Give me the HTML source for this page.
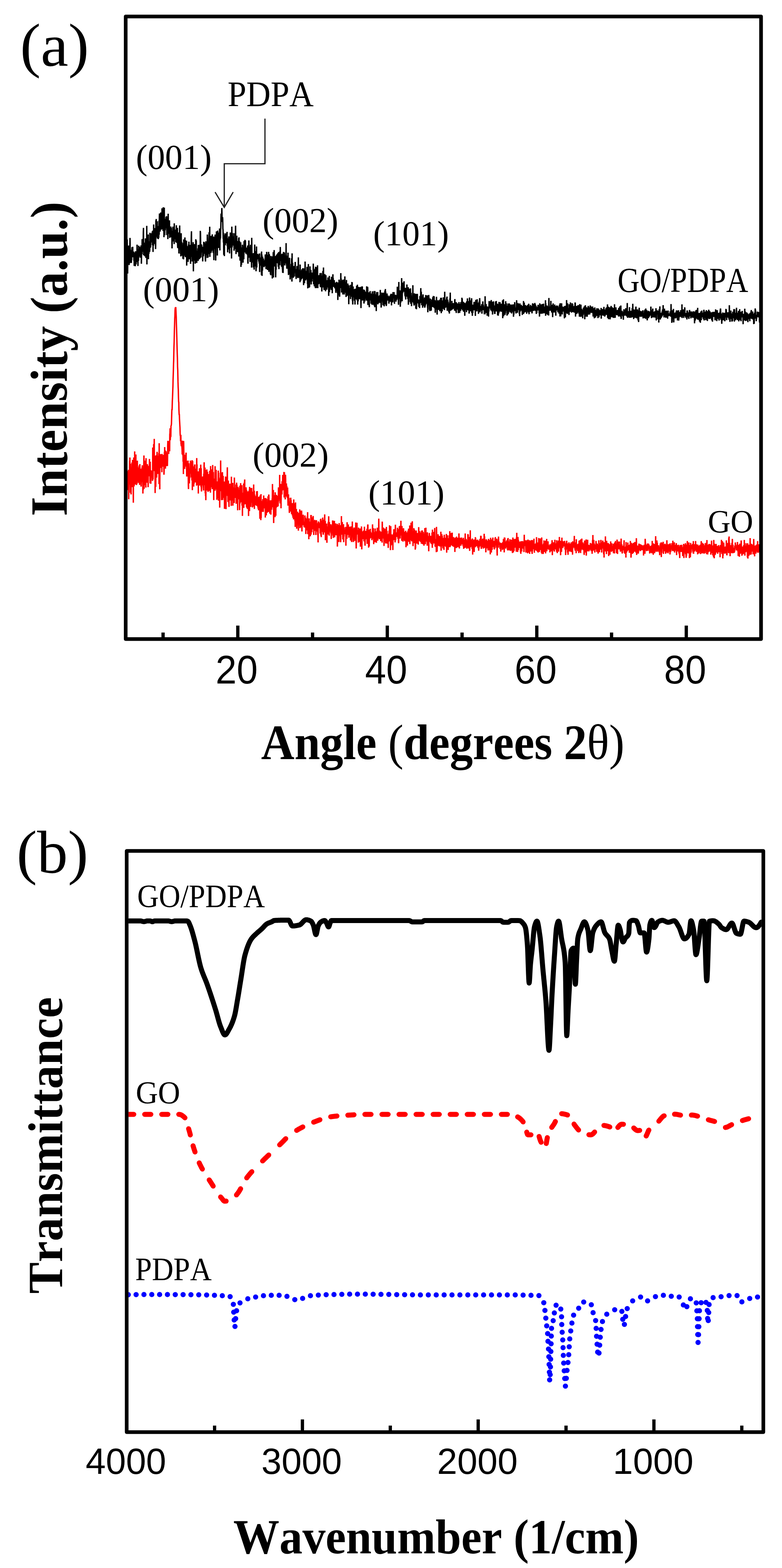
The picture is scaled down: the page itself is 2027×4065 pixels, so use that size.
<!DOCTYPE html>
<html><head><meta charset="utf-8"><title>XRD and FTIR</title>
<style>html,body{margin:0;padding:0;background:#fff;}svg{display:block;}text{font-kerning:none;}</style>
</head><body>
<svg width="2027" height="4065" viewBox="0 0 2027 4065"><defs><clipPath id="clipA"><rect x="325.8" y="42.7" width="1646.9" height="1614.1"/></clipPath><clipPath id="clipB"><rect x="333.15" y="2210.75" width="1640.7" height="1497.3"/></clipPath></defs><g clip-path="url(#clipA)">
<polyline points="325.8,1241.8 326.2,1255.5 326.6,1221.5 327.0,1225.2 327.4,1266.4 327.7,1255.8 328.1,1271.7 328.5,1246.0 328.9,1242.1 329.3,1255.7 329.7,1270.7 330.1,1262.7 330.5,1221.2 330.8,1257.9 331.2,1225.7 331.6,1258.5 332.0,1230.1 332.4,1226.5 332.8,1236.5 333.2,1218.0 333.6,1294.2 333.9,1243.5 334.3,1255.8 334.7,1252.4 335.1,1244.0 335.5,1233.2 335.9,1194.2 336.3,1252.8 336.7,1186.1 337.0,1223.3 337.4,1237.2 337.8,1277.6 338.2,1202.2 338.6,1226.4 339.0,1213.9 339.4,1277.0 339.8,1281.7 340.1,1250.0 340.5,1228.7 340.9,1222.3 341.3,1212.4 341.7,1260.6 342.1,1198.9 342.5,1223.0 342.9,1263.1 343.2,1241.1 343.6,1192.2 344.0,1249.2 344.4,1230.5 344.8,1233.0 345.2,1238.7 345.6,1303.2 346.0,1224.8 346.3,1236.9 346.7,1186.1 347.1,1216.2 347.5,1261.0 347.9,1251.6 348.3,1234.2 348.7,1241.0 349.1,1170.3 349.4,1219.2 349.8,1237.8 350.2,1254.9 350.6,1255.9 351.0,1210.3 351.4,1243.8 351.8,1245.3 352.2,1178.2 352.5,1228.0 352.9,1220.6 353.3,1232.4 353.7,1235.9 354.1,1257.4 354.5,1218.9 354.9,1214.3 355.3,1253.6 355.6,1236.9 356.0,1194.3 356.4,1227.8 356.8,1233.0 357.2,1248.6 357.6,1247.1 358.0,1221.6 358.4,1211.5 358.7,1229.0 359.1,1212.7 359.5,1252.2 359.9,1242.5 360.3,1225.2 360.7,1206.8 361.1,1243.6 361.5,1211.2 361.8,1257.1 362.2,1207.5 362.6,1203.2 363.0,1239.5 363.4,1224.3 363.8,1215.1 364.2,1247.1 364.6,1240.8 364.9,1235.1 365.3,1232.3 365.7,1261.5 366.1,1251.7 366.5,1247.4 366.9,1216.2 367.3,1245.0 367.7,1234.9 368.0,1211.9 368.4,1229.0 368.8,1206.3 369.2,1227.6 369.6,1232.2 370.0,1246.1 370.4,1279.5 370.8,1238.0 371.1,1270.3 371.5,1211.1 371.9,1216.3 372.3,1218.5 372.7,1203.1 373.1,1180.8 373.5,1267.4 373.9,1231.1 374.2,1209.6 374.6,1233.0 375.0,1230.2 375.4,1232.1 375.8,1215.6 376.2,1258.1 376.6,1194.2 377.0,1227.9 377.3,1221.5 377.7,1213.6 378.1,1263.9 378.5,1187.8 378.9,1210.8 379.3,1217.0 379.7,1207.8 380.1,1230.4 380.4,1209.3 380.8,1210.4 381.2,1206.3 381.6,1251.4 382.0,1203.3 382.4,1247.5 382.8,1211.8 383.2,1212.4 383.5,1207.4 383.9,1263.1 384.3,1220.5 384.7,1222.8 385.1,1227.0 385.5,1217.4 385.9,1220.8 386.3,1214.0 386.6,1211.4 387.0,1234.5 387.4,1189.8 387.8,1221.2 388.2,1234.9 388.6,1206.3 389.0,1253.3 389.4,1197.1 389.7,1228.5 390.1,1219.3 390.5,1219.8 390.9,1254.2 391.3,1234.6 391.7,1230.7 392.1,1219.8 392.5,1233.9 392.8,1221.3 393.2,1231.7 393.6,1228.1 394.0,1235.5 394.4,1238.3 394.8,1229.2 395.2,1246.5 395.6,1244.6 395.9,1160.2 396.3,1218.4 396.7,1242.8 397.1,1212.2 397.5,1202.3 397.9,1215.1 398.3,1151.3 398.7,1212.9 399.0,1210.9 399.4,1174.6 399.8,1137.7 400.2,1220.8 400.6,1216.7 401.0,1207.0 401.4,1221.9 401.8,1215.8 402.1,1278.2 402.5,1181.3 402.9,1258.0 403.3,1218.1 403.7,1262.2 404.1,1217.8 404.5,1186.5 404.9,1180.4 405.2,1216.1 405.6,1204.4 406.0,1238.3 406.4,1205.2 406.8,1182.7 407.2,1171.4 407.6,1178.7 408.0,1205.2 408.3,1182.9 408.7,1222.8 409.1,1228.5 409.5,1181.5 409.9,1189.8 410.3,1195.9 410.7,1224.5 411.1,1204.5 411.4,1218.4 411.8,1174.5 412.2,1255.1 412.6,1149.1 413.0,1223.3 413.4,1236.0 413.8,1217.6 414.2,1268.4 414.5,1195.7 414.9,1181.7 415.3,1213.8 415.7,1177.3 416.1,1191.6 416.5,1204.6 416.9,1189.0 417.3,1212.4 417.6,1196.7 418.0,1184.5 418.4,1197.7 418.8,1196.4 419.2,1177.6 419.6,1224.2 420.0,1176.7 420.4,1201.6 420.7,1186.6 421.1,1203.1 421.5,1184.6 421.9,1209.9 422.3,1190.5 422.7,1187.3 423.1,1195.4 423.5,1193.7 423.8,1179.4 424.2,1180.5 424.6,1195.4 425.0,1230.8 425.4,1219.4 425.8,1201.5 426.2,1171.7 426.6,1183.7 426.9,1159.0 427.3,1183.5 427.7,1183.7 428.1,1197.2 428.5,1167.8 428.9,1214.9 429.3,1182.9 429.7,1191.1 430.0,1197.2 430.4,1169.8 430.8,1197.7 431.2,1177.9 431.6,1189.6 432.0,1208.2 432.4,1205.1 432.8,1181.9 433.1,1202.5 433.5,1173.4 433.9,1208.3 434.3,1194.0 434.7,1154.5 435.1,1142.8 435.5,1153.9 435.9,1143.2 436.2,1168.1 436.6,1173.1 437.0,1170.1 437.4,1176.8 437.8,1152.7 438.2,1154.2 438.6,1143.5 439.0,1162.9 439.3,1146.6 439.7,1169.9 440.1,1125.7 440.5,1123.4 440.9,1110.3 441.3,1141.1 441.7,1133.4 442.1,1133.0 442.4,1131.4 442.8,1132.5 443.2,1103.4 443.6,1104.9 444.0,1101.6 444.4,1099.9 444.8,1084.1 445.2,1070.7 445.5,1061.0 445.9,1063.9 446.3,1056.4 446.7,1039.5 447.1,1033.2 447.5,1022.1 447.9,1010.0 448.3,1000.2 448.6,985.1 449.0,974.0 449.4,961.4 449.8,943.2 450.2,934.9 450.6,913.3 451.0,897.4 451.4,886.3 451.7,871.8 452.1,854.5 452.5,842.8 452.9,826.5 453.3,819.4 453.7,805.0 454.1,800.7 454.5,797.0 454.8,803.2 455.2,798.2 455.6,796.2 456.0,804.2 456.4,813.2 456.8,821.2 457.2,837.6 457.6,850.3 457.9,860.5 458.3,874.2 458.7,890.2 459.1,905.2 459.5,919.0 459.9,929.9 460.3,951.7 460.7,959.0 461.0,973.0 461.4,989.9 461.8,1002.8 462.2,1010.9 462.6,1030.5 463.0,1041.5 463.4,1042.4 463.8,1062.0 464.1,1069.3 464.5,1076.4 464.9,1073.6 465.3,1086.5 465.7,1094.1 466.1,1101.9 466.5,1108.1 466.9,1122.9 467.2,1130.0 467.6,1129.3 468.0,1143.6 468.4,1135.6 468.8,1127.3 469.2,1150.7 469.6,1152.7 470.0,1156.8 470.3,1142.3 470.7,1154.3 471.1,1151.5 471.5,1158.8 471.9,1164.2 472.3,1178.1 472.7,1171.4 473.1,1142.5 473.4,1169.0 473.8,1180.2 474.2,1163.7 474.6,1197.1 475.0,1162.5 475.4,1229.0 475.8,1143.2 476.2,1149.0 476.5,1176.4 476.9,1180.3 477.3,1195.4 477.7,1180.4 478.1,1179.1 478.5,1215.6 478.9,1209.9 479.3,1185.6 479.6,1205.8 480.0,1194.3 480.4,1196.1 480.8,1196.3 481.2,1204.4 481.6,1190.0 482.0,1176.1 482.4,1173.5 482.7,1210.1 483.1,1202.3 483.5,1203.7 483.9,1233.4 484.3,1235.3 484.7,1209.8 485.1,1199.8 485.5,1194.7 485.8,1216.7 486.2,1198.4 486.6,1213.5 487.0,1220.2 487.4,1194.1 487.8,1221.0 488.2,1257.6 488.6,1267.9 488.9,1216.1 489.3,1201.0 489.7,1218.6 490.1,1230.5 490.5,1240.0 490.9,1253.2 491.3,1215.5 491.7,1240.0 492.0,1222.7 492.4,1215.7 492.8,1223.0 493.2,1220.6 493.6,1194.1 494.0,1217.9 494.4,1219.3 494.8,1227.8 495.1,1197.1 495.5,1200.6 495.9,1237.5 496.3,1219.0 496.7,1229.8 497.1,1236.1 497.5,1245.6 497.9,1193.1 498.2,1218.0 498.6,1270.7 499.0,1208.7 499.4,1195.1 499.8,1227.8 500.2,1231.6 500.6,1227.7 501.0,1212.7 501.3,1242.2 501.7,1223.6 502.1,1261.6 502.5,1209.0 502.9,1254.7 503.3,1240.1 503.7,1224.9 504.1,1213.2 504.4,1204.5 504.8,1247.2 505.2,1204.1 505.6,1234.9 506.0,1250.6 506.4,1244.7 506.8,1221.3 507.2,1221.1 507.5,1215.1 507.9,1226.9 508.3,1243.7 508.7,1226.7 509.1,1220.8 509.5,1258.9 509.9,1187.5 510.3,1236.8 510.6,1204.0 511.0,1242.8 511.4,1252.7 511.8,1236.0 512.2,1229.6 512.6,1224.3 513.0,1257.5 513.4,1244.8 513.7,1222.0 514.1,1279.4 514.5,1231.7 514.9,1229.6 515.3,1223.9 515.7,1258.9 516.1,1231.6 516.5,1224.9 516.8,1224.6 517.2,1213.7 517.6,1258.5 518.0,1249.2 518.4,1244.4 518.8,1240.0 519.2,1218.8 519.6,1222.7 519.9,1237.2 520.3,1204.6 520.7,1227.4 521.1,1262.6 521.5,1213.9 521.9,1265.7 522.3,1274.1 522.7,1248.4 523.0,1249.7 523.4,1242.6 523.8,1240.5 524.2,1256.5 524.6,1255.6 525.0,1248.2 525.4,1235.3 525.8,1245.8 526.1,1257.6 526.5,1257.1 526.9,1261.3 527.3,1267.6 527.7,1271.5 528.1,1228.2 528.5,1248.7 528.9,1210.3 529.2,1198.4 529.6,1229.2 530.0,1232.4 530.4,1257.9 530.8,1239.6 531.2,1212.0 531.6,1224.1 532.0,1279.1 532.3,1230.6 532.7,1286.0 533.1,1242.6 533.5,1296.7 533.9,1264.0 534.3,1218.1 534.7,1249.9 535.1,1231.1 535.4,1237.0 535.8,1227.1 536.2,1217.0 536.6,1271.8 537.0,1244.2 537.4,1239.3 537.8,1222.8 538.2,1232.5 538.5,1248.8 538.9,1270.4 539.3,1275.2 539.7,1261.7 540.1,1240.3 540.5,1240.8 540.9,1235.7 541.3,1272.9 541.6,1228.9 542.0,1271.6 542.4,1239.6 542.8,1258.4 543.2,1256.4 543.6,1220.4 544.0,1245.2 544.4,1246.6 544.7,1245.1 545.1,1271.7 545.5,1277.2 545.9,1208.3 546.3,1244.5 546.7,1245.9 547.1,1246.1 547.5,1254.9 547.8,1261.6 548.2,1263.1 548.6,1239.8 549.0,1249.6 549.4,1226.5 549.8,1216.5 550.2,1267.9 550.6,1233.9 550.9,1255.4 551.3,1205.4 551.7,1243.7 552.1,1228.9 552.5,1257.6 552.9,1223.8 553.3,1262.8 553.7,1273.0 554.0,1296.5 554.4,1250.3 554.8,1246.7 555.2,1246.4 555.6,1240.9 556.0,1251.0 556.4,1251.4 556.8,1272.1 557.1,1270.4 557.5,1208.4 557.9,1246.1 558.3,1241.1 558.7,1239.1 559.1,1238.1 559.5,1267.7 559.9,1246.9 560.2,1218.0 560.6,1256.2 561.0,1258.0 561.4,1271.0 561.8,1261.7 562.2,1295.7 562.6,1254.8 563.0,1290.8 563.3,1248.1 563.7,1271.9 564.1,1253.7 564.5,1253.8 564.9,1275.5 565.3,1291.7 565.7,1220.0 566.1,1246.1 566.4,1298.1 566.8,1225.3 567.2,1264.5 567.6,1238.1 568.0,1259.1 568.4,1260.2 568.8,1241.2 569.2,1264.2 569.5,1315.9 569.9,1247.2 570.3,1259.8 570.7,1259.6 571.1,1264.6 571.5,1250.5 571.9,1193.7 572.3,1239.6 572.6,1253.1 573.0,1260.9 573.4,1273.4 573.8,1225.3 574.2,1296.6 574.6,1278.7 575.0,1262.9 575.4,1257.3 575.7,1254.8 576.1,1291.0 576.5,1224.0 576.9,1245.8 577.3,1296.2 577.7,1278.7 578.1,1286.7 578.5,1233.7 578.8,1269.2 579.2,1290.6 579.6,1266.6 580.0,1286.0 580.4,1260.4 580.8,1248.2 581.2,1283.2 581.6,1257.1 581.9,1319.2 582.3,1275.3 582.7,1252.5 583.1,1274.3 583.5,1249.5 583.9,1264.6 584.3,1270.6 584.7,1235.4 585.0,1243.6 585.4,1268.2 585.8,1320.0 586.2,1257.7 586.6,1272.4 587.0,1255.5 587.4,1263.2 587.8,1268.1 588.1,1270.3 588.5,1237.3 588.9,1235.7 589.3,1211.6 589.7,1285.8 590.1,1271.6 590.5,1261.6 590.9,1301.6 591.2,1245.4 591.6,1280.3 592.0,1247.2 592.4,1294.9 592.8,1258.7 593.2,1299.2 593.6,1314.3 594.0,1281.5 594.3,1293.5 594.7,1292.8 595.1,1277.3 595.5,1263.3 595.9,1253.7 596.3,1286.8 596.7,1297.5 597.1,1261.8 597.4,1290.8 597.8,1293.8 598.2,1261.7 598.6,1274.3 599.0,1266.7 599.4,1311.4 599.8,1235.8 600.2,1297.8 600.5,1270.2 600.9,1288.4 601.3,1255.5 601.7,1266.1 602.1,1251.7 602.5,1270.0 602.9,1277.3 603.3,1252.1 603.6,1310.9 604.0,1266.9 604.4,1302.8 604.8,1279.3 605.2,1285.5 605.6,1292.5 606.0,1263.5 606.4,1267.4 606.7,1286.4 607.1,1304.1 607.5,1238.1 607.9,1272.0 608.3,1289.1 608.7,1275.6 609.1,1272.3 609.5,1290.9 609.8,1265.2 610.2,1270.6 610.6,1288.4 611.0,1287.6 611.4,1287.9 611.8,1256.0 612.2,1306.0 612.6,1285.1 612.9,1258.9 613.3,1251.4 613.7,1270.9 614.1,1256.5 614.5,1291.4 614.9,1292.9 615.3,1267.9 615.7,1264.0 616.0,1323.0 616.4,1273.2 616.8,1262.0 617.2,1293.2 617.6,1264.8 618.0,1289.4 618.4,1279.3 618.8,1289.6 619.1,1270.4 619.5,1291.0 619.9,1294.6 620.3,1284.1 620.7,1270.1 621.1,1322.5 621.5,1265.3 621.9,1259.6 622.2,1305.1 622.6,1287.5 623.0,1258.4 623.4,1284.7 623.8,1252.5 624.2,1284.5 624.6,1297.5 625.0,1294.8 625.3,1281.5 625.7,1301.6 626.1,1299.1 626.5,1297.9 626.9,1257.7 627.3,1310.8 627.7,1310.1 628.1,1279.8 628.4,1337.6 628.8,1278.6 629.2,1278.1 629.6,1283.0 630.0,1279.6 630.4,1285.7 630.8,1301.9 631.2,1288.9 631.5,1253.4 631.9,1316.7 632.3,1289.0 632.7,1308.2 633.1,1286.4 633.5,1249.5 633.9,1251.9 634.3,1243.1 634.6,1298.0 635.0,1298.7 635.4,1286.6 635.8,1307.3 636.2,1279.7 636.6,1301.5 637.0,1285.6 637.4,1298.7 637.7,1263.3 638.1,1271.0 638.5,1297.2 638.9,1314.4 639.3,1270.3 639.7,1299.6 640.1,1316.6 640.5,1286.9 640.8,1273.7 641.2,1319.5 641.6,1278.8 642.0,1297.0 642.4,1296.6 642.8,1284.2 643.2,1299.3 643.6,1305.4 643.9,1274.0 644.3,1337.8 644.7,1275.8 645.1,1316.8 645.5,1272.2 645.9,1315.2 646.3,1269.6 646.7,1325.0 647.0,1262.3 647.4,1291.6 647.8,1298.1 648.2,1311.3 648.6,1276.3 649.0,1297.7 649.4,1283.7 649.8,1292.0 650.1,1314.3 650.5,1264.9 650.9,1297.9 651.3,1298.4 651.7,1290.5 652.1,1294.8 652.5,1265.1 652.9,1302.7 653.2,1300.3 653.6,1294.2 654.0,1301.3 654.4,1315.6 654.8,1276.2 655.2,1313.2 655.6,1274.5 656.0,1294.5 656.3,1281.7 656.7,1296.7 657.1,1313.0 657.5,1255.9 657.9,1303.2 658.3,1313.1 658.7,1289.2 659.1,1272.3 659.4,1319.4 659.8,1294.6 660.2,1282.1 660.6,1299.2 661.0,1287.3 661.4,1304.7 661.8,1293.6 662.2,1309.6 662.5,1289.6 662.9,1297.6 663.3,1292.9 663.7,1301.6 664.1,1285.7 664.5,1297.2 664.9,1311.2 665.3,1273.7 665.6,1294.4 666.0,1303.4 666.4,1301.6 666.8,1273.0 667.2,1297.5 667.6,1294.0 668.0,1313.4 668.4,1301.3 668.7,1309.8 669.1,1318.7 669.5,1318.4 669.9,1312.4 670.3,1322.9 670.7,1290.1 671.1,1287.9 671.5,1316.7 671.8,1294.6 672.2,1314.1 672.6,1296.8 673.0,1295.0 673.4,1331.4 673.8,1345.0 674.2,1284.3 674.6,1295.3 674.9,1304.2 675.3,1313.4 675.7,1316.4 676.1,1348.4 676.5,1281.0 676.9,1343.3 677.3,1301.5 677.7,1309.3 678.0,1300.6 678.4,1327.0 678.8,1320.5 679.2,1298.9 679.6,1325.6 680.0,1305.4 680.4,1314.6 680.8,1324.0 681.1,1294.0 681.5,1307.0 681.9,1298.5 682.3,1327.3 682.7,1316.9 683.1,1314.0 683.5,1284.4 683.9,1318.0 684.2,1308.4 684.6,1314.2 685.0,1305.7 685.4,1308.9 685.8,1291.8 686.2,1292.9 686.6,1315.4 687.0,1301.1 687.3,1298.2 687.7,1341.7 688.1,1291.1 688.5,1317.1 688.9,1291.0 689.3,1314.8 689.7,1306.8 690.1,1336.2 690.4,1329.7 690.8,1293.2 691.2,1324.4 691.6,1317.9 692.0,1311.8 692.4,1329.5 692.8,1314.5 693.2,1313.4 693.5,1300.9 693.9,1317.6 694.3,1321.0 694.7,1287.8 695.1,1287.1 695.5,1309.5 695.9,1327.3 696.3,1303.9 696.6,1281.9 697.0,1287.3 697.4,1311.1 697.8,1321.2 698.2,1300.4 698.6,1297.3 699.0,1311.7 699.4,1331.7 699.7,1307.2 700.1,1297.1 700.5,1302.8 700.9,1302.4 701.3,1304.4 701.7,1317.4 702.1,1334.3 702.5,1312.4 702.8,1296.8 703.2,1307.4 703.6,1313.0 704.0,1321.5 704.4,1311.8 704.8,1303.4 705.2,1308.2 705.6,1291.9 705.9,1297.6 706.3,1254.8 706.7,1315.1 707.1,1303.1 707.5,1309.6 707.9,1303.6 708.3,1305.0 708.7,1270.2 709.0,1323.7 709.4,1355.9 709.8,1320.0 710.2,1302.2 710.6,1304.3 711.0,1283.6 711.4,1310.2 711.8,1318.5 712.1,1302.1 712.5,1302.5 712.9,1340.7 713.3,1276.2 713.7,1297.6 714.1,1292.4 714.5,1285.4 714.9,1337.2 715.2,1300.8 715.6,1316.6 716.0,1315.1 716.4,1282.8 716.8,1309.5 717.2,1295.2 717.6,1306.8 718.0,1309.6 718.3,1284.9 718.7,1314.2 719.1,1285.3 719.5,1302.9 719.9,1295.4 720.3,1298.8 720.7,1312.8 721.1,1302.5 721.4,1300.5 721.8,1263.6 722.2,1281.6 722.6,1294.7 723.0,1289.7 723.4,1292.3 723.8,1264.6 724.2,1292.7 724.5,1295.0 724.9,1231.0 725.3,1299.2 725.7,1294.8 726.1,1305.3 726.5,1276.7 726.9,1285.5 727.3,1292.7 727.6,1263.4 728.0,1254.6 728.4,1317.7 728.8,1290.3 729.2,1264.0 729.6,1279.7 730.0,1263.2 730.4,1261.1 730.7,1281.9 731.1,1247.5 731.5,1259.0 731.9,1257.6 732.3,1271.4 732.7,1237.9 733.1,1231.0 733.5,1247.3 733.8,1263.1 734.2,1265.3 734.6,1264.4 735.0,1270.0 735.4,1250.4 735.8,1223.6 736.2,1228.0 736.6,1289.8 736.9,1259.1 737.3,1224.3 737.7,1237.8 738.1,1238.9 738.5,1259.8 738.9,1262.4 739.3,1294.8 739.7,1270.7 740.0,1230.8 740.4,1240.9 740.8,1272.1 741.2,1266.6 741.6,1263.0 742.0,1283.1 742.4,1253.3 742.8,1287.2 743.1,1259.9 743.5,1261.5 743.9,1279.7 744.3,1284.9 744.7,1290.5 745.1,1268.7 745.5,1264.0 745.9,1286.9 746.2,1295.5 746.6,1310.9 747.0,1285.4 747.4,1299.1 747.8,1281.6 748.2,1309.5 748.6,1300.2 749.0,1303.8 749.3,1290.7 749.7,1318.3 750.1,1329.6 750.5,1302.1 750.9,1311.6 751.3,1311.8 751.7,1307.9 752.1,1299.8 752.4,1306.8 752.8,1326.3 753.2,1310.3 753.6,1290.4 754.0,1316.9 754.4,1296.3 754.8,1309.9 755.2,1325.9 755.5,1324.6 755.9,1332.7 756.3,1318.4 756.7,1311.2 757.1,1320.3 757.5,1317.9 757.9,1336.4 758.3,1304.3 758.6,1315.0 759.0,1322.9 759.4,1342.3 759.8,1313.2 760.2,1337.8 760.6,1303.8 761.0,1346.6 761.4,1294.8 761.7,1335.3 762.1,1338.2 762.5,1341.0 762.9,1305.0 763.3,1333.9 763.7,1340.5 764.1,1333.3 764.5,1350.6 764.8,1327.8 765.2,1366.1 765.6,1330.8 766.0,1302.6 766.4,1333.5 766.8,1332.2 767.2,1321.8 767.6,1333.6 767.9,1341.3 768.3,1319.6 768.7,1349.3 769.1,1370.7 769.5,1360.0 769.9,1346.8 770.3,1332.9 770.7,1326.6 771.0,1356.6 771.4,1326.6 771.8,1337.1 772.2,1333.8 772.6,1358.4 773.0,1347.5 773.4,1375.7 773.8,1343.5 774.1,1350.8 774.5,1335.5 774.9,1329.7 775.3,1359.6 775.7,1333.5 776.1,1331.4 776.5,1351.4 776.9,1320.5 777.2,1359.4 777.6,1369.1 778.0,1326.8 778.4,1323.9 778.8,1341.5 779.2,1367.0 779.6,1348.5 780.0,1332.3 780.3,1360.9 780.7,1352.9 781.1,1350.6 781.5,1323.8 781.9,1326.7 782.3,1370.2 782.7,1377.8 783.1,1343.9 783.4,1361.0 783.8,1352.2 784.2,1350.8 784.6,1356.9 785.0,1339.5 785.4,1340.4 785.8,1334.4 786.2,1340.4 786.5,1361.4 786.9,1359.7 787.3,1357.6 787.7,1352.3 788.1,1363.9 788.5,1366.2 788.9,1366.1 789.3,1361.1 789.6,1356.7 790.0,1366.8 790.4,1336.2 790.8,1362.5 791.2,1354.1 791.6,1341.6 792.0,1368.2 792.4,1348.3 792.7,1384.5 793.1,1353.9 793.5,1361.6 793.9,1375.3 794.3,1351.0 794.7,1344.3 795.1,1354.7 795.5,1352.4 795.8,1371.4 796.2,1352.6 796.6,1337.9 797.0,1375.1 797.4,1327.8 797.8,1384.7 798.2,1346.8 798.6,1368.2 798.9,1356.7 799.3,1360.2 799.7,1359.9 800.1,1345.9 800.5,1397.9 800.9,1357.5 801.3,1343.8 801.7,1378.7 802.0,1391.0 802.4,1368.5 802.8,1369.0 803.2,1373.6 803.6,1352.2 804.0,1359.9 804.4,1390.1 804.8,1369.5 805.1,1381.9 805.5,1369.3 805.9,1335.1 806.3,1386.0 806.7,1335.2 807.1,1362.8 807.5,1365.2 807.9,1370.3 808.2,1380.0 808.6,1353.8 809.0,1367.3 809.4,1372.2 809.8,1363.9 810.2,1341.4 810.6,1369.8 811.0,1365.6 811.3,1344.5 811.7,1337.7 812.1,1351.6 812.5,1352.3 812.9,1363.9 813.3,1387.0 813.7,1350.5 814.1,1362.5 814.4,1359.3 814.8,1356.8 815.2,1360.1 815.6,1376.4 816.0,1347.7 816.4,1357.8 816.8,1357.9 817.2,1359.5 817.5,1357.8 817.9,1361.2 818.3,1365.2 818.7,1387.0 819.1,1372.2 819.5,1360.3 819.9,1349.0 820.3,1349.5 820.6,1377.9 821.0,1371.4 821.4,1373.0 821.8,1360.2 822.2,1360.7 822.6,1356.3 823.0,1373.8 823.4,1369.4 823.7,1387.2 824.1,1380.4 824.5,1406.3 824.9,1354.0 825.3,1351.7 825.7,1363.0 826.1,1364.6 826.5,1354.1 826.8,1366.9 827.2,1365.5 827.6,1368.6 828.0,1359.4 828.4,1366.3 828.8,1369.3 829.2,1357.0 829.6,1362.6 829.9,1383.1 830.3,1366.2 830.7,1346.6 831.1,1360.0 831.5,1344.8 831.9,1388.7 832.3,1360.7 832.7,1392.5 833.0,1357.8 833.4,1375.1 833.8,1368.6 834.2,1349.2 834.6,1378.0 835.0,1376.2 835.4,1372.1 835.8,1356.9 836.1,1348.7 836.5,1341.8 836.9,1379.8 837.3,1366.7 837.7,1383.8 838.1,1386.2 838.5,1360.9 838.9,1374.9 839.2,1347.1 839.6,1380.5 840.0,1348.1 840.4,1351.8 840.8,1372.5 841.2,1365.5 841.6,1333.6 842.0,1365.0 842.3,1367.7 842.7,1379.5 843.1,1350.5 843.5,1400.6 843.9,1359.5 844.3,1368.2 844.7,1366.4 845.1,1389.2 845.4,1371.7 845.8,1376.3 846.2,1367.3 846.6,1357.3 847.0,1381.0 847.4,1407.3 847.8,1365.2 848.2,1366.7 848.5,1369.5 848.9,1378.4 849.3,1382.1 849.7,1368.3 850.1,1385.6 850.5,1375.8 850.9,1352.7 851.3,1372.9 851.6,1358.5 852.0,1338.4 852.4,1369.8 852.8,1356.7 853.2,1388.8 853.6,1353.8 854.0,1354.8 854.4,1369.0 854.7,1359.7 855.1,1363.0 855.5,1363.4 855.9,1359.1 856.3,1368.5 856.7,1378.4 857.1,1363.3 857.5,1382.5 857.8,1359.3 858.2,1377.6 858.6,1397.4 859.0,1374.6 859.4,1380.2 859.8,1381.9 860.2,1362.8 860.6,1383.5 860.9,1368.9 861.3,1380.6 861.7,1367.2 862.1,1349.2 862.5,1370.7 862.9,1388.6 863.3,1369.1 863.7,1349.8 864.0,1394.4 864.4,1358.9 864.8,1383.3 865.2,1371.1 865.6,1374.9 866.0,1384.2 866.4,1384.3 866.8,1350.2 867.1,1379.7 867.5,1393.0 867.9,1372.5 868.3,1364.6 868.7,1379.6 869.1,1362.9 869.5,1378.1 869.9,1356.8 870.2,1364.5 870.6,1387.6 871.0,1381.0 871.4,1385.3 871.8,1379.6 872.2,1373.2 872.6,1382.0 873.0,1378.5 873.3,1366.8 873.7,1365.6 874.1,1358.0 874.5,1417.0 874.9,1396.7 875.3,1385.9 875.7,1376.8 876.1,1388.5 876.4,1389.0 876.8,1367.9 877.2,1360.8 877.6,1391.2 878.0,1367.9 878.4,1405.3 878.8,1370.6 879.2,1356.1 879.5,1365.6 879.9,1388.2 880.3,1388.8 880.7,1381.8 881.1,1361.6 881.5,1373.4 881.9,1375.4 882.3,1371.6 882.6,1391.9 883.0,1405.8 883.4,1385.9 883.8,1384.8 884.2,1374.9 884.6,1378.0 885.0,1337.9 885.4,1384.3 885.7,1385.9 886.1,1360.9 886.5,1378.2 886.9,1354.0 887.3,1354.5 887.7,1368.0 888.1,1369.0 888.5,1398.4 888.8,1377.9 889.2,1376.1 889.6,1370.6 890.0,1366.2 890.4,1358.9 890.8,1405.6 891.2,1385.2 891.6,1391.3 891.9,1366.9 892.3,1379.2 892.7,1378.0 893.1,1384.9 893.5,1380.6 893.9,1384.7 894.3,1377.7 894.7,1375.7 895.0,1375.8 895.4,1382.5 895.8,1373.8 896.2,1365.8 896.6,1414.8 897.0,1377.5 897.4,1368.8 897.8,1386.3 898.1,1380.1 898.5,1374.3 898.9,1397.2 899.3,1387.9 899.7,1353.7 900.1,1376.7 900.5,1386.7 900.9,1372.3 901.2,1381.7 901.6,1384.9 902.0,1383.4 902.4,1366.7 902.8,1359.5 903.2,1386.6 903.6,1381.2 904.0,1374.2 904.3,1393.9 904.7,1378.9 905.1,1366.7 905.5,1365.8 905.9,1388.1 906.3,1383.8 906.7,1379.6 907.1,1368.8 907.4,1375.8 907.8,1365.6 908.2,1379.5 908.6,1401.1 909.0,1390.0 909.4,1400.8 909.8,1378.2 910.2,1364.5 910.5,1373.3 910.9,1386.3 911.3,1405.2 911.7,1380.8 912.1,1389.1 912.5,1388.9 912.9,1380.9 913.3,1352.0 913.6,1386.5 914.0,1382.9 914.4,1379.7 914.8,1370.2 915.2,1393.5 915.6,1405.2 916.0,1388.2 916.4,1378.7 916.7,1397.8 917.1,1383.4 917.5,1403.2 917.9,1367.6 918.3,1397.6 918.7,1383.8 919.1,1395.0 919.5,1390.1 919.8,1379.5 920.2,1390.7 920.6,1384.8 921.0,1368.9 921.4,1402.0 921.8,1373.3 922.2,1354.5 922.6,1387.9 922.9,1399.2 923.3,1422.0 923.7,1397.6 924.1,1378.9 924.5,1385.6 924.9,1384.7 925.3,1355.2 925.7,1384.6 926.0,1374.3 926.4,1378.9 926.8,1384.2 927.2,1378.7 927.6,1379.9 928.0,1383.7 928.4,1376.7 928.8,1406.7 929.1,1387.8 929.5,1367.9 929.9,1375.1 930.3,1389.9 930.7,1405.0 931.1,1381.7 931.5,1393.4 931.9,1371.3 932.2,1380.8 932.6,1403.7 933.0,1391.4 933.4,1381.1 933.8,1370.0 934.2,1417.2 934.6,1387.3 935.0,1402.1 935.3,1389.1 935.7,1397.1 936.1,1374.9 936.5,1382.3 936.9,1364.8 937.3,1370.7 937.7,1424.2 938.1,1413.7 938.4,1389.6 938.8,1393.5 939.2,1385.4 939.6,1395.7 940.0,1394.7 940.4,1377.6 940.8,1383.9 941.2,1395.3 941.5,1381.9 941.9,1397.8 942.3,1386.7 942.7,1375.3 943.1,1393.0 943.5,1403.5 943.9,1385.2 944.3,1391.8 944.6,1365.4 945.0,1388.6 945.4,1395.0 945.8,1401.8 946.2,1414.8 946.6,1397.6 947.0,1381.2 947.4,1398.7 947.7,1381.2 948.1,1376.4 948.5,1388.1 948.9,1395.4 949.3,1397.0 949.7,1377.1 950.1,1395.3 950.5,1380.1 950.8,1394.1 951.2,1370.9 951.6,1410.1 952.0,1373.6 952.4,1409.5 952.8,1367.9 953.2,1361.3 953.6,1359.8 953.9,1377.8 954.3,1397.7 954.7,1404.4 955.1,1386.6 955.5,1419.7 955.9,1383.3 956.3,1374.8 956.7,1373.2 957.0,1416.8 957.4,1392.1 957.8,1387.2 958.2,1379.9 958.6,1396.8 959.0,1372.9 959.4,1386.2 959.8,1370.9 960.1,1394.7 960.5,1388.5 960.9,1378.8 961.3,1389.0 961.7,1390.7 962.1,1393.6 962.5,1383.1 962.9,1381.6 963.2,1387.0 963.6,1386.8 964.0,1400.4 964.4,1387.9 964.8,1389.7 965.2,1395.7 965.6,1359.4 966.0,1380.2 966.3,1396.8 966.7,1392.5 967.1,1387.9 967.5,1386.0 967.9,1369.2 968.3,1389.6 968.7,1410.7 969.1,1383.0 969.4,1379.6 969.8,1381.4 970.2,1399.0 970.6,1390.5 971.0,1384.9 971.4,1385.3 971.8,1405.9 972.2,1384.2 972.5,1370.1 972.9,1380.0 973.3,1389.2 973.7,1399.9 974.1,1399.3 974.5,1387.9 974.9,1396.5 975.3,1396.5 975.6,1407.1 976.0,1382.3 976.4,1377.5 976.8,1388.5 977.2,1380.4 977.6,1386.2 978.0,1368.1 978.4,1388.8 978.7,1387.9 979.1,1401.9 979.5,1388.3 979.9,1392.4 980.3,1394.9 980.7,1369.9 981.1,1378.6 981.5,1375.6 981.8,1344.5 982.2,1390.8 982.6,1387.3 983.0,1375.6 983.4,1397.9 983.8,1389.9 984.2,1388.1 984.6,1375.7 984.9,1387.5 985.3,1379.2 985.7,1380.3 986.1,1391.1 986.5,1385.5 986.9,1402.9 987.3,1393.8 987.7,1381.5 988.0,1383.2 988.4,1383.7 988.8,1387.5 989.2,1378.1 989.6,1380.5 990.0,1387.1 990.4,1406.8 990.8,1352.3 991.1,1361.1 991.5,1387.4 991.9,1370.1 992.3,1390.9 992.7,1396.0 993.1,1385.0 993.5,1388.4 993.9,1367.7 994.2,1379.6 994.6,1377.7 995.0,1387.0 995.4,1415.4 995.8,1387.7 996.2,1401.3 996.6,1370.4 997.0,1394.8 997.3,1395.5 997.7,1370.5 998.1,1404.8 998.5,1383.9 998.9,1404.1 999.3,1384.7 999.7,1408.9 1000.1,1375.9 1000.4,1394.0 1000.8,1381.4 1001.2,1392.7 1001.6,1366.1 1002.0,1392.7 1002.4,1382.6 1002.8,1391.7 1003.2,1376.2 1003.5,1407.7 1003.9,1409.3 1004.3,1384.8 1004.7,1399.7 1005.1,1402.8 1005.5,1393.4 1005.9,1391.5 1006.3,1420.6 1006.6,1398.5 1007.0,1398.1 1007.4,1404.2 1007.8,1383.0 1008.2,1385.1 1008.6,1375.6 1009.0,1398.1 1009.4,1403.0 1009.7,1361.7 1010.1,1381.9 1010.5,1383.7 1010.9,1402.5 1011.3,1397.4 1011.7,1382.9 1012.1,1426.3 1012.5,1407.6 1012.8,1363.9 1013.2,1414.8 1013.6,1384.2 1014.0,1395.2 1014.4,1412.8 1014.8,1392.9 1015.2,1392.5 1015.6,1393.9 1015.9,1385.9 1016.3,1411.4 1016.7,1399.2 1017.1,1387.0 1017.5,1389.8 1017.9,1390.2 1018.3,1425.9 1018.7,1397.7 1019.0,1399.7 1019.4,1385.2 1019.8,1395.1 1020.2,1381.7 1020.6,1394.7 1021.0,1371.8 1021.4,1400.1 1021.8,1395.2 1022.1,1381.7 1022.5,1391.2 1022.9,1381.1 1023.3,1382.7 1023.7,1381.3 1024.1,1406.1 1024.5,1380.8 1024.9,1360.2 1025.2,1393.9 1025.6,1400.7 1026.0,1381.0 1026.4,1380.7 1026.8,1385.8 1027.2,1384.0 1027.6,1387.8 1028.0,1391.9 1028.3,1383.7 1028.7,1391.3 1029.1,1390.6 1029.5,1383.5 1029.9,1377.3 1030.3,1368.2 1030.7,1386.3 1031.1,1386.8 1031.4,1396.7 1031.8,1383.3 1032.2,1384.9 1032.6,1398.0 1033.0,1408.1 1033.4,1406.0 1033.8,1371.8 1034.2,1396.9 1034.5,1376.5 1034.9,1378.7 1035.3,1364.3 1035.7,1364.7 1036.1,1390.5 1036.5,1375.5 1036.9,1396.3 1037.3,1378.6 1037.6,1378.1 1038.0,1378.9 1038.4,1388.1 1038.8,1378.7 1039.2,1350.1 1039.6,1382.3 1040.0,1387.0 1040.4,1379.2 1040.7,1367.6 1041.1,1382.4 1041.5,1402.1 1041.9,1363.6 1042.3,1378.5 1042.7,1378.2 1043.1,1383.7 1043.5,1376.8 1043.8,1380.4 1044.2,1371.2 1044.6,1404.2 1045.0,1374.5 1045.4,1387.1 1045.8,1369.5 1046.2,1372.8 1046.6,1388.4 1046.9,1387.1 1047.3,1398.8 1047.7,1398.9 1048.1,1389.9 1048.5,1378.8 1048.9,1390.7 1049.3,1403.3 1049.7,1388.7 1050.0,1400.8 1050.4,1386.3 1050.8,1381.2 1051.2,1378.3 1051.6,1376.1 1052.0,1398.6 1052.4,1418.6 1052.8,1399.1 1053.1,1392.2 1053.5,1381.2 1053.9,1407.9 1054.3,1393.0 1054.7,1389.1 1055.1,1380.1 1055.5,1397.6 1055.9,1414.6 1056.2,1386.2 1056.6,1393.0 1057.0,1396.1 1057.4,1375.7 1057.8,1391.7 1058.2,1398.6 1058.6,1387.7 1059.0,1370.5 1059.3,1402.7 1059.7,1390.7 1060.1,1404.9 1060.5,1382.5 1060.9,1395.9 1061.3,1395.3 1061.7,1382.7 1062.1,1362.2 1062.4,1410.6 1062.8,1393.3 1063.2,1399.9 1063.6,1377.5 1064.0,1390.0 1064.4,1400.8 1064.8,1381.2 1065.2,1383.5 1065.5,1354.9 1065.9,1391.5 1066.3,1387.2 1066.7,1380.4 1067.1,1403.5 1067.5,1384.0 1067.9,1380.7 1068.3,1401.1 1068.6,1351.4 1069.0,1374.0 1069.4,1396.1 1069.8,1397.6 1070.2,1394.1 1070.6,1415.7 1071.0,1386.3 1071.4,1393.5 1071.7,1404.3 1072.1,1377.0 1072.5,1406.8 1072.9,1369.3 1073.3,1393.5 1073.7,1408.2 1074.1,1402.0 1074.5,1373.2 1074.8,1398.3 1075.2,1403.8 1075.6,1378.0 1076.0,1378.7 1076.4,1424.9 1076.8,1381.9 1077.2,1421.7 1077.6,1390.7 1077.9,1387.0 1078.3,1391.9 1078.7,1375.4 1079.1,1381.5 1079.5,1409.2 1079.9,1399.4 1080.3,1390.2 1080.7,1395.8 1081.0,1391.7 1081.4,1398.0 1081.8,1393.1 1082.2,1381.9 1082.6,1388.5 1083.0,1409.4 1083.4,1398.6 1083.8,1390.7 1084.1,1411.9 1084.5,1382.8 1084.9,1394.1 1085.3,1366.6 1085.7,1386.4 1086.1,1378.0 1086.5,1399.7 1086.9,1402.2 1087.2,1385.5 1087.6,1399.8 1088.0,1376.8 1088.4,1383.3 1088.8,1383.4 1089.2,1392.2 1089.6,1404.6 1090.0,1380.9 1090.3,1400.8 1090.7,1394.5 1091.1,1385.7 1091.5,1398.5 1091.9,1399.5 1092.3,1409.6 1092.7,1382.7 1093.1,1375.6 1093.4,1404.3 1093.8,1381.9 1094.2,1388.9 1094.6,1375.0 1095.0,1383.1 1095.4,1386.9 1095.8,1410.8 1096.2,1402.4 1096.5,1389.1 1096.9,1379.1 1097.3,1393.8 1097.7,1396.0 1098.1,1389.8 1098.5,1399.4 1098.9,1414.7 1099.3,1402.1 1099.6,1383.0 1100.0,1386.1 1100.4,1393.6 1100.8,1407.1 1101.2,1369.1 1101.6,1389.8 1102.0,1398.3 1102.4,1410.7 1102.7,1402.2 1103.1,1390.8 1103.5,1401.1 1103.9,1368.0 1104.3,1400.9 1104.7,1391.3 1105.1,1400.2 1105.5,1385.5 1105.8,1404.0 1106.2,1396.8 1106.6,1386.1 1107.0,1393.5 1107.4,1414.8 1107.8,1380.0 1108.2,1388.6 1108.6,1406.5 1108.9,1401.7 1109.3,1389.8 1109.7,1405.7 1110.1,1390.1 1110.5,1411.2 1110.9,1396.1 1111.3,1429.2 1111.7,1402.2 1112.0,1396.1 1112.4,1393.4 1112.8,1381.7 1113.2,1384.4 1113.6,1395.3 1114.0,1394.8 1114.4,1402.0 1114.8,1389.7 1115.1,1403.2 1115.5,1404.5 1115.9,1389.0 1116.3,1401.4 1116.7,1408.1 1117.1,1407.9 1117.5,1400.1 1117.9,1394.0 1118.2,1405.4 1118.6,1410.3 1119.0,1405.4 1119.4,1401.7 1119.8,1380.8 1120.2,1404.2 1120.6,1420.2 1121.0,1373.0 1121.3,1411.0 1121.7,1412.8 1122.1,1397.0 1122.5,1403.5 1122.9,1378.8 1123.3,1385.8 1123.7,1398.6 1124.1,1397.5 1124.4,1385.7 1124.8,1379.5 1125.2,1381.5 1125.6,1409.0 1126.0,1395.0 1126.4,1407.7 1126.8,1368.7 1127.2,1396.9 1127.5,1398.6 1127.9,1417.0 1128.3,1416.6 1128.7,1406.6 1129.1,1400.7 1129.5,1399.3 1129.9,1405.5 1130.3,1397.9 1130.6,1406.9 1131.0,1431.4 1131.4,1365.9 1131.8,1383.5 1132.2,1407.9 1132.6,1395.4 1133.0,1430.1 1133.4,1402.2 1133.7,1390.2 1134.1,1404.9 1134.5,1406.1 1134.9,1413.8 1135.3,1385.1 1135.7,1386.9 1136.1,1401.0 1136.5,1397.0 1136.8,1400.8 1137.2,1415.8 1137.6,1397.2 1138.0,1406.7 1138.4,1409.4 1138.8,1389.2 1139.2,1400.6 1139.6,1412.0 1139.9,1395.1 1140.3,1401.4 1140.7,1416.9 1141.1,1402.3 1141.5,1397.7 1141.9,1398.0 1142.3,1411.9 1142.7,1378.4 1143.0,1398.4 1143.4,1427.7 1143.8,1390.5 1144.2,1417.0 1144.6,1403.3 1145.0,1384.6 1145.4,1404.4 1145.8,1402.5 1146.1,1388.8 1146.5,1394.7 1146.9,1395.6 1147.3,1403.2 1147.7,1400.9 1148.1,1421.7 1148.5,1406.0 1148.9,1410.7 1149.2,1394.9 1149.6,1396.4 1150.0,1415.6 1150.4,1410.0 1150.8,1425.6 1151.2,1403.7 1151.6,1386.2 1152.0,1400.4 1152.4,1410.5 1152.7,1401.1 1153.1,1404.4 1153.5,1415.7 1153.9,1412.3 1154.3,1404.9 1154.7,1394.2 1155.1,1409.2 1155.5,1410.2 1155.8,1417.8 1156.2,1395.3 1156.6,1414.7 1157.0,1384.2 1157.4,1402.4 1157.8,1432.7 1158.2,1388.7 1158.6,1400.5 1158.9,1404.2 1159.3,1401.8 1159.7,1387.6 1160.1,1413.4 1160.5,1411.7 1160.9,1405.6 1161.3,1399.8 1161.7,1425.8 1162.0,1399.9 1162.4,1395.2 1162.8,1418.8 1163.2,1412.1 1163.6,1417.2 1164.0,1413.0 1164.4,1387.7 1164.8,1394.5 1165.1,1397.9 1165.5,1412.6 1165.9,1376.9 1166.3,1418.1 1166.7,1416.9 1167.1,1409.2 1167.5,1415.8 1167.9,1398.8 1168.2,1394.3 1168.6,1393.8 1169.0,1382.0 1169.4,1413.7 1169.8,1402.2 1170.2,1394.6 1170.6,1411.6 1171.0,1400.3 1171.3,1381.1 1171.7,1413.4 1172.1,1380.9 1172.5,1400.5 1172.9,1408.7 1173.3,1416.1 1173.7,1394.9 1174.1,1402.3 1174.4,1405.5 1174.8,1410.3 1175.2,1392.2 1175.6,1407.9 1176.0,1402.6 1176.4,1417.8 1176.8,1401.6 1177.2,1400.1 1177.5,1395.8 1177.9,1418.3 1178.3,1403.2 1178.7,1401.3 1179.1,1431.0 1179.5,1395.2 1179.9,1393.7 1180.3,1405.9 1180.6,1397.3 1181.0,1405.7 1181.4,1407.6 1181.8,1412.4 1182.2,1401.2 1182.6,1406.8 1183.0,1420.9 1183.4,1391.0 1183.7,1408.8 1184.1,1400.8 1184.5,1401.3 1184.9,1406.9 1185.3,1402.8 1185.7,1395.5 1186.1,1413.1 1186.5,1418.8 1186.8,1394.4 1187.2,1399.7 1187.6,1401.8 1188.0,1394.2 1188.4,1417.5 1188.8,1404.0 1189.2,1401.6 1189.6,1382.8 1189.9,1400.4 1190.3,1410.2 1190.7,1421.9 1191.1,1411.3 1191.5,1399.3 1191.9,1404.8 1192.3,1405.7 1192.7,1408.6 1193.0,1394.1 1193.4,1410.7 1193.8,1402.6 1194.2,1402.5 1194.6,1415.0 1195.0,1397.3 1195.4,1400.9 1195.8,1399.5 1196.1,1408.3 1196.5,1393.6 1196.9,1409.7 1197.3,1406.1 1197.7,1401.7 1198.1,1396.8 1198.5,1411.5 1198.9,1402.7 1199.2,1405.8 1199.6,1406.4 1200.0,1406.4 1200.4,1416.0 1200.8,1406.8 1201.2,1394.2 1201.6,1416.5 1202.0,1422.8 1202.3,1398.9 1202.7,1420.4 1203.1,1410.0 1203.5,1413.0 1203.9,1404.5 1204.3,1410.6 1204.7,1420.6 1205.1,1405.5 1205.4,1418.2 1205.8,1382.9 1206.2,1405.9 1206.6,1405.0 1207.0,1419.7 1207.4,1414.3 1207.8,1412.0 1208.2,1397.2 1208.5,1415.4 1208.9,1402.2 1209.3,1410.3 1209.7,1402.8 1210.1,1422.7 1210.5,1404.1 1210.9,1417.5 1211.3,1400.5 1211.6,1420.1 1212.0,1417.8 1212.4,1408.1 1212.8,1384.6 1213.2,1402.0 1213.6,1385.8 1214.0,1401.3 1214.4,1411.2 1214.7,1400.0 1215.1,1422.1 1215.5,1419.6 1215.9,1408.5 1216.3,1392.1 1216.7,1398.2 1217.1,1421.2 1217.5,1428.2 1217.8,1404.7 1218.2,1418.6 1218.6,1419.1 1219.0,1374.8 1219.4,1417.9 1219.8,1416.6 1220.2,1410.4 1220.6,1398.5 1220.9,1414.7 1221.3,1407.8 1221.7,1403.8 1222.1,1403.3 1222.5,1409.3 1222.9,1415.9 1223.3,1409.2 1223.7,1423.2 1224.0,1409.3 1224.4,1396.0 1224.8,1402.7 1225.2,1437.7 1225.6,1403.1 1226.0,1403.0 1226.4,1412.1 1226.8,1401.8 1227.1,1402.1 1227.5,1426.4 1227.9,1411.3 1228.3,1420.5 1228.7,1398.6 1229.1,1431.1 1229.5,1405.3 1229.9,1412.7 1230.2,1408.4 1230.6,1413.2 1231.0,1409.7 1231.4,1417.9 1231.8,1418.4 1232.2,1392.6 1232.6,1397.4 1233.0,1395.7 1233.3,1416.2 1233.7,1409.9 1234.1,1406.2 1234.5,1409.7 1234.9,1399.8 1235.3,1412.5 1235.7,1416.3 1236.1,1402.7 1236.4,1409.5 1236.8,1404.2 1237.2,1415.7 1237.6,1410.0 1238.0,1400.1 1238.4,1400.2 1238.8,1420.4 1239.2,1410.8 1239.5,1420.3 1239.9,1402.0 1240.3,1419.1 1240.7,1427.6 1241.1,1421.3 1241.5,1421.7 1241.9,1407.8 1242.3,1415.9 1242.6,1402.7 1243.0,1417.4 1243.4,1406.3 1243.8,1398.0 1244.2,1401.1 1244.6,1397.0 1245.0,1400.9 1245.4,1412.4 1245.7,1405.4 1246.1,1388.9 1246.5,1415.2 1246.9,1389.4 1247.3,1419.9 1247.7,1422.9 1248.1,1415.6 1248.5,1399.6 1248.8,1414.3 1249.2,1402.9 1249.6,1417.5 1250.0,1398.6 1250.4,1407.3 1250.8,1409.7 1251.2,1396.6 1251.6,1418.7 1251.9,1396.2 1252.3,1402.2 1252.7,1422.3 1253.1,1412.2 1253.5,1396.3 1253.9,1421.0 1254.3,1418.9 1254.7,1396.8 1255.0,1383.8 1255.4,1394.8 1255.8,1404.8 1256.2,1390.6 1256.6,1420.3 1257.0,1403.1 1257.4,1415.7 1257.8,1410.2 1258.1,1409.4 1258.5,1402.4 1258.9,1405.3 1259.3,1432.0 1259.7,1418.6 1260.1,1401.3 1260.5,1398.2 1260.9,1403.2 1261.2,1401.0 1261.6,1421.5 1262.0,1417.6 1262.4,1409.9 1262.8,1401.8 1263.2,1409.8 1263.6,1416.0 1264.0,1401.6 1264.3,1410.4 1264.7,1405.0 1265.1,1427.0 1265.5,1409.9 1265.9,1405.7 1266.3,1397.0 1266.7,1410.2 1267.1,1426.6 1267.4,1420.7 1267.8,1400.4 1268.2,1401.4 1268.6,1413.3 1269.0,1419.6 1269.4,1400.9 1269.8,1416.5 1270.2,1412.0 1270.5,1425.9 1270.9,1437.1 1271.3,1409.6 1271.7,1394.0 1272.1,1414.7 1272.5,1423.9 1272.9,1398.9 1273.3,1421.5 1273.6,1432.5 1274.0,1417.0 1274.4,1409.1 1274.8,1420.2 1275.2,1412.2 1275.6,1425.5 1276.0,1411.7 1276.4,1397.6 1276.7,1410.5 1277.1,1406.8 1277.5,1393.5 1277.9,1415.5 1278.3,1403.7 1278.7,1418.0 1279.1,1411.8 1279.5,1413.1 1279.8,1402.7 1280.2,1403.7 1280.6,1419.2 1281.0,1422.0 1281.4,1423.4 1281.8,1423.2 1282.2,1418.9 1282.6,1413.1 1282.9,1420.8 1283.3,1394.9 1283.7,1400.6 1284.1,1392.4 1284.5,1413.3 1284.9,1405.8 1285.3,1414.5 1285.7,1401.0 1286.0,1407.0 1286.4,1413.3 1286.8,1408.6 1287.2,1419.6 1287.6,1396.6 1288.0,1409.3 1288.4,1431.2 1288.8,1440.3 1289.1,1413.1 1289.5,1413.2 1289.9,1413.1 1290.3,1408.9 1290.7,1407.5 1291.1,1420.3 1291.5,1401.7 1291.9,1397.2 1292.2,1391.0 1292.6,1410.8 1293.0,1410.9 1293.4,1404.0 1293.8,1408.7 1294.2,1411.6 1294.6,1412.3 1295.0,1407.1 1295.3,1419.0 1295.7,1407.0 1296.1,1423.3 1296.5,1406.8 1296.9,1409.1 1297.3,1413.1 1297.7,1408.7 1298.1,1430.1 1298.4,1419.9 1298.8,1416.5 1299.2,1411.4 1299.6,1412.7 1300.0,1419.2 1300.4,1408.9 1300.8,1408.9 1301.2,1420.8 1301.5,1410.7 1301.9,1409.1 1302.3,1425.6 1302.7,1415.4 1303.1,1416.6 1303.5,1405.0 1303.9,1419.0 1304.3,1417.2 1304.6,1412.7 1305.0,1397.2 1305.4,1423.6 1305.8,1416.1 1306.2,1409.7 1306.6,1406.8 1307.0,1432.1 1307.4,1393.3 1307.7,1418.4 1308.1,1405.5 1308.5,1393.9 1308.9,1401.3 1309.3,1420.4 1309.7,1418.0 1310.1,1411.5 1310.5,1404.3 1310.8,1422.1 1311.2,1404.3 1311.6,1418.5 1312.0,1406.4 1312.4,1405.5 1312.8,1408.0 1313.2,1402.7 1313.6,1412.6 1313.9,1410.6 1314.3,1400.1 1314.7,1418.0 1315.1,1418.5 1315.5,1426.0 1315.9,1396.4 1316.3,1420.0 1316.7,1427.1 1317.0,1394.7 1317.4,1408.5 1317.8,1416.6 1318.2,1414.2 1318.6,1403.6 1319.0,1412.0 1319.4,1422.7 1319.8,1414.7 1320.1,1426.4 1320.5,1408.4 1320.9,1405.1 1321.3,1411.4 1321.7,1399.1 1322.1,1398.8 1322.5,1415.3 1322.9,1428.2 1323.2,1416.2 1323.6,1412.2 1324.0,1416.0 1324.4,1413.0 1324.8,1425.3 1325.2,1415.0 1325.6,1425.9 1326.0,1399.1 1326.3,1418.7 1326.7,1414.5 1327.1,1428.6 1327.5,1420.6 1327.9,1408.9 1328.3,1433.6 1328.7,1410.8 1329.1,1418.4 1329.4,1393.6 1329.8,1407.3 1330.2,1405.1 1330.6,1432.2 1331.0,1403.7 1331.4,1424.5 1331.8,1397.4 1332.2,1406.0 1332.5,1428.5 1332.9,1409.8 1333.3,1413.0 1333.7,1399.1 1334.1,1420.0 1334.5,1412.7 1334.9,1409.0 1335.3,1414.9 1335.6,1397.0 1336.0,1408.7 1336.4,1419.3 1336.8,1399.3 1337.2,1415.2 1337.6,1397.3 1338.0,1423.5 1338.4,1430.4 1338.7,1393.0 1339.1,1421.4 1339.5,1381.2 1339.9,1412.8 1340.3,1417.5 1340.7,1407.8 1341.1,1412.1 1341.5,1418.9 1341.8,1431.0 1342.2,1410.0 1342.6,1392.1 1343.0,1401.9 1343.4,1426.1 1343.8,1399.7 1344.2,1414.4 1344.6,1417.7 1344.9,1412.2 1345.3,1412.4 1345.7,1420.7 1346.1,1415.9 1346.5,1411.8 1346.9,1411.8 1347.3,1406.3 1347.7,1404.1 1348.0,1411.6 1348.4,1419.6 1348.8,1405.8 1349.2,1431.8 1349.6,1420.4 1350.0,1435.7 1350.4,1411.4 1350.8,1406.8 1351.1,1403.1 1351.5,1422.4 1351.9,1413.9 1352.3,1429.8 1352.7,1411.7 1353.1,1411.0 1353.5,1416.2 1353.9,1408.6 1354.2,1404.0 1354.6,1403.6 1355.0,1422.0 1355.4,1407.8 1355.8,1403.5 1356.2,1415.0 1356.6,1422.5 1357.0,1415.8 1357.3,1404.9 1357.7,1415.5 1358.1,1431.1 1358.5,1414.2 1358.9,1386.4 1359.3,1408.9 1359.7,1400.2 1360.1,1410.1 1360.4,1415.3 1360.8,1400.4 1361.2,1408.4 1361.6,1404.6 1362.0,1404.6 1362.4,1411.7 1362.8,1417.9 1363.2,1432.5 1363.5,1410.1 1363.9,1407.5 1364.3,1410.3 1364.7,1400.6 1365.1,1414.2 1365.5,1407.2 1365.9,1432.0 1366.3,1406.3 1366.6,1406.6 1367.0,1422.0 1367.4,1434.5 1367.8,1423.2 1368.2,1414.5 1368.6,1398.9 1369.0,1425.4 1369.4,1432.2 1369.7,1404.8 1370.1,1409.2 1370.5,1420.8 1370.9,1408.3 1371.3,1427.5 1371.7,1432.9 1372.1,1415.5 1372.5,1400.5 1372.8,1436.1 1373.2,1402.3 1373.6,1407.4 1374.0,1409.1 1374.4,1411.6 1374.8,1421.4 1375.2,1429.8 1375.6,1415.0 1375.9,1417.4 1376.3,1415.2 1376.7,1401.0 1377.1,1419.7 1377.5,1416.6 1377.9,1428.9 1378.3,1400.1 1378.7,1403.2 1379.0,1432.0 1379.4,1435.9 1379.8,1400.3 1380.2,1428.9 1380.6,1408.0 1381.0,1401.2 1381.4,1420.8 1381.8,1414.0 1382.1,1406.7 1382.5,1416.4 1382.9,1423.9 1383.3,1416.3 1383.7,1423.1 1384.1,1396.6 1384.5,1418.4 1384.9,1421.5 1385.2,1433.0 1385.6,1410.0 1386.0,1416.6 1386.4,1409.5 1386.8,1416.0 1387.2,1412.3 1387.6,1414.7 1388.0,1420.8 1388.3,1410.5 1388.7,1422.8 1389.1,1426.7 1389.5,1411.5 1389.9,1407.4 1390.3,1423.7 1390.7,1392.6 1391.1,1413.2 1391.4,1426.4 1391.8,1428.3 1392.2,1419.4 1392.6,1423.8 1393.0,1409.4 1393.4,1430.5 1393.8,1416.2 1394.2,1411.6 1394.5,1406.4 1394.9,1432.5 1395.3,1421.8 1395.7,1423.5 1396.1,1417.1 1396.5,1394.9 1396.9,1415.1 1397.3,1424.8 1397.6,1412.1 1398.0,1430.9 1398.4,1416.7 1398.8,1395.9 1399.2,1426.1 1399.6,1399.2 1400.0,1403.6 1400.4,1420.9 1400.7,1410.0 1401.1,1410.6 1401.5,1425.7 1401.9,1419.4 1402.3,1419.0 1402.7,1395.4 1403.1,1411.1 1403.5,1432.9 1403.8,1396.5 1404.2,1393.5 1404.6,1425.0 1405.0,1436.1 1405.4,1413.4 1405.8,1421.6 1406.2,1417.6 1406.6,1431.9 1406.9,1430.7 1407.3,1411.6 1407.7,1429.5 1408.1,1436.1 1408.5,1411.9 1408.9,1411.1 1409.3,1408.7 1409.7,1427.0 1410.0,1401.1 1410.4,1420.3 1410.8,1410.4 1411.2,1429.8 1411.6,1430.2 1412.0,1414.8 1412.4,1402.1 1412.8,1420.6 1413.1,1422.5 1413.5,1420.7 1413.9,1408.9 1414.3,1434.6 1414.7,1413.0 1415.1,1408.1 1415.5,1409.9 1415.9,1400.9 1416.2,1429.4 1416.6,1414.0 1417.0,1397.1 1417.4,1428.6 1417.8,1415.5 1418.2,1412.2 1418.6,1420.4 1419.0,1423.2 1419.3,1404.7 1419.7,1414.2 1420.1,1417.5 1420.5,1403.4 1420.9,1421.5 1421.3,1414.5 1421.7,1412.0 1422.1,1424.9 1422.4,1417.6 1422.8,1417.4 1423.2,1415.2 1423.6,1420.6 1424.0,1416.9 1424.4,1421.3 1424.8,1425.3 1425.2,1421.9 1425.5,1432.2 1425.9,1411.1 1426.3,1413.5 1426.7,1425.4 1427.1,1426.0 1427.5,1425.4 1427.9,1428.5 1428.3,1427.9 1428.6,1412.1 1429.0,1420.0 1429.4,1408.5 1429.8,1412.3 1430.2,1413.1 1430.6,1429.6 1431.0,1400.2 1431.4,1417.9 1431.7,1439.1 1432.1,1419.5 1432.5,1420.6 1432.9,1411.7 1433.3,1427.0 1433.7,1415.8 1434.1,1420.7 1434.5,1405.7 1434.8,1420.1 1435.2,1412.5 1435.6,1418.8 1436.0,1425.0 1436.4,1414.3 1436.8,1429.9 1437.2,1418.7 1437.6,1411.4 1437.9,1424.1 1438.3,1399.4 1438.7,1422.3 1439.1,1417.5 1439.5,1416.0 1439.9,1408.7 1440.3,1423.5 1440.7,1419.3 1441.0,1420.7 1441.4,1415.2 1441.8,1424.9 1442.2,1408.6 1442.6,1430.5 1443.0,1400.6 1443.4,1426.5 1443.8,1405.2 1444.1,1424.0 1444.5,1434.0 1444.9,1418.8 1445.3,1416.2 1445.7,1412.3 1446.1,1422.3 1446.5,1422.4 1446.9,1429.3 1447.2,1401.3 1447.6,1430.3 1448.0,1419.4 1448.4,1420.0 1448.8,1418.6 1449.2,1418.8 1449.6,1413.8 1450.0,1392.0 1450.3,1406.5 1450.7,1414.2 1451.1,1403.1 1451.5,1402.7 1451.9,1402.1 1452.3,1422.6 1452.7,1411.8 1453.1,1439.4 1453.4,1420.1 1453.8,1414.0 1454.2,1402.7 1454.6,1410.8 1455.0,1410.9 1455.4,1430.7 1455.8,1418.2 1456.2,1402.6 1456.5,1393.9 1456.9,1416.1 1457.3,1402.3 1457.7,1417.8 1458.1,1417.6 1458.5,1412.4 1458.9,1420.6 1459.3,1414.7 1459.6,1405.4 1460.0,1408.2 1460.4,1403.3 1460.8,1408.5 1461.2,1415.2 1461.6,1414.1 1462.0,1416.4 1462.4,1413.9 1462.7,1404.7 1463.1,1405.5 1463.5,1402.2 1463.9,1406.3 1464.3,1406.5 1464.7,1423.0 1465.1,1424.9 1465.5,1419.6 1465.8,1422.4 1466.2,1438.9 1466.6,1408.9 1467.0,1425.9 1467.4,1420.5 1467.8,1422.9 1468.2,1419.5 1468.6,1411.9 1468.9,1401.8 1469.3,1416.3 1469.7,1408.5 1470.1,1408.4 1470.5,1417.5 1470.9,1414.7 1471.3,1432.4 1471.7,1412.7 1472.0,1419.0 1472.4,1438.4 1472.8,1414.2 1473.2,1414.9 1473.6,1423.0 1474.0,1409.3 1474.4,1412.1 1474.8,1405.9 1475.1,1422.2 1475.5,1410.9 1475.9,1413.8 1476.3,1429.6 1476.7,1417.0 1477.1,1418.2 1477.5,1416.0 1477.9,1416.7 1478.2,1409.3 1478.6,1417.6 1479.0,1423.9 1479.4,1411.9 1479.8,1418.0 1480.2,1430.7 1480.6,1405.9 1481.0,1431.1 1481.3,1414.8 1481.7,1427.5 1482.1,1411.2 1482.5,1414.2 1482.9,1407.8 1483.3,1412.3 1483.7,1411.2 1484.1,1437.9 1484.4,1403.2 1484.8,1421.6 1485.2,1409.7 1485.6,1419.1 1486.0,1406.8 1486.4,1413.4 1486.8,1415.3 1487.2,1411.6 1487.5,1417.6 1487.9,1417.2 1488.3,1404.0 1488.7,1389.3 1489.1,1418.2 1489.5,1420.8 1489.9,1406.0 1490.3,1424.6 1490.6,1417.8 1491.0,1428.0 1491.4,1422.9 1491.8,1416.1 1492.2,1414.0 1492.6,1417.8 1493.0,1408.5 1493.4,1434.2 1493.7,1397.9 1494.1,1411.9 1494.5,1412.6 1494.9,1424.9 1495.3,1422.5 1495.7,1424.1 1496.1,1417.6 1496.5,1415.2 1496.8,1412.0 1497.2,1412.3 1497.6,1425.0 1498.0,1428.7 1498.4,1412.9 1498.8,1409.7 1499.2,1411.5 1499.6,1412.7 1499.9,1412.0 1500.3,1433.9 1500.7,1416.4 1501.1,1402.0 1501.5,1424.5 1501.9,1409.7 1502.3,1400.9 1502.7,1420.3 1503.0,1423.4 1503.4,1417.4 1503.8,1406.9 1504.2,1430.9 1504.6,1408.0 1505.0,1433.8 1505.4,1398.2 1505.8,1417.8 1506.1,1426.9 1506.5,1420.5 1506.9,1407.5 1507.3,1422.8 1507.7,1403.6 1508.1,1396.4 1508.5,1415.9 1508.9,1423.8 1509.2,1408.9 1509.6,1422.7 1510.0,1419.1 1510.4,1414.2 1510.8,1406.4 1511.2,1426.1 1511.6,1420.3 1512.0,1418.0 1512.3,1417.1 1512.7,1409.9 1513.1,1415.3 1513.5,1419.5 1513.9,1434.2 1514.3,1438.5 1514.7,1415.8 1515.1,1410.1 1515.4,1401.3 1515.8,1407.1 1516.2,1402.2 1516.6,1408.8 1517.0,1432.4 1517.4,1410.6 1517.8,1419.2 1518.2,1412.0 1518.5,1416.0 1518.9,1425.5 1519.3,1398.4 1519.7,1440.4 1520.1,1426.8 1520.5,1406.9 1520.9,1418.6 1521.3,1415.0 1521.6,1414.1 1522.0,1417.2 1522.4,1425.0 1522.8,1429.2 1523.2,1399.3 1523.6,1421.7 1524.0,1419.3 1524.4,1412.2 1524.7,1415.2 1525.1,1420.4 1525.5,1429.5 1525.9,1416.1 1526.3,1413.0 1526.7,1429.1 1527.1,1424.2 1527.5,1426.7 1527.8,1415.1 1528.2,1416.0 1528.6,1413.4 1529.0,1419.5 1529.4,1416.6 1529.8,1417.2 1530.2,1407.8 1530.6,1411.3 1530.9,1410.1 1531.3,1425.6 1531.7,1414.3 1532.1,1418.9 1532.5,1428.6 1532.9,1418.2 1533.3,1411.6 1533.7,1428.9 1534.0,1409.1 1534.4,1412.7 1534.8,1435.6 1535.2,1415.3 1535.6,1417.7 1536.0,1399.9 1536.4,1429.1 1536.8,1387.1 1537.1,1412.2 1537.5,1402.4 1537.9,1411.0 1538.3,1426.6 1538.7,1412.4 1539.1,1399.8 1539.5,1420.4 1539.9,1426.2 1540.2,1408.9 1540.6,1424.1 1541.0,1418.2 1541.4,1415.6 1541.8,1432.5 1542.2,1418.7 1542.6,1412.8 1543.0,1412.0 1543.3,1415.7 1543.7,1411.6 1544.1,1415.6 1544.5,1424.4 1544.9,1402.4 1545.3,1415.4 1545.7,1413.8 1546.1,1408.9 1546.4,1419.5 1546.8,1430.7 1547.2,1424.8 1547.6,1422.1 1548.0,1409.2 1548.4,1415.1 1548.8,1413.3 1549.2,1422.9 1549.5,1412.7 1549.9,1421.1 1550.3,1435.3 1550.7,1426.8 1551.1,1414.5 1551.5,1425.1 1551.9,1432.2 1552.3,1400.6 1552.6,1411.5 1553.0,1418.4 1553.4,1418.9 1553.8,1431.5 1554.2,1422.4 1554.6,1415.2 1555.0,1410.3 1555.4,1415.8 1555.7,1408.3 1556.1,1413.4 1556.5,1423.7 1556.9,1424.7 1557.3,1402.3 1557.7,1399.7 1558.1,1420.4 1558.5,1416.4 1558.8,1414.8 1559.2,1411.7 1559.6,1432.4 1560.0,1411.3 1560.4,1420.8 1560.8,1416.2 1561.2,1421.3 1561.6,1405.2 1561.9,1420.8 1562.3,1401.5 1562.7,1403.5 1563.1,1422.1 1563.5,1408.8 1563.9,1408.4 1564.3,1419.9 1564.7,1436.8 1565.0,1419.8 1565.4,1414.1 1565.8,1445.4 1566.2,1405.4 1566.6,1408.3 1567.0,1414.4 1567.4,1419.6 1567.8,1424.5 1568.1,1424.3 1568.5,1428.7 1568.9,1427.3 1569.3,1390.6 1569.7,1423.2 1570.1,1429.6 1570.5,1414.6 1570.9,1416.9 1571.2,1407.1 1571.6,1418.8 1572.0,1436.5 1572.4,1402.1 1572.8,1409.9 1573.2,1424.5 1573.6,1421.3 1574.0,1422.4 1574.3,1423.8 1574.7,1411.3 1575.1,1428.1 1575.5,1421.2 1575.9,1428.8 1576.3,1407.8 1576.7,1416.8 1577.1,1408.7 1577.4,1425.6 1577.8,1441.5 1578.2,1413.1 1578.6,1415.2 1579.0,1415.0 1579.4,1418.8 1579.8,1412.5 1580.2,1410.8 1580.5,1423.4 1580.9,1438.1 1581.3,1412.9 1581.7,1417.2 1582.1,1422.7 1582.5,1429.9 1582.9,1403.5 1583.3,1417.4 1583.6,1417.7 1584.0,1427.0 1584.4,1425.6 1584.8,1417.0 1585.2,1430.5 1585.6,1408.2 1586.0,1423.0 1586.4,1421.2 1586.7,1417.7 1587.1,1423.2 1587.5,1419.9 1587.9,1419.5 1588.3,1423.6 1588.7,1428.3 1589.1,1415.5 1589.5,1418.8 1589.8,1409.5 1590.2,1434.3 1590.6,1411.0 1591.0,1423.8 1591.4,1414.8 1591.8,1422.1 1592.2,1414.1 1592.6,1434.9 1592.9,1421.2 1593.3,1406.4 1593.7,1417.3 1594.1,1422.5 1594.5,1420.2 1594.9,1419.3 1595.3,1402.6 1595.7,1417.8 1596.0,1415.3 1596.4,1423.6 1596.8,1414.3 1597.2,1415.2 1597.6,1425.6 1598.0,1434.1 1598.4,1421.4 1598.8,1409.0 1599.1,1424.6 1599.5,1398.9 1599.9,1409.1 1600.3,1420.5 1600.7,1436.3 1601.1,1404.9 1601.5,1418.7 1601.9,1424.1 1602.2,1421.7 1602.6,1414.9 1603.0,1424.0 1603.4,1403.7 1603.8,1415.5 1604.2,1413.9 1604.6,1416.8 1605.0,1420.4 1605.3,1417.7 1605.7,1403.8 1606.1,1423.6 1606.5,1420.6 1606.9,1416.2 1607.3,1426.1 1607.7,1411.7 1608.1,1430.2 1608.4,1415.9 1608.8,1428.6 1609.2,1422.2 1609.6,1422.2 1610.0,1396.2 1610.4,1424.5 1610.8,1410.5 1611.2,1415.8 1611.5,1425.9 1611.9,1411.5 1612.3,1429.6 1612.7,1433.6 1613.1,1434.8 1613.5,1418.2 1613.9,1418.0 1614.3,1424.4 1614.6,1419.0 1615.0,1422.4 1615.4,1415.4 1615.8,1426.9 1616.2,1419.1 1616.6,1420.9 1617.0,1414.8 1617.4,1410.6 1617.7,1400.6 1618.1,1433.0 1618.5,1417.6 1618.9,1427.9 1619.3,1430.0 1619.7,1435.6 1620.1,1425.2 1620.5,1420.0 1620.8,1422.7 1621.2,1418.6 1621.6,1426.2 1622.0,1416.6 1622.4,1445.6 1622.8,1405.2 1623.2,1419.2 1623.6,1424.9 1623.9,1432.7 1624.3,1428.1 1624.7,1417.3 1625.1,1429.8 1625.5,1414.9 1625.9,1425.5 1626.3,1428.2 1626.7,1423.6 1627.0,1420.2 1627.4,1406.5 1627.8,1425.2 1628.2,1426.0 1628.6,1418.3 1629.0,1412.9 1629.4,1422.4 1629.8,1426.0 1630.1,1416.8 1630.5,1416.7 1630.9,1417.3 1631.3,1432.9 1631.7,1415.5 1632.1,1420.3 1632.5,1411.7 1632.9,1423.0 1633.2,1417.2 1633.6,1423.0 1634.0,1402.4 1634.4,1433.7 1634.8,1421.2 1635.2,1427.9 1635.6,1445.7 1636.0,1437.3 1636.3,1407.0 1636.7,1416.5 1637.1,1411.8 1637.5,1422.1 1637.9,1426.5 1638.3,1422.4 1638.7,1432.2 1639.1,1435.9 1639.4,1411.4 1639.8,1421.1 1640.2,1409.0 1640.6,1432.9 1641.0,1420.1 1641.4,1433.9 1641.8,1407.4 1642.2,1418.8 1642.5,1429.8 1642.9,1429.5 1643.3,1409.9 1643.7,1430.2 1644.1,1422.9 1644.5,1420.9 1644.9,1429.7 1645.3,1407.9 1645.6,1405.1 1646.0,1425.6 1646.4,1419.2 1646.8,1414.6 1647.2,1415.4 1647.6,1414.5 1648.0,1430.6 1648.4,1420.4 1648.7,1432.9 1649.1,1421.7 1649.5,1395.4 1649.9,1413.4 1650.3,1438.8 1650.7,1418.5 1651.1,1432.8 1651.5,1416.4 1651.8,1417.1 1652.2,1418.9 1652.6,1414.4 1653.0,1418.2 1653.4,1427.2 1653.8,1423.4 1654.2,1434.3 1654.6,1434.7 1654.9,1422.6 1655.3,1417.3 1655.7,1429.6 1656.1,1409.5 1656.5,1411.0 1656.9,1415.9 1657.3,1421.3 1657.7,1423.4 1658.0,1415.4 1658.4,1416.5 1658.8,1412.2 1659.2,1426.5 1659.6,1415.2 1660.0,1410.9 1660.4,1428.7 1660.8,1419.4 1661.1,1420.2 1661.5,1422.2 1661.9,1412.3 1662.3,1422.0 1662.7,1414.4 1663.1,1417.0 1663.5,1414.1 1663.9,1422.7 1664.2,1426.2 1664.6,1415.1 1665.0,1420.2 1665.4,1413.6 1665.8,1424.8 1666.2,1418.4 1666.6,1426.6 1667.0,1419.4 1667.3,1421.7 1667.7,1414.9 1668.1,1440.3 1668.5,1419.0 1668.9,1416.1 1669.3,1429.8 1669.7,1412.3 1670.1,1420.5 1670.4,1422.8 1670.8,1421.0 1671.2,1425.8 1671.6,1435.8 1672.0,1420.0 1672.4,1396.7 1672.8,1406.7 1673.2,1407.9 1673.5,1424.5 1673.9,1417.5 1674.3,1411.1 1674.7,1417.1 1675.1,1421.5 1675.5,1423.0 1675.9,1428.7 1676.3,1413.0 1676.6,1415.1 1677.0,1418.8 1677.4,1420.2 1677.8,1425.5 1678.2,1416.4 1678.6,1408.9 1679.0,1421.9 1679.4,1427.4 1679.7,1427.0 1680.1,1414.1 1680.5,1423.1 1680.9,1409.2 1681.3,1419.2 1681.7,1411.9 1682.1,1422.9 1682.5,1412.6 1682.8,1422.6 1683.2,1420.6 1683.6,1420.3 1684.0,1434.9 1684.4,1429.6 1684.8,1417.7 1685.2,1417.7 1685.6,1433.4 1685.9,1429.8 1686.3,1431.6 1686.7,1415.4 1687.1,1427.4 1687.5,1428.6 1687.9,1416.3 1688.3,1425.1 1688.7,1415.9 1689.0,1413.9 1689.4,1431.0 1689.8,1434.3 1690.2,1422.5 1690.6,1402.2 1691.0,1429.2 1691.4,1409.1 1691.8,1425.6 1692.1,1428.3 1692.5,1408.1 1692.9,1423.8 1693.3,1438.1 1693.7,1419.8 1694.1,1427.4 1694.5,1425.1 1694.9,1409.9 1695.2,1412.5 1695.6,1420.4 1696.0,1416.7 1696.4,1424.3 1696.8,1434.2 1697.2,1420.2 1697.6,1422.2 1698.0,1412.7 1698.3,1417.7 1698.7,1410.8 1699.1,1423.7 1699.5,1390.0 1699.9,1424.1 1700.3,1430.2 1700.7,1414.2 1701.1,1419.0 1701.4,1430.3 1701.8,1425.5 1702.2,1404.6 1702.6,1401.0 1703.0,1408.7 1703.4,1419.3 1703.8,1407.1 1704.2,1420.8 1704.5,1430.1 1704.9,1420.5 1705.3,1421.7 1705.7,1422.2 1706.1,1414.0 1706.5,1416.0 1706.9,1418.6 1707.3,1413.6 1707.6,1424.1 1708.0,1418.2 1708.4,1428.6 1708.8,1431.8 1709.2,1424.5 1709.6,1430.5 1710.0,1439.3 1710.4,1424.9 1710.7,1429.4 1711.1,1428.3 1711.5,1408.6 1711.9,1415.4 1712.3,1412.5 1712.7,1422.4 1713.1,1429.4 1713.5,1428.3 1713.8,1405.8 1714.2,1444.2 1714.6,1425.0 1715.0,1419.0 1715.4,1433.3 1715.8,1412.0 1716.2,1421.7 1716.6,1420.8 1716.9,1407.6 1717.3,1413.4 1717.7,1422.5 1718.1,1421.6 1718.5,1408.3 1718.9,1404.6 1719.3,1416.2 1719.7,1436.0 1720.0,1424.4 1720.4,1411.6 1720.8,1426.6 1721.2,1422.9 1721.6,1416.0 1722.0,1423.9 1722.4,1412.1 1722.8,1414.5 1723.1,1429.3 1723.5,1409.6 1723.9,1415.9 1724.3,1427.5 1724.7,1412.7 1725.1,1431.1 1725.5,1435.7 1725.9,1411.6 1726.2,1414.5 1726.6,1418.2 1727.0,1426.6 1727.4,1416.8 1727.8,1432.6 1728.2,1413.5 1728.6,1400.6 1729.0,1421.7 1729.3,1411.3 1729.7,1427.3 1730.1,1426.9 1730.5,1421.7 1730.9,1416.3 1731.3,1422.6 1731.7,1434.5 1732.1,1411.2 1732.4,1429.9 1732.8,1410.8 1733.2,1430.4 1733.6,1413.5 1734.0,1419.2 1734.4,1424.6 1734.8,1412.0 1735.2,1418.1 1735.5,1410.8 1735.9,1414.6 1736.3,1409.9 1736.7,1437.5 1737.1,1408.6 1737.5,1421.4 1737.9,1419.4 1738.3,1431.3 1738.6,1426.5 1739.0,1422.8 1739.4,1419.7 1739.8,1419.8 1740.2,1423.6 1740.6,1419.1 1741.0,1413.1 1741.4,1424.6 1741.7,1408.0 1742.1,1417.5 1742.5,1416.8 1742.9,1428.5 1743.3,1414.7 1743.7,1416.8 1744.1,1401.9 1744.5,1412.9 1744.8,1419.5 1745.2,1421.1 1745.6,1428.4 1746.0,1421.2 1746.4,1422.6 1746.8,1422.9 1747.2,1410.8 1747.6,1429.2 1747.9,1405.9 1748.3,1428.9 1748.7,1432.4 1749.1,1412.5 1749.5,1422.5 1749.9,1426.5 1750.3,1417.0 1750.7,1424.7 1751.0,1414.5 1751.4,1423.7 1751.8,1419.3 1752.2,1427.6 1752.6,1414.8 1753.0,1408.1 1753.4,1419.9 1753.8,1439.2 1754.1,1416.8 1754.5,1425.8 1754.9,1422.8 1755.3,1424.0 1755.7,1426.0 1756.1,1429.6 1756.5,1413.4 1756.9,1425.3 1757.2,1423.1 1757.6,1424.2 1758.0,1427.6 1758.4,1412.2 1758.8,1427.3 1759.2,1418.6 1759.6,1428.4 1760.0,1434.0 1760.3,1434.2 1760.7,1429.9 1761.1,1438.4 1761.5,1436.3 1761.9,1446.7 1762.3,1417.1 1762.7,1415.3 1763.1,1413.0 1763.4,1423.5 1763.8,1424.0 1764.2,1414.0 1764.6,1414.7 1765.0,1425.7 1765.4,1426.7 1765.8,1430.9 1766.2,1412.2 1766.5,1424.4 1766.9,1423.4 1767.3,1413.0 1767.7,1427.9 1768.1,1418.4 1768.5,1425.0 1768.9,1423.2 1769.3,1429.7 1769.6,1441.8 1770.0,1423.5 1770.4,1432.4 1770.8,1419.9 1771.2,1426.7 1771.6,1425.7 1772.0,1410.0 1772.4,1416.3 1772.7,1446.8 1773.1,1414.9 1773.5,1425.2 1773.9,1433.0 1774.3,1421.8 1774.7,1422.0 1775.1,1413.9 1775.5,1413.5 1775.8,1412.8 1776.2,1427.8 1776.6,1408.2 1777.0,1436.9 1777.4,1419.4 1777.8,1412.0 1778.2,1440.1 1778.6,1446.2 1778.9,1418.3 1779.3,1435.4 1779.7,1440.8 1780.1,1425.1 1780.5,1420.3 1780.9,1423.1 1781.3,1410.3 1781.7,1402.6 1782.0,1433.0 1782.4,1424.0 1782.8,1426.0 1783.2,1427.3 1783.6,1421.9 1784.0,1434.7 1784.4,1414.6 1784.8,1413.4 1785.1,1418.4 1785.5,1406.2 1785.9,1426.8 1786.3,1431.5 1786.7,1431.0 1787.1,1446.9 1787.5,1422.3 1787.9,1413.0 1788.2,1426.7 1788.6,1419.9 1789.0,1423.6 1789.4,1444.7 1789.8,1430.8 1790.2,1407.5 1790.6,1434.2 1791.0,1412.2 1791.3,1432.3 1791.7,1425.6 1792.1,1422.8 1792.5,1414.0 1792.9,1422.0 1793.3,1421.4 1793.7,1414.0 1794.1,1413.4 1794.4,1422.9 1794.8,1417.5 1795.2,1409.8 1795.6,1417.3 1796.0,1430.1 1796.4,1421.0 1796.8,1434.6 1797.2,1402.8 1797.5,1419.1 1797.9,1435.7 1798.3,1422.8 1798.7,1418.0 1799.1,1415.5 1799.5,1422.9 1799.9,1428.0 1800.3,1429.8 1800.6,1414.0 1801.0,1410.9 1801.4,1418.8 1801.8,1420.0 1802.2,1420.4 1802.6,1426.4 1803.0,1402.5 1803.4,1416.9 1803.7,1419.5 1804.1,1418.0 1804.5,1428.1 1804.9,1415.1 1805.3,1430.6 1805.7,1411.1 1806.1,1423.3 1806.5,1419.2 1806.8,1427.8 1807.2,1422.6 1807.6,1428.3 1808.0,1420.5 1808.4,1437.3 1808.8,1412.0 1809.2,1420.2 1809.6,1415.8 1809.9,1422.9 1810.3,1417.5 1810.7,1427.9 1811.1,1429.5 1811.5,1425.5 1811.9,1434.6 1812.3,1415.1 1812.7,1424.9 1813.0,1419.3 1813.4,1429.2 1813.8,1417.3 1814.2,1412.8 1814.6,1424.7 1815.0,1412.5 1815.4,1430.8 1815.8,1420.0 1816.1,1436.4 1816.5,1429.6 1816.9,1411.6 1817.3,1412.7 1817.7,1402.8 1818.1,1427.0 1818.5,1414.8 1818.9,1434.5 1819.2,1428.9 1819.6,1430.9 1820.0,1407.1 1820.4,1418.8 1820.8,1420.0 1821.2,1419.7 1821.6,1432.0 1822.0,1409.7 1822.3,1418.1 1822.7,1434.6 1823.1,1409.3 1823.5,1420.8 1823.9,1414.5 1824.3,1420.0 1824.7,1425.6 1825.1,1417.6 1825.4,1435.1 1825.8,1420.7 1826.2,1413.5 1826.6,1417.3 1827.0,1421.8 1827.4,1424.8 1827.8,1434.1 1828.2,1408.3 1828.5,1418.7 1828.9,1419.6 1829.3,1429.2 1829.7,1417.7 1830.1,1414.6 1830.5,1429.4 1830.9,1406.7 1831.3,1414.1 1831.6,1422.9 1832.0,1437.0 1832.4,1400.0 1832.8,1415.2 1833.2,1425.6 1833.6,1433.9 1834.0,1412.2 1834.4,1437.4 1834.7,1421.5 1835.1,1424.1 1835.5,1432.1 1835.9,1427.9 1836.3,1427.7 1836.7,1430.0 1837.1,1417.9 1837.5,1411.4 1837.8,1430.3 1838.2,1410.1 1838.6,1418.4 1839.0,1410.5 1839.4,1424.1 1839.8,1417.2 1840.2,1429.8 1840.6,1411.4 1840.9,1420.6 1841.3,1426.9 1841.7,1422.8 1842.1,1421.1 1842.5,1438.0 1842.9,1421.1 1843.3,1431.5 1843.7,1423.1 1844.0,1420.6 1844.4,1401.5 1844.8,1418.5 1845.2,1433.9 1845.6,1417.2 1846.0,1432.3 1846.4,1431.2 1846.8,1428.8 1847.1,1414.0 1847.5,1439.8 1847.9,1416.1 1848.3,1433.7 1848.7,1420.8 1849.1,1415.0 1849.5,1444.5 1849.9,1414.9 1850.2,1399.8 1850.6,1434.5 1851.0,1431.2 1851.4,1447.4 1851.8,1409.7 1852.2,1413.6 1852.6,1415.2 1853.0,1411.4 1853.3,1427.6 1853.7,1438.6 1854.1,1418.7 1854.5,1436.3 1854.9,1416.1 1855.3,1417.0 1855.7,1420.1 1856.1,1410.0 1856.4,1415.6 1856.8,1432.3 1857.2,1428.4 1857.6,1415.4 1858.0,1427.1 1858.4,1415.8 1858.8,1418.9 1859.2,1418.9 1859.5,1426.1 1859.9,1422.7 1860.3,1435.6 1860.7,1427.5 1861.1,1416.5 1861.5,1427.1 1861.9,1429.8 1862.3,1413.6 1862.6,1414.5 1863.0,1431.6 1863.4,1419.3 1863.8,1417.0 1864.2,1429.2 1864.6,1428.1 1865.0,1422.9 1865.4,1427.8 1865.7,1421.7 1866.1,1417.3 1866.5,1444.8 1866.9,1418.3 1867.3,1413.0 1867.7,1431.3 1868.1,1414.7 1868.5,1418.3 1868.8,1420.2 1869.2,1426.8 1869.6,1421.2 1870.0,1399.5 1870.4,1405.3 1870.8,1429.6 1871.2,1436.1 1871.6,1418.1 1871.9,1417.5 1872.3,1420.4 1872.7,1403.1 1873.1,1418.6 1873.5,1447.6 1873.9,1430.2 1874.3,1440.9 1874.7,1417.3 1875.0,1417.3 1875.4,1428.3 1875.8,1406.7 1876.2,1413.1 1876.6,1424.2 1877.0,1417.7 1877.4,1434.5 1877.8,1427.0 1878.1,1433.2 1878.5,1422.2 1878.9,1435.5 1879.3,1422.8 1879.7,1428.5 1880.1,1423.1 1880.5,1416.8 1880.9,1432.7 1881.2,1422.2 1881.6,1417.0 1882.0,1434.4 1882.4,1417.6 1882.8,1400.9 1883.2,1424.7 1883.6,1430.2 1884.0,1439.7 1884.3,1437.9 1884.7,1428.4 1885.1,1410.0 1885.5,1418.6 1885.9,1407.6 1886.3,1415.8 1886.7,1421.0 1887.1,1410.0 1887.4,1417.8 1887.8,1420.8 1888.2,1421.1 1888.6,1434.0 1889.0,1394.4 1889.4,1415.8 1889.8,1390.7 1890.2,1412.9 1890.5,1413.1 1890.9,1407.8 1891.3,1409.1 1891.7,1425.3 1892.1,1419.7 1892.5,1441.9 1892.9,1418.9 1893.3,1420.5 1893.6,1421.0 1894.0,1413.2 1894.4,1433.5 1894.8,1420.6 1895.2,1429.5 1895.6,1428.8 1896.0,1433.1 1896.4,1427.1 1896.7,1418.2 1897.1,1407.3 1897.5,1422.3 1897.9,1434.5 1898.3,1397.1 1898.7,1419.2 1899.1,1417.3 1899.5,1433.0 1899.8,1412.1 1900.2,1429.9 1900.6,1430.4 1901.0,1421.0 1901.4,1432.8 1901.8,1432.8 1902.2,1424.2 1902.6,1419.9 1902.9,1425.6 1903.3,1433.0 1903.7,1419.8 1904.1,1430.7 1904.5,1414.6 1904.9,1419.4 1905.3,1418.1 1905.7,1420.5 1906.0,1406.3 1906.4,1419.1 1906.8,1417.1 1907.2,1421.4 1907.6,1419.6 1908.0,1419.4 1908.4,1424.5 1908.8,1427.0 1909.1,1421.3 1909.5,1421.0 1909.9,1416.9 1910.3,1411.8 1910.7,1425.0 1911.1,1426.2 1911.5,1405.1 1911.9,1422.7 1912.2,1422.5 1912.6,1429.4 1913.0,1413.2 1913.4,1441.4 1913.8,1428.8 1914.2,1424.4 1914.6,1428.5 1915.0,1420.4 1915.3,1412.5 1915.7,1419.3 1916.1,1425.7 1916.5,1443.4 1916.9,1429.5 1917.3,1411.9 1917.7,1409.5 1918.1,1417.6 1918.4,1415.3 1918.8,1415.8 1919.2,1435.5 1919.6,1426.4 1920.0,1427.5 1920.4,1420.5 1920.8,1413.4 1921.2,1401.0 1921.5,1406.6 1921.9,1424.2 1922.3,1427.6 1922.7,1426.4 1923.1,1440.8 1923.5,1416.9 1923.9,1427.7 1924.3,1417.4 1924.6,1419.3 1925.0,1418.4 1925.4,1437.4 1925.8,1426.4 1926.2,1425.5 1926.6,1420.4 1927.0,1432.0 1927.4,1432.3 1927.7,1413.2 1928.1,1435.6 1928.5,1421.3 1928.9,1432.9 1929.3,1399.7 1929.7,1427.5 1930.1,1426.6 1930.5,1431.4 1930.8,1440.5 1931.2,1408.0 1931.6,1423.9 1932.0,1420.7 1932.4,1417.5 1932.8,1431.7 1933.2,1421.5 1933.6,1418.3 1933.9,1422.5 1934.3,1429.1 1934.7,1419.8 1935.1,1415.7 1935.5,1412.6 1935.9,1408.4 1936.3,1422.2 1936.7,1430.5 1937.0,1425.9 1937.4,1445.2 1937.8,1411.1 1938.2,1408.6 1938.6,1448.1 1939.0,1421.7 1939.4,1427.7 1939.8,1425.2 1940.1,1438.6 1940.5,1424.4 1940.9,1441.5 1941.3,1417.9 1941.7,1415.1 1942.1,1412.5 1942.5,1438.1 1942.9,1433.9 1943.2,1429.0 1943.6,1411.5 1944.0,1425.5 1944.4,1395.1 1944.8,1412.1 1945.2,1417.8 1945.6,1428.5 1946.0,1438.3 1946.3,1416.5 1946.7,1434.3 1947.1,1436.8 1947.5,1418.8 1947.9,1409.7 1948.3,1430.2 1948.7,1424.5 1949.1,1411.7 1949.4,1422.8 1949.8,1416.7 1950.2,1417.0 1950.6,1412.7 1951.0,1413.1 1951.4,1420.6 1951.8,1413.2 1952.2,1437.0 1952.5,1432.7 1952.9,1421.7 1953.3,1418.8 1953.7,1397.2 1954.1,1416.3 1954.5,1418.6 1954.9,1425.7 1955.3,1423.9 1955.6,1436.1 1956.0,1442.3 1956.4,1424.0 1956.8,1421.2 1957.2,1415.1 1957.6,1425.1 1958.0,1425.1 1958.4,1413.8 1958.7,1428.4 1959.1,1435.4 1959.5,1428.9 1959.9,1424.6 1960.3,1428.6 1960.7,1417.4 1961.1,1418.9 1961.5,1413.6 1961.8,1412.5 1962.2,1419.6 1962.6,1422.3 1963.0,1410.0 1963.4,1432.1 1963.8,1402.8 1964.2,1423.0 1964.6,1428.7 1964.9,1432.9 1965.3,1425.0 1965.7,1432.0 1966.1,1418.4 1966.5,1412.1 1966.9,1428.4 1967.3,1411.1 1967.7,1415.2 1968.0,1419.4 1968.4,1419.9 1968.8,1424.9 1969.2,1414.2 1969.6,1437.4 1970.0,1415.8 1970.4,1423.0 1970.8,1442.9 1971.1,1423.8 1971.5,1421.2 1971.9,1417.0 1972.3,1421.7 1972.7,1427.6" fill="none" stroke="#ff0000" stroke-width="3.6" stroke-linejoin="bevel"/>
<polyline points="325.8,683.8 326.2,638.9 326.6,674.6 327.0,664.3 327.4,661.3 327.7,672.4 328.1,682.9 328.5,649.2 328.9,654.0 329.3,692.6 329.7,620.8 330.1,643.8 330.5,672.7 330.8,709.3 331.2,667.8 331.6,661.0 332.0,646.8 332.4,681.0 332.8,650.4 333.2,636.7 333.6,637.9 333.9,665.0 334.3,645.0 334.7,687.1 335.1,662.8 335.5,652.7 335.9,682.7 336.3,661.7 336.7,631.6 337.0,616.8 337.4,647.6 337.8,646.8 338.2,676.7 338.6,681.0 339.0,665.8 339.4,652.0 339.8,648.6 340.1,672.2 340.5,681.8 340.9,657.2 341.3,674.5 341.7,663.9 342.1,640.7 342.5,663.5 342.9,663.1 343.2,665.1 343.6,666.8 344.0,639.9 344.4,661.4 344.8,661.3 345.2,655.4 345.6,658.0 346.0,653.9 346.3,653.9 346.7,652.6 347.1,676.1 347.5,657.9 347.9,689.6 348.3,658.5 348.7,684.0 349.1,662.8 349.4,655.1 349.8,669.9 350.2,661.3 350.6,690.1 351.0,677.0 351.4,651.3 351.8,681.8 352.2,651.7 352.5,685.4 352.9,677.3 353.3,680.3 353.7,661.8 354.1,652.9 354.5,679.3 354.9,664.4 355.3,634.3 355.6,666.3 356.0,674.3 356.4,665.2 356.8,664.0 357.2,671.7 357.6,689.6 358.0,646.0 358.4,668.8 358.7,659.0 359.1,676.4 359.5,636.9 359.9,645.8 360.3,641.7 360.7,659.5 361.1,664.6 361.5,642.3 361.8,639.8 362.2,651.3 362.6,657.2 363.0,650.7 363.4,667.9 363.8,666.3 364.2,649.0 364.6,658.7 364.9,659.2 365.3,656.6 365.7,636.1 366.1,658.0 366.5,683.8 366.9,654.9 367.3,639.6 367.7,649.3 368.0,659.0 368.4,621.2 368.8,620.0 369.2,652.7 369.6,637.4 370.0,644.0 370.4,637.3 370.8,625.9 371.1,636.1 371.5,602.6 371.9,590.8 372.3,662.0 372.7,650.3 373.1,628.9 373.5,642.7 373.9,646.4 374.2,643.1 374.6,646.0 375.0,637.2 375.4,664.4 375.8,640.5 376.2,652.2 376.6,663.8 377.0,617.9 377.3,646.7 377.7,647.9 378.1,668.7 378.5,638.3 378.9,652.8 379.3,623.7 379.7,627.9 380.1,654.1 380.4,585.4 380.8,685.4 381.2,651.2 381.6,619.2 382.0,626.3 382.4,636.0 382.8,639.0 383.2,661.4 383.5,660.0 383.9,633.5 384.3,607.8 384.7,672.0 385.1,648.8 385.5,625.6 385.9,657.9 386.3,648.8 386.6,642.8 387.0,632.9 387.4,650.0 387.8,652.8 388.2,646.7 388.6,603.6 389.0,625.0 389.4,631.1 389.7,628.9 390.1,640.8 390.5,640.9 390.9,610.1 391.3,628.9 391.7,617.8 392.1,611.5 392.5,606.0 392.8,604.8 393.2,618.4 393.6,625.3 394.0,619.2 394.4,620.4 394.8,599.8 395.2,635.7 395.6,622.9 395.9,621.3 396.3,597.8 396.7,653.2 397.1,612.8 397.5,606.0 397.9,636.7 398.3,581.9 398.7,618.9 399.0,618.4 399.4,632.8 399.8,600.1 400.2,618.2 400.6,612.7 401.0,625.3 401.4,600.6 401.8,591.3 402.1,606.9 402.5,625.4 402.9,618.0 403.3,645.7 403.7,619.3 404.1,571.6 404.5,598.0 404.9,567.7 405.2,614.2 405.6,577.2 406.0,597.7 406.4,586.6 406.8,594.1 407.2,610.7 407.6,573.5 408.0,618.2 408.3,616.7 408.7,603.4 409.1,607.5 409.5,603.8 409.9,603.7 410.3,620.0 410.7,591.5 411.1,585.9 411.4,616.9 411.8,604.1 412.2,571.9 412.6,608.6 413.0,569.1 413.4,553.6 413.8,582.3 414.2,600.5 414.5,583.0 414.9,600.4 415.3,589.5 415.7,557.6 416.1,590.5 416.5,550.7 416.9,581.2 417.3,582.6 417.6,581.3 418.0,595.4 418.4,553.0 418.8,567.2 419.2,561.6 419.6,570.2 420.0,539.9 420.4,566.8 420.7,570.8 421.1,592.6 421.5,593.6 421.9,575.6 422.3,556.5 422.7,598.7 423.1,537.2 423.5,569.4 423.8,574.9 424.2,596.2 424.6,569.7 425.0,615.0 425.4,574.0 425.8,538.3 426.2,595.2 426.6,578.5 426.9,609.9 427.3,591.6 427.7,567.4 428.1,596.9 428.5,580.9 428.9,586.5 429.3,587.2 429.7,578.3 430.0,574.0 430.4,562.2 430.8,569.1 431.2,592.1 431.6,560.4 432.0,563.5 432.4,609.4 432.8,573.7 433.1,601.2 433.5,569.4 433.9,576.6 434.3,606.7 434.7,590.4 435.1,619.9 435.5,589.2 435.9,554.1 436.2,576.3 436.6,574.1 437.0,596.2 437.4,604.7 437.8,605.9 438.2,586.9 438.6,602.2 439.0,599.8 439.3,571.3 439.7,616.7 440.1,611.8 440.5,590.0 440.9,592.8 441.3,593.6 441.7,614.5 442.1,589.1 442.4,605.1 442.8,587.3 443.2,610.9 443.6,615.2 444.0,590.6 444.4,605.2 444.8,598.5 445.2,604.4 445.5,613.5 445.9,643.9 446.3,620.1 446.7,604.8 447.1,603.7 447.5,609.0 447.9,605.2 448.3,587.5 448.6,626.0 449.0,613.9 449.4,604.4 449.8,620.8 450.2,596.1 450.6,597.4 451.0,614.9 451.4,632.7 451.7,579.1 452.1,598.0 452.5,595.8 452.9,605.9 453.3,605.1 453.7,595.2 454.1,609.6 454.5,620.3 454.8,599.5 455.2,610.8 455.6,625.0 456.0,627.9 456.4,595.4 456.8,604.8 457.2,584.0 457.6,625.0 457.9,629.3 458.3,611.6 458.7,596.7 459.1,610.1 459.5,613.5 459.9,590.8 460.3,633.9 460.7,642.7 461.0,635.3 461.4,629.1 461.8,628.2 462.2,643.7 462.6,627.7 463.0,602.5 463.4,641.0 463.8,657.2 464.1,642.3 464.5,611.3 464.9,645.9 465.3,625.2 465.7,584.4 466.1,625.0 466.5,622.0 466.9,638.3 467.2,636.7 467.6,632.6 468.0,658.2 468.4,649.7 468.8,664.8 469.2,639.4 469.6,604.6 470.0,629.1 470.3,648.9 470.7,653.6 471.1,627.3 471.5,651.2 471.9,652.2 472.3,661.1 472.7,662.1 473.1,662.1 473.4,635.4 473.8,645.5 474.2,670.9 474.6,656.0 475.0,630.0 475.4,667.3 475.8,672.3 476.2,620.5 476.5,653.6 476.9,639.7 477.3,635.3 477.7,655.5 478.1,641.0 478.5,662.6 478.9,646.4 479.3,615.5 479.6,645.8 480.0,654.2 480.4,666.1 480.8,622.5 481.2,635.2 481.6,658.9 482.0,665.1 482.4,666.4 482.7,662.3 483.1,645.7 483.5,624.3 483.9,688.4 484.3,652.6 484.7,670.1 485.1,641.7 485.5,638.1 485.8,665.3 486.2,660.1 486.6,668.3 487.0,647.0 487.4,679.0 487.8,671.4 488.2,664.5 488.6,634.1 488.9,640.7 489.3,653.5 489.7,626.5 490.1,652.9 490.5,668.0 490.9,661.3 491.3,672.1 491.7,660.3 492.0,654.8 492.4,646.4 492.8,656.0 493.2,634.7 493.6,652.9 494.0,683.9 494.4,640.4 494.8,659.8 495.1,665.9 495.5,631.4 495.9,611.8 496.3,599.5 496.7,651.3 497.1,634.2 497.5,661.6 497.9,652.1 498.2,678.1 498.6,633.2 499.0,634.4 499.4,659.5 499.8,638.6 500.2,672.9 500.6,627.7 501.0,675.1 501.3,703.5 501.7,654.5 502.1,650.1 502.5,639.4 502.9,655.2 503.3,670.0 503.7,662.3 504.1,632.7 504.4,675.9 504.8,656.0 505.2,672.9 505.6,639.8 506.0,683.6 506.4,662.9 506.8,659.5 507.2,671.7 507.5,620.2 507.9,633.1 508.3,674.1 508.7,623.6 509.1,676.7 509.5,658.0 509.9,681.6 510.3,657.1 510.6,649.5 511.0,673.9 511.4,651.1 511.8,657.2 512.2,665.2 512.6,664.1 513.0,643.8 513.4,649.0 513.7,676.4 514.1,634.9 514.5,654.3 514.9,646.0 515.3,637.4 515.7,672.5 516.1,658.2 516.5,646.9 516.8,671.2 517.2,651.8 517.6,650.3 518.0,634.3 518.4,669.7 518.8,655.0 519.2,598.6 519.6,603.3 519.9,619.6 520.3,654.8 520.7,667.4 521.1,659.0 521.5,647.4 521.9,633.6 522.3,635.8 522.7,636.4 523.0,637.1 523.4,647.2 523.8,654.4 524.2,648.0 524.6,650.4 525.0,640.1 525.4,677.7 525.8,653.2 526.1,652.0 526.5,665.0 526.9,649.6 527.3,663.3 527.7,656.9 528.1,626.8 528.5,649.9 528.9,654.8 529.2,628.1 529.6,642.1 530.0,640.0 530.4,641.2 530.8,655.1 531.2,657.8 531.6,631.0 532.0,649.5 532.3,671.6 532.7,678.1 533.1,639.9 533.5,625.5 533.9,644.0 534.3,651.3 534.7,648.9 535.1,645.1 535.4,661.7 535.8,642.2 536.2,626.3 536.6,630.6 537.0,668.7 537.4,608.1 537.8,621.2 538.2,644.7 538.5,627.2 538.9,635.2 539.3,667.7 539.7,639.2 540.1,653.3 540.5,646.7 540.9,627.8 541.3,649.5 541.6,620.7 542.0,602.0 542.4,658.7 542.8,641.5 543.2,629.2 543.6,587.7 544.0,665.9 544.4,628.8 544.7,633.0 545.1,643.8 545.5,650.1 545.9,645.0 546.3,645.2 546.7,656.2 547.1,611.5 547.5,653.3 547.8,642.4 548.2,645.9 548.6,650.1 549.0,627.8 549.4,646.8 549.8,638.4 550.2,607.6 550.6,617.8 550.9,638.6 551.3,619.7 551.7,634.6 552.1,630.0 552.5,655.6 552.9,651.0 553.3,646.4 553.7,613.3 554.0,628.9 554.4,674.4 554.8,629.7 555.2,626.1 555.6,625.0 556.0,616.3 556.4,628.6 556.8,645.2 557.1,643.0 557.5,611.4 557.9,608.1 558.3,621.1 558.7,655.2 559.1,675.4 559.5,624.0 559.9,629.9 560.2,628.1 560.6,633.8 561.0,600.2 561.4,600.9 561.8,643.3 562.2,629.2 562.6,621.0 563.0,621.5 563.3,662.5 563.7,609.7 564.1,597.7 564.5,639.2 564.9,623.5 565.3,602.9 565.7,616.2 566.1,642.4 566.4,639.5 566.8,637.1 567.2,642.8 567.6,620.6 568.0,628.5 568.4,619.6 568.8,609.2 569.2,592.4 569.5,616.9 569.9,649.3 570.3,598.6 570.7,621.5 571.1,599.6 571.5,617.8 571.9,597.6 572.3,589.8 572.6,575.8 573.0,554.5 573.4,563.9 573.8,554.5 574.2,552.9 574.6,557.1 575.0,539.4 575.4,552.5 575.7,575.4 576.1,567.6 576.5,563.6 576.9,562.9 577.3,568.3 577.7,593.2 578.1,595.3 578.5,619.3 578.8,603.0 579.2,628.6 579.6,608.3 580.0,660.8 580.4,641.1 580.8,627.6 581.2,646.2 581.6,664.0 581.9,614.4 582.3,611.8 582.7,615.0 583.1,624.0 583.5,604.9 583.9,636.0 584.3,613.5 584.7,631.0 585.0,628.0 585.4,630.2 585.8,628.2 586.2,610.7 586.6,605.7 587.0,605.9 587.4,614.0 587.8,617.8 588.1,608.5 588.5,601.0 588.9,635.1 589.3,638.2 589.7,627.7 590.1,654.3 590.5,632.2 590.9,629.5 591.2,644.5 591.6,637.5 592.0,617.9 592.4,632.3 592.8,627.6 593.2,612.8 593.6,638.3 594.0,646.6 594.3,629.6 594.7,621.1 595.1,657.0 595.5,619.0 595.9,634.0 596.3,629.1 596.7,642.5 597.1,602.8 597.4,614.5 597.8,621.3 598.2,617.0 598.6,635.2 599.0,605.0 599.4,610.0 599.8,630.0 600.2,670.3 600.5,629.0 600.9,587.6 601.3,630.9 601.7,641.4 602.1,604.1 602.5,630.3 602.9,623.0 603.3,619.0 603.6,626.6 604.0,629.2 604.4,613.1 604.8,636.7 605.2,621.9 605.6,632.5 606.0,616.7 606.4,604.4 606.7,650.0 607.1,637.8 607.5,627.7 607.9,643.8 608.3,637.3 608.7,640.1 609.1,639.3 609.5,645.6 609.8,630.9 610.2,623.4 610.6,585.0 611.0,626.7 611.4,619.2 611.8,658.7 612.2,640.0 612.6,635.7 612.9,631.0 613.3,639.0 613.7,611.1 614.1,653.8 614.5,636.5 614.9,629.7 615.3,624.7 615.7,652.1 616.0,650.3 616.4,636.3 616.8,633.7 617.2,629.1 617.6,644.2 618.0,654.2 618.4,647.1 618.8,617.6 619.1,665.3 619.5,615.3 619.9,662.3 620.3,645.4 620.7,630.9 621.1,625.1 621.5,646.6 621.9,639.9 622.2,675.8 622.6,645.7 623.0,660.3 623.4,649.0 623.8,628.1 624.2,641.8 624.6,692.1 625.0,650.5 625.3,641.5 625.7,654.0 626.1,686.4 626.5,658.9 626.9,652.2 627.3,646.0 627.7,648.5 628.1,655.9 628.4,634.5 628.8,639.5 629.2,655.1 629.6,680.8 630.0,679.4 630.4,653.8 630.8,651.9 631.2,655.4 631.5,658.0 631.9,672.3 632.3,647.8 632.7,624.9 633.1,653.7 633.5,652.1 633.9,653.9 634.3,650.1 634.6,631.5 635.0,621.7 635.4,644.3 635.8,653.1 636.2,623.8 636.6,650.3 637.0,651.0 637.4,657.5 637.7,657.0 638.1,648.8 638.5,656.9 638.9,646.5 639.3,652.0 639.7,644.8 640.1,642.1 640.5,656.4 640.8,650.0 641.2,661.0 641.6,652.5 642.0,636.7 642.4,678.3 642.8,683.7 643.2,640.8 643.6,658.7 643.9,635.1 644.3,656.8 644.7,657.5 645.1,623.3 645.5,650.3 645.9,663.3 646.3,668.1 646.7,648.8 647.0,667.5 647.4,640.5 647.8,640.7 648.2,679.1 648.6,664.0 649.0,651.9 649.4,634.6 649.8,645.8 650.1,666.8 650.5,677.1 650.9,666.0 651.3,663.4 651.7,655.7 652.1,693.7 652.5,616.4 652.9,653.1 653.2,659.5 653.6,671.6 654.0,680.7 654.4,658.3 654.8,664.2 655.2,670.4 655.6,667.8 656.0,656.9 656.3,667.2 656.7,693.4 657.1,656.4 657.5,663.0 657.9,656.1 658.3,661.8 658.7,699.0 659.1,686.4 659.4,663.8 659.8,662.5 660.2,634.1 660.6,664.7 661.0,691.0 661.4,674.7 661.8,663.4 662.2,663.8 662.5,657.2 662.9,651.1 663.3,684.3 663.7,703.3 664.1,684.5 664.5,688.9 664.9,639.1 665.3,675.0 665.6,693.5 666.0,663.5 666.4,658.0 666.8,672.2 667.2,670.3 667.6,658.2 668.0,665.9 668.4,671.5 668.7,665.1 669.1,660.3 669.5,669.1 669.9,661.4 670.3,665.8 670.7,677.9 671.1,676.8 671.5,665.8 671.8,683.1 672.2,658.2 672.6,657.4 673.0,705.2 673.4,676.5 673.8,689.0 674.2,677.3 674.6,673.8 674.9,669.2 675.3,667.9 675.7,671.6 676.1,671.0 676.5,688.0 676.9,681.7 677.3,655.5 677.7,713.1 678.0,651.9 678.4,685.3 678.8,660.0 679.2,715.2 679.6,683.6 680.0,665.2 680.4,701.6 680.8,665.4 681.1,690.6 681.5,686.1 681.9,687.6 682.3,670.8 682.7,671.5 683.1,680.2 683.5,682.3 683.9,682.8 684.2,677.4 684.6,692.5 685.0,679.7 685.4,681.0 685.8,686.9 686.2,687.4 686.6,674.2 687.0,688.2 687.3,673.4 687.7,659.6 688.1,679.1 688.5,689.9 688.9,679.1 689.3,689.2 689.7,697.7 690.1,685.7 690.4,683.3 690.8,681.5 691.2,653.1 691.6,655.9 692.0,680.9 692.4,676.8 692.8,693.7 693.2,676.0 693.5,700.1 693.9,660.6 694.3,682.6 694.7,672.9 695.1,699.8 695.5,661.0 695.9,672.3 696.3,652.9 696.6,680.3 697.0,704.6 697.4,692.7 697.8,699.5 698.2,658.8 698.6,690.5 699.0,692.4 699.4,673.1 699.7,672.1 700.1,674.7 700.5,689.0 700.9,710.6 701.3,687.1 701.7,713.5 702.1,663.6 702.5,667.3 702.8,687.5 703.2,673.2 703.6,672.5 704.0,673.1 704.4,674.6 704.8,669.6 705.2,681.1 705.6,714.1 705.9,722.0 706.3,664.3 706.7,673.8 707.1,718.4 707.5,679.9 707.9,695.0 708.3,653.6 708.7,719.6 709.0,671.3 709.4,683.5 709.8,670.6 710.2,666.7 710.6,648.2 711.0,658.5 711.4,677.8 711.8,678.8 712.1,690.9 712.5,674.1 712.9,684.9 713.3,689.0 713.7,664.1 714.1,670.8 714.5,719.1 714.9,695.6 715.2,683.5 715.6,699.3 716.0,662.4 716.4,677.0 716.8,671.2 717.2,665.7 717.6,659.6 718.0,682.3 718.3,673.1 718.7,674.1 719.1,666.0 719.5,669.2 719.9,656.5 720.3,668.8 720.7,682.9 721.1,674.1 721.4,691.6 721.8,670.6 722.2,653.4 722.6,683.2 723.0,697.8 723.4,668.3 723.8,681.0 724.2,673.7 724.5,681.9 724.9,672.2 725.3,687.6 725.7,651.0 726.1,676.2 726.5,640.2 726.9,662.2 727.3,675.2 727.6,666.6 728.0,676.6 728.4,659.5 728.8,676.5 729.2,666.6 729.6,691.5 730.0,686.5 730.4,685.2 730.7,682.0 731.1,657.7 731.5,674.6 731.9,695.2 732.3,696.2 732.7,706.9 733.1,685.3 733.5,660.4 733.8,707.8 734.2,687.6 734.6,654.5 735.0,653.5 735.4,672.8 735.8,681.6 736.2,664.1 736.6,681.6 736.9,654.3 737.3,659.5 737.7,665.5 738.1,688.3 738.5,663.0 738.9,680.3 739.3,680.2 739.7,683.0 740.0,678.9 740.4,670.4 740.8,665.7 741.2,665.9 741.6,630.3 742.0,682.9 742.4,662.1 742.8,688.1 743.1,686.9 743.5,696.7 743.9,664.6 744.3,679.1 744.7,682.2 745.1,686.9 745.5,673.7 745.9,694.8 746.2,683.4 746.6,655.0 747.0,693.2 747.4,700.9 747.8,712.9 748.2,682.5 748.6,693.6 749.0,705.7 749.3,707.4 749.7,696.0 750.1,710.9 750.5,668.2 750.9,700.6 751.3,700.8 751.7,700.1 752.1,724.4 752.4,719.8 752.8,705.1 753.2,702.1 753.6,718.1 754.0,718.0 754.4,695.3 754.8,684.1 755.2,686.2 755.5,705.9 755.9,669.4 756.3,701.8 756.7,730.0 757.1,656.7 757.5,703.7 757.9,699.6 758.3,704.0 758.6,681.2 759.0,709.6 759.4,697.8 759.8,695.6 760.2,720.1 760.6,701.8 761.0,701.1 761.4,691.2 761.7,689.7 762.1,693.0 762.5,717.2 762.9,692.2 763.3,692.2 763.7,706.5 764.1,696.8 764.5,696.7 764.8,691.1 765.2,679.0 765.6,701.0 766.0,704.9 766.4,706.8 766.8,716.3 767.2,713.3 767.6,723.4 767.9,710.8 768.3,718.4 768.7,699.8 769.1,698.1 769.5,710.0 769.9,689.5 770.3,714.8 770.7,698.2 771.0,703.4 771.4,719.0 771.8,718.5 772.2,720.7 772.6,708.5 773.0,705.3 773.4,667.2 773.8,701.4 774.1,707.6 774.5,699.2 774.9,717.5 775.3,711.7 775.7,705.3 776.1,720.6 776.5,710.0 776.9,712.1 777.2,708.2 777.6,731.7 778.0,685.8 778.4,711.1 778.8,715.8 779.2,724.0 779.6,727.8 780.0,709.8 780.3,714.6 780.7,701.5 781.1,722.9 781.5,723.8 781.9,706.1 782.3,701.2 782.7,698.3 783.1,711.3 783.4,707.4 783.8,721.8 784.2,708.2 784.6,695.9 785.0,696.4 785.4,705.3 785.8,698.4 786.2,721.6 786.5,705.2 786.9,739.2 787.3,695.7 787.7,714.8 788.1,717.0 788.5,726.1 788.9,728.6 789.3,734.1 789.6,725.1 790.0,704.0 790.4,718.3 790.8,678.1 791.2,700.6 791.6,702.1 792.0,727.0 792.4,716.2 792.7,714.1 793.1,705.3 793.5,724.2 793.9,720.0 794.3,716.1 794.7,705.5 795.1,702.9 795.5,722.3 795.8,691.7 796.2,709.7 796.6,726.1 797.0,736.3 797.4,722.4 797.8,747.6 798.2,705.1 798.6,708.8 798.9,739.5 799.3,684.6 799.7,739.4 800.1,720.6 800.5,707.7 800.9,746.0 801.3,728.2 801.7,709.1 802.0,716.8 802.4,744.4 802.8,724.6 803.2,717.7 803.6,690.5 804.0,724.1 804.4,730.5 804.8,715.3 805.1,714.3 805.5,711.3 805.9,699.9 806.3,720.0 806.7,737.5 807.1,718.9 807.5,721.9 807.9,706.9 808.2,708.7 808.6,729.7 809.0,710.0 809.4,707.1 809.8,722.9 810.2,708.1 810.6,718.6 811.0,718.6 811.3,723.0 811.7,710.6 812.1,683.4 812.5,718.5 812.9,737.0 813.3,731.4 813.7,729.7 814.1,717.9 814.4,724.2 814.8,742.2 815.2,712.9 815.6,698.4 816.0,732.3 816.4,726.0 816.8,696.3 817.2,745.6 817.5,745.7 817.9,691.5 818.3,703.8 818.7,742.8 819.1,728.4 819.5,726.9 819.9,746.9 820.3,692.5 820.6,727.3 821.0,703.6 821.4,734.5 821.8,744.8 822.2,722.9 822.6,723.4 823.0,687.8 823.4,740.1 823.7,746.9 824.1,727.6 824.5,722.8 824.9,719.6 825.3,736.9 825.7,731.8 826.1,720.3 826.5,713.4 826.8,735.6 827.2,726.3 827.6,713.9 828.0,727.4 828.4,712.7 828.8,728.8 829.2,731.2 829.6,707.9 829.9,732.8 830.3,743.5 830.7,726.6 831.1,729.4 831.5,744.6 831.9,716.8 832.3,707.8 832.7,710.0 833.0,741.6 833.4,731.5 833.8,714.4 834.2,755.8 834.6,740.3 835.0,738.7 835.4,728.0 835.8,714.3 836.1,733.7 836.5,745.1 836.9,702.5 837.3,739.4 837.7,718.5 838.1,728.7 838.5,693.4 838.9,743.9 839.2,737.1 839.6,731.4 840.0,751.4 840.4,735.8 840.8,724.0 841.2,752.0 841.6,731.8 842.0,710.5 842.3,741.5 842.7,745.5 843.1,714.0 843.5,735.6 843.9,755.3 844.3,727.3 844.7,713.4 845.1,727.5 845.4,745.1 845.8,726.6 846.2,741.2 846.6,749.8 847.0,750.8 847.4,732.5 847.8,737.5 848.2,729.0 848.5,739.1 848.9,728.1 849.3,726.4 849.7,744.8 850.1,719.3 850.5,741.0 850.9,723.7 851.3,746.7 851.6,733.9 852.0,767.1 852.4,745.2 852.8,748.2 853.2,750.2 853.6,715.2 854.0,757.2 854.4,744.4 854.7,739.6 855.1,736.8 855.5,725.0 855.9,729.0 856.3,745.0 856.7,747.2 857.1,729.4 857.5,726.4 857.8,743.7 858.2,745.5 858.6,751.6 859.0,734.1 859.4,717.6 859.8,734.1 860.2,747.9 860.6,749.7 860.9,731.5 861.3,760.2 861.7,717.2 862.1,738.4 862.5,743.7 862.9,711.1 863.3,736.8 863.7,720.8 864.0,736.3 864.4,725.8 864.8,735.3 865.2,743.6 865.6,734.8 866.0,731.0 866.4,726.3 866.8,737.7 867.1,743.4 867.5,745.1 867.9,736.5 868.3,747.7 868.7,744.7 869.1,733.8 869.5,733.3 869.9,734.4 870.2,751.9 870.6,759.1 871.0,737.5 871.4,739.6 871.8,745.9 872.2,738.6 872.6,730.6 873.0,743.9 873.3,736.4 873.7,753.9 874.1,744.4 874.5,752.2 874.9,760.0 875.3,736.4 875.7,777.7 876.1,742.9 876.4,732.4 876.8,737.3 877.2,761.9 877.6,739.5 878.0,765.6 878.4,753.8 878.8,724.9 879.2,741.0 879.5,728.3 879.9,756.9 880.3,769.4 880.7,752.8 881.1,727.5 881.5,732.1 881.9,730.4 882.3,745.7 882.6,745.1 883.0,746.7 883.4,708.0 883.8,743.3 884.2,722.4 884.6,746.8 885.0,727.5 885.4,758.4 885.7,751.3 886.1,740.7 886.5,752.4 886.9,750.5 887.3,747.5 887.7,752.4 888.1,726.4 888.5,731.8 888.8,763.4 889.2,724.8 889.6,746.8 890.0,746.8 890.4,748.6 890.8,735.9 891.2,738.0 891.6,749.0 891.9,746.5 892.3,763.5 892.7,724.4 893.1,758.1 893.5,758.7 893.9,716.5 894.3,746.3 894.7,738.8 895.0,752.7 895.4,758.3 895.8,752.8 896.2,732.8 896.6,746.0 897.0,770.0 897.4,730.9 897.8,745.2 898.1,725.7 898.5,757.2 898.9,755.9 899.3,752.1 899.7,767.4 900.1,754.8 900.5,764.5 900.9,741.9 901.2,741.0 901.6,735.0 902.0,746.6 902.4,741.1 902.8,750.9 903.2,749.2 903.6,751.1 904.0,788.7 904.3,764.9 904.7,739.5 905.1,749.9 905.5,748.0 905.9,748.7 906.3,756.9 906.7,754.1 907.1,765.9 907.4,750.5 907.8,761.0 908.2,757.1 908.6,775.4 909.0,738.2 909.4,756.9 909.8,755.2 910.2,756.6 910.5,762.7 910.9,760.5 911.3,769.4 911.7,763.1 912.1,731.0 912.5,742.0 912.9,732.2 913.3,764.3 913.6,780.0 914.0,773.8 914.4,789.5 914.8,744.3 915.2,742.8 915.6,756.6 916.0,754.6 916.4,753.7 916.7,759.8 917.1,749.6 917.5,771.0 917.9,764.2 918.3,760.8 918.7,779.8 919.1,771.5 919.5,754.1 919.8,755.3 920.2,789.5 920.6,748.6 921.0,755.6 921.4,750.6 921.8,760.8 922.2,753.0 922.6,775.9 922.9,763.0 923.3,773.3 923.7,766.8 924.1,757.0 924.5,741.1 924.9,760.4 925.3,766.3 925.7,778.6 926.0,755.6 926.4,738.1 926.8,762.6 927.2,789.6 927.6,760.7 928.0,765.4 928.4,781.2 928.8,760.1 929.1,761.1 929.5,766.1 929.9,743.8 930.3,757.5 930.7,757.2 931.1,760.3 931.5,747.6 931.9,775.7 932.2,747.9 932.6,765.3 933.0,744.7 933.4,745.6 933.8,756.7 934.2,768.2 934.6,759.4 935.0,758.7 935.3,780.4 935.7,798.8 936.1,771.5 936.5,746.8 936.9,743.0 937.3,772.0 937.7,769.7 938.1,779.2 938.4,760.4 938.8,754.0 939.2,742.4 939.6,779.1 940.0,752.8 940.4,765.7 940.8,772.6 941.2,768.3 941.5,773.3 941.9,759.0 942.3,764.4 942.7,750.5 943.1,770.9 943.5,786.9 943.9,776.5 944.3,766.2 944.6,751.7 945.0,774.0 945.4,758.9 945.8,781.5 946.2,755.5 946.6,761.5 947.0,772.5 947.4,766.3 947.7,771.7 948.1,770.6 948.5,769.9 948.9,757.2 949.3,767.4 949.7,775.2 950.1,778.1 950.5,742.3 950.8,779.7 951.2,768.7 951.6,752.9 952.0,761.8 952.4,775.7 952.8,743.8 953.2,746.7 953.6,790.8 953.9,782.1 954.3,760.3 954.7,770.0 955.1,771.4 955.5,777.5 955.9,775.2 956.3,766.4 956.7,757.9 957.0,792.7 957.4,796.4 957.8,757.4 958.2,778.7 958.6,760.8 959.0,767.7 959.4,754.5 959.8,768.7 960.1,772.5 960.5,771.3 960.9,765.8 961.3,760.9 961.7,775.9 962.1,787.4 962.5,768.7 962.9,770.4 963.2,768.2 963.6,781.7 964.0,763.1 964.4,790.3 964.8,776.0 965.2,755.4 965.6,783.4 966.0,765.7 966.3,765.4 966.7,765.7 967.1,790.2 967.5,762.2 967.9,769.2 968.3,765.2 968.7,767.4 969.1,782.9 969.4,757.0 969.8,754.5 970.2,792.8 970.6,780.3 971.0,765.9 971.4,796.5 971.8,754.6 972.2,780.5 972.5,765.1 972.9,769.2 973.3,774.3 973.7,783.4 974.1,776.1 974.5,770.9 974.9,763.0 975.3,806.6 975.6,776.7 976.0,775.0 976.4,757.3 976.8,769.0 977.2,780.1 977.6,786.9 978.0,777.2 978.4,783.0 978.7,777.4 979.1,757.1 979.5,789.0 979.9,770.2 980.3,768.2 980.7,774.6 981.1,786.0 981.5,767.9 981.8,775.4 982.2,771.5 982.6,772.3 983.0,776.8 983.4,767.0 983.8,766.6 984.2,770.0 984.6,765.5 984.9,784.2 985.3,784.5 985.7,751.6 986.1,762.8 986.5,777.7 986.9,782.2 987.3,780.4 987.7,781.1 988.0,797.5 988.4,784.9 988.8,781.8 989.2,769.2 989.6,767.6 990.0,758.7 990.4,765.7 990.8,760.7 991.1,760.3 991.5,764.0 991.9,773.2 992.3,763.2 992.7,791.5 993.1,763.5 993.5,771.6 993.9,771.4 994.2,788.5 994.6,758.4 995.0,767.4 995.4,770.6 995.8,794.2 996.2,775.4 996.6,780.7 997.0,782.1 997.3,780.8 997.7,753.3 998.1,773.7 998.5,769.4 998.9,749.2 999.3,789.3 999.7,756.0 1000.1,777.3 1000.4,780.2 1000.8,777.7 1001.2,793.3 1001.6,790.2 1002.0,785.7 1002.4,779.2 1002.8,764.9 1003.2,760.7 1003.5,777.0 1003.9,768.6 1004.3,767.9 1004.7,775.3 1005.1,770.1 1005.5,779.2 1005.9,766.4 1006.3,775.0 1006.6,772.1 1007.0,769.6 1007.4,770.8 1007.8,780.3 1008.2,787.3 1008.6,773.0 1009.0,778.5 1009.4,778.1 1009.7,773.3 1010.1,780.0 1010.5,767.0 1010.9,767.5 1011.3,781.9 1011.7,767.7 1012.1,782.4 1012.5,763.7 1012.8,764.8 1013.2,768.1 1013.6,761.7 1014.0,768.0 1014.4,766.5 1014.8,791.6 1015.2,769.7 1015.6,768.9 1015.9,762.0 1016.3,781.7 1016.7,762.9 1017.1,766.6 1017.5,765.8 1017.9,783.9 1018.3,779.5 1018.7,757.3 1019.0,760.5 1019.4,770.3 1019.8,764.8 1020.2,766.1 1020.6,773.4 1021.0,764.9 1021.4,757.2 1021.8,769.8 1022.1,765.4 1022.5,787.6 1022.9,773.6 1023.3,764.2 1023.7,769.9 1024.1,775.1 1024.5,779.1 1024.9,764.4 1025.2,770.6 1025.6,770.1 1026.0,769.4 1026.4,782.0 1026.8,769.5 1027.2,772.5 1027.6,765.4 1028.0,768.7 1028.3,777.5 1028.7,765.1 1029.1,767.1 1029.5,763.6 1029.9,743.3 1030.3,757.0 1030.7,752.8 1031.1,760.6 1031.4,766.3 1031.8,773.7 1032.2,766.3 1032.6,780.3 1033.0,790.2 1033.4,776.9 1033.8,730.9 1034.2,775.1 1034.5,764.8 1034.9,768.9 1035.3,763.3 1035.7,754.5 1036.1,753.0 1036.5,754.6 1036.9,760.9 1037.3,769.1 1037.6,795.3 1038.0,765.8 1038.4,765.0 1038.8,784.5 1039.2,774.0 1039.6,779.4 1040.0,757.8 1040.4,741.6 1040.7,748.1 1041.1,721.1 1041.5,773.6 1041.9,764.4 1042.3,781.0 1042.7,764.0 1043.1,732.7 1043.5,738.1 1043.8,759.8 1044.2,744.1 1044.6,752.8 1045.0,756.1 1045.4,742.5 1045.8,750.2 1046.2,756.4 1046.6,737.0 1046.9,734.1 1047.3,729.2 1047.7,747.3 1048.1,751.2 1048.5,751.2 1048.9,748.5 1049.3,756.5 1049.7,767.2 1050.0,763.5 1050.4,746.1 1050.8,771.0 1051.2,752.1 1051.6,776.4 1052.0,755.6 1052.4,759.7 1052.8,765.4 1053.1,763.8 1053.5,766.4 1053.9,746.4 1054.3,769.2 1054.7,737.5 1055.1,761.0 1055.5,753.5 1055.9,761.9 1056.2,767.2 1056.6,755.0 1057.0,774.0 1057.4,774.4 1057.8,773.2 1058.2,744.5 1058.6,789.9 1059.0,780.3 1059.3,764.1 1059.7,760.2 1060.1,748.6 1060.5,762.6 1060.9,772.4 1061.3,752.7 1061.7,769.1 1062.1,755.3 1062.4,756.4 1062.8,762.4 1063.2,783.2 1063.6,779.2 1064.0,747.5 1064.4,767.9 1064.8,787.8 1065.2,768.1 1065.5,759.2 1065.9,764.8 1066.3,769.0 1066.7,793.6 1067.1,768.9 1067.5,771.1 1067.9,782.0 1068.3,770.0 1068.6,770.8 1069.0,775.0 1069.4,771.9 1069.8,767.9 1070.2,739.4 1070.6,780.4 1071.0,784.3 1071.4,777.9 1071.7,775.4 1072.1,775.3 1072.5,788.0 1072.9,780.8 1073.3,792.3 1073.7,762.8 1074.1,760.7 1074.5,768.9 1074.8,774.5 1075.2,768.7 1075.6,789.2 1076.0,787.7 1076.4,761.9 1076.8,774.3 1077.2,775.0 1077.6,781.6 1077.9,800.2 1078.3,782.0 1078.7,766.7 1079.1,761.8 1079.5,801.7 1079.9,792.0 1080.3,781.9 1080.7,765.7 1081.0,772.4 1081.4,786.2 1081.8,761.7 1082.2,781.0 1082.6,778.8 1083.0,775.7 1083.4,779.6 1083.8,776.8 1084.1,780.9 1084.5,781.4 1084.9,786.8 1085.3,788.0 1085.7,795.7 1086.1,785.0 1086.5,776.8 1086.9,781.2 1087.2,779.6 1087.6,798.7 1088.0,787.4 1088.4,767.4 1088.8,780.3 1089.2,785.7 1089.6,774.9 1090.0,784.5 1090.3,776.2 1090.7,746.9 1091.1,775.1 1091.5,768.7 1091.9,756.3 1092.3,766.5 1092.7,768.6 1093.1,791.2 1093.4,783.2 1093.8,781.7 1094.2,775.9 1094.6,780.1 1095.0,778.2 1095.4,797.8 1095.8,780.9 1096.2,775.1 1096.5,763.2 1096.9,772.7 1097.3,779.8 1097.7,793.0 1098.1,781.1 1098.5,781.0 1098.9,782.6 1099.3,779.7 1099.6,776.2 1100.0,786.0 1100.4,796.6 1100.8,771.3 1101.2,797.7 1101.6,777.8 1102.0,794.4 1102.4,784.1 1102.7,782.9 1103.1,790.4 1103.5,764.9 1103.9,775.8 1104.3,781.1 1104.7,776.4 1105.1,773.8 1105.5,774.7 1105.8,776.8 1106.2,781.6 1106.6,783.1 1107.0,787.9 1107.4,765.6 1107.8,780.1 1108.2,797.9 1108.6,778.6 1108.9,809.6 1109.3,781.1 1109.7,776.2 1110.1,769.7 1110.5,778.3 1110.9,791.4 1111.3,764.7 1111.7,774.0 1112.0,771.5 1112.4,787.2 1112.8,778.4 1113.2,802.7 1113.6,780.2 1114.0,806.4 1114.4,795.6 1114.8,800.2 1115.1,774.0 1115.5,776.3 1115.9,791.6 1116.3,782.0 1116.7,785.2 1117.1,806.0 1117.5,790.1 1117.9,803.6 1118.2,785.7 1118.6,782.9 1119.0,794.0 1119.4,778.6 1119.8,776.3 1120.2,795.9 1120.6,781.3 1121.0,788.1 1121.3,790.1 1121.7,770.5 1122.1,794.5 1122.5,791.1 1122.9,788.3 1123.3,767.4 1123.7,780.1 1124.1,797.3 1124.4,774.3 1124.8,789.6 1125.2,768.0 1125.6,786.5 1126.0,793.3 1126.4,799.0 1126.8,784.9 1127.2,778.1 1127.5,789.1 1127.9,794.8 1128.3,810.7 1128.7,791.6 1129.1,784.4 1129.5,792.5 1129.9,803.0 1130.3,791.7 1130.6,779.7 1131.0,800.3 1131.4,769.4 1131.8,789.5 1132.2,787.9 1132.6,785.3 1133.0,815.6 1133.4,790.1 1133.7,784.1 1134.1,781.9 1134.5,791.2 1134.9,791.3 1135.3,781.9 1135.7,778.3 1136.1,803.5 1136.5,793.7 1136.8,789.9 1137.2,789.7 1137.6,780.7 1138.0,797.8 1138.4,791.1 1138.8,790.9 1139.2,803.6 1139.6,799.6 1139.9,776.7 1140.3,806.9 1140.7,783.8 1141.1,796.9 1141.5,793.0 1141.9,791.0 1142.3,772.1 1142.7,786.7 1143.0,785.1 1143.4,780.1 1143.8,811.9 1144.2,771.8 1144.6,806.6 1145.0,797.2 1145.4,783.5 1145.8,802.3 1146.1,807.4 1146.5,778.9 1146.9,793.4 1147.3,781.1 1147.7,785.6 1148.1,792.3 1148.5,790.4 1148.9,792.9 1149.2,770.7 1149.6,799.2 1150.0,800.2 1150.4,797.2 1150.8,788.2 1151.2,801.6 1151.6,797.4 1152.0,803.9 1152.4,788.8 1152.7,756.3 1153.1,787.1 1153.5,796.4 1153.9,798.2 1154.3,788.9 1154.7,790.1 1155.1,795.9 1155.5,796.3 1155.8,776.8 1156.2,791.3 1156.6,788.0 1157.0,794.3 1157.4,795.1 1157.8,771.7 1158.2,796.9 1158.6,768.8 1158.9,797.5 1159.3,805.6 1159.7,783.6 1160.1,792.4 1160.5,776.7 1160.9,787.2 1161.3,793.7 1161.7,782.4 1162.0,794.3 1162.4,787.4 1162.8,793.0 1163.2,808.6 1163.6,787.9 1164.0,796.8 1164.4,801.2 1164.8,812.9 1165.1,805.5 1165.5,786.8 1165.9,786.4 1166.3,773.6 1166.7,784.2 1167.1,758.5 1167.5,798.3 1167.9,792.4 1168.2,805.7 1168.6,788.4 1169.0,794.2 1169.4,795.9 1169.8,792.3 1170.2,788.2 1170.6,790.1 1171.0,803.8 1171.3,780.1 1171.7,792.4 1172.1,789.6 1172.5,792.7 1172.9,801.7 1173.3,790.4 1173.7,796.6 1174.1,801.0 1174.4,791.8 1174.8,785.9 1175.2,787.3 1175.6,791.3 1176.0,798.9 1176.4,796.3 1176.8,794.5 1177.2,798.3 1177.5,792.1 1177.9,792.5 1178.3,805.3 1178.7,779.4 1179.1,775.3 1179.5,805.5 1179.9,795.1 1180.3,801.3 1180.6,804.9 1181.0,806.4 1181.4,789.0 1181.8,790.1 1182.2,783.3 1182.6,811.4 1183.0,800.9 1183.4,795.7 1183.7,784.9 1184.1,793.0 1184.5,786.9 1184.9,789.7 1185.3,802.3 1185.7,795.1 1186.1,797.7 1186.5,797.0 1186.8,802.6 1187.2,787.1 1187.6,791.3 1188.0,811.9 1188.4,787.4 1188.8,799.5 1189.2,808.0 1189.6,783.1 1189.9,794.6 1190.3,791.1 1190.7,795.7 1191.1,788.8 1191.5,811.2 1191.9,787.6 1192.3,801.3 1192.7,794.4 1193.0,795.4 1193.4,803.6 1193.8,806.2 1194.2,796.1 1194.6,783.0 1195.0,800.8 1195.4,800.3 1195.8,793.9 1196.1,800.2 1196.5,782.8 1196.9,790.6 1197.3,771.8 1197.7,792.9 1198.1,774.5 1198.5,800.3 1198.9,792.8 1199.2,804.6 1199.6,798.5 1200.0,797.8 1200.4,789.3 1200.8,782.4 1201.2,802.7 1201.6,808.2 1202.0,785.7 1202.3,796.5 1202.7,799.4 1203.1,787.1 1203.5,784.6 1203.9,801.3 1204.3,801.4 1204.7,818.7 1205.1,800.7 1205.4,787.3 1205.8,803.4 1206.2,786.7 1206.6,788.8 1207.0,789.3 1207.4,789.2 1207.8,795.7 1208.2,785.6 1208.5,785.3 1208.9,791.8 1209.3,809.3 1209.7,783.1 1210.1,781.2 1210.5,800.8 1210.9,787.3 1211.3,794.5 1211.6,773.6 1212.0,798.0 1212.4,802.3 1212.8,803.4 1213.2,787.8 1213.6,804.7 1214.0,789.2 1214.4,799.8 1214.7,782.8 1215.1,780.8 1215.5,784.7 1215.9,813.0 1216.3,808.5 1216.7,788.9 1217.1,771.2 1217.5,800.7 1217.8,799.0 1218.2,794.9 1218.6,789.8 1219.0,798.4 1219.4,794.7 1219.8,795.4 1220.2,807.3 1220.6,778.9 1220.9,779.6 1221.3,795.1 1221.7,796.6 1222.1,778.3 1222.5,773.2 1222.9,811.6 1223.3,789.9 1223.7,799.2 1224.0,792.4 1224.4,818.8 1224.8,800.4 1225.2,791.4 1225.6,811.4 1226.0,791.9 1226.4,794.8 1226.8,790.0 1227.1,793.2 1227.5,797.1 1227.9,797.6 1228.3,797.4 1228.7,782.7 1229.1,804.4 1229.5,799.2 1229.9,787.3 1230.2,798.9 1230.6,786.8 1231.0,782.3 1231.4,788.4 1231.8,799.6 1232.2,819.0 1232.6,791.4 1233.0,804.4 1233.3,777.3 1233.7,793.9 1234.1,790.0 1234.5,787.4 1234.9,800.3 1235.3,787.5 1235.7,806.9 1236.1,804.6 1236.4,780.2 1236.8,775.9 1237.2,790.2 1237.6,785.1 1238.0,799.6 1238.4,790.8 1238.8,800.3 1239.2,799.8 1239.5,791.8 1239.9,800.9 1240.3,813.7 1240.7,801.0 1241.1,790.0 1241.5,783.6 1241.9,799.2 1242.3,781.4 1242.6,807.7 1243.0,779.7 1243.4,772.9 1243.8,786.4 1244.2,809.6 1244.6,793.5 1245.0,795.0 1245.4,803.9 1245.7,800.3 1246.1,798.2 1246.5,793.7 1246.9,804.0 1247.3,804.1 1247.7,795.6 1248.1,804.9 1248.5,791.9 1248.8,788.3 1249.2,813.3 1249.6,797.4 1250.0,794.5 1250.4,796.3 1250.8,794.1 1251.2,790.3 1251.6,781.3 1251.9,798.4 1252.3,804.1 1252.7,789.9 1253.1,796.8 1253.5,795.9 1253.9,795.0 1254.3,801.2 1254.7,797.2 1255.0,803.6 1255.4,814.9 1255.8,797.9 1256.2,794.6 1256.6,797.9 1257.0,815.0 1257.4,768.0 1257.8,787.1 1258.1,789.8 1258.5,799.9 1258.9,808.7 1259.3,793.1 1259.7,795.3 1260.1,788.3 1260.5,811.4 1260.9,798.5 1261.2,795.3 1261.6,794.4 1262.0,796.4 1262.4,794.7 1262.8,818.5 1263.2,800.4 1263.6,803.6 1264.0,811.5 1264.3,796.6 1264.7,801.1 1265.1,808.1 1265.5,810.2 1265.9,794.8 1266.3,820.6 1266.7,795.2 1267.1,807.8 1267.4,796.5 1267.8,780.5 1268.2,788.6 1268.6,798.3 1269.0,784.2 1269.4,780.8 1269.8,788.8 1270.2,781.1 1270.5,795.8 1270.9,792.0 1271.3,798.5 1271.7,801.2 1272.1,797.6 1272.5,804.8 1272.9,798.7 1273.3,777.9 1273.6,791.4 1274.0,799.5 1274.4,782.3 1274.8,784.8 1275.2,807.5 1275.6,804.1 1276.0,782.3 1276.4,797.0 1276.7,815.4 1277.1,802.6 1277.5,807.9 1277.9,787.6 1278.3,805.2 1278.7,793.1 1279.1,781.3 1279.5,793.1 1279.8,799.9 1280.2,792.3 1280.6,793.0 1281.0,802.1 1281.4,795.7 1281.8,808.1 1282.2,813.8 1282.6,803.0 1282.9,813.9 1283.3,803.8 1283.7,799.3 1284.1,796.6 1284.5,781.5 1284.9,806.6 1285.3,802.4 1285.7,791.0 1286.0,807.4 1286.4,780.2 1286.8,805.4 1287.2,800.5 1287.6,800.0 1288.0,793.1 1288.4,801.3 1288.8,805.4 1289.1,787.4 1289.5,804.5 1289.9,817.5 1290.3,789.6 1290.7,790.2 1291.1,811.5 1291.5,818.5 1291.9,799.0 1292.2,802.3 1292.6,812.4 1293.0,809.6 1293.4,782.7 1293.8,793.8 1294.2,808.5 1294.6,800.3 1295.0,798.0 1295.3,802.0 1295.7,799.3 1296.1,783.3 1296.5,804.8 1296.9,806.0 1297.3,799.5 1297.7,805.2 1298.1,803.2 1298.4,803.2 1298.8,808.2 1299.2,788.4 1299.6,805.3 1300.0,787.4 1300.4,807.0 1300.8,807.6 1301.2,797.1 1301.5,791.0 1301.9,791.8 1302.3,793.3 1302.7,778.5 1303.1,824.9 1303.5,808.8 1303.9,812.5 1304.3,801.4 1304.6,800.0 1305.0,776.1 1305.4,819.9 1305.8,793.4 1306.2,801.6 1306.6,799.4 1307.0,789.8 1307.4,789.7 1307.7,792.4 1308.1,797.7 1308.5,788.8 1308.9,816.4 1309.3,805.5 1309.7,812.1 1310.1,806.7 1310.5,801.4 1310.8,780.9 1311.2,805.5 1311.6,802.4 1312.0,801.3 1312.4,786.2 1312.8,804.8 1313.2,795.7 1313.6,792.4 1313.9,794.7 1314.3,818.1 1314.7,811.7 1315.1,793.8 1315.5,815.9 1315.9,802.1 1316.3,813.7 1316.7,796.6 1317.0,786.7 1317.4,814.2 1317.8,802.5 1318.2,809.9 1318.6,805.3 1319.0,789.1 1319.4,797.8 1319.8,797.3 1320.1,786.6 1320.5,799.4 1320.9,788.7 1321.3,796.9 1321.7,800.3 1322.1,803.7 1322.5,807.9 1322.9,809.7 1323.2,808.8 1323.6,795.8 1324.0,796.8 1324.4,807.9 1324.8,789.5 1325.2,799.4 1325.6,803.9 1326.0,812.7 1326.3,807.9 1326.7,792.7 1327.1,796.6 1327.5,806.1 1327.9,789.5 1328.3,801.1 1328.7,805.0 1329.1,791.1 1329.4,806.8 1329.8,800.5 1330.2,809.8 1330.6,789.1 1331.0,821.3 1331.4,806.0 1331.8,816.0 1332.2,805.7 1332.5,793.0 1332.9,803.5 1333.3,804.3 1333.7,801.0 1334.1,783.3 1334.5,788.4 1334.9,796.7 1335.3,806.2 1335.6,804.1 1336.0,797.6 1336.4,802.6 1336.8,801.6 1337.2,809.7 1337.6,812.5 1338.0,810.2 1338.4,798.5 1338.7,808.6 1339.1,778.3 1339.5,795.6 1339.9,794.7 1340.3,791.7 1340.7,809.5 1341.1,810.6 1341.5,802.3 1341.8,795.1 1342.2,795.4 1342.6,785.8 1343.0,787.9 1343.4,790.9 1343.8,790.1 1344.2,797.6 1344.6,792.4 1344.9,802.2 1345.3,803.4 1345.7,791.5 1346.1,814.0 1346.5,787.4 1346.9,819.6 1347.3,803.7 1347.7,786.6 1348.0,797.9 1348.4,807.8 1348.8,796.0 1349.2,794.6 1349.6,790.4 1350.0,802.0 1350.4,797.9 1350.8,804.4 1351.1,790.4 1351.5,800.0 1351.9,794.4 1352.3,805.0 1352.7,798.1 1353.1,806.9 1353.5,805.6 1353.9,816.4 1354.2,800.7 1354.6,799.9 1355.0,792.8 1355.4,806.2 1355.8,796.8 1356.2,805.9 1356.6,802.6 1357.0,780.4 1357.3,814.0 1357.7,784.0 1358.1,795.9 1358.5,794.8 1358.9,784.7 1359.3,809.0 1359.7,810.2 1360.1,790.7 1360.4,801.4 1360.8,804.9 1361.2,803.5 1361.6,800.7 1362.0,791.0 1362.4,796.3 1362.8,806.0 1363.2,807.0 1363.5,808.3 1363.9,792.7 1364.3,795.4 1364.7,800.6 1365.1,813.5 1365.5,800.1 1365.9,804.6 1366.3,795.1 1366.6,800.7 1367.0,796.5 1367.4,792.8 1367.8,790.8 1368.2,806.7 1368.6,793.6 1369.0,804.7 1369.4,810.1 1369.7,797.9 1370.1,789.6 1370.5,787.7 1370.9,792.6 1371.3,814.6 1371.7,797.1 1372.1,801.7 1372.5,794.6 1372.8,806.3 1373.2,804.9 1373.6,806.0 1374.0,803.3 1374.4,805.8 1374.8,808.5 1375.2,790.6 1375.6,806.3 1375.9,802.5 1376.3,802.9 1376.7,805.3 1377.1,795.0 1377.5,804.1 1377.9,800.9 1378.3,793.4 1378.7,801.4 1379.0,812.5 1379.4,804.2 1379.8,804.3 1380.2,794.9 1380.6,786.3 1381.0,791.2 1381.4,801.4 1381.8,788.0 1382.1,806.2 1382.5,797.8 1382.9,796.3 1383.3,800.8 1383.7,801.9 1384.1,798.9 1384.5,787.6 1384.9,795.6 1385.2,805.4 1385.6,798.0 1386.0,792.3 1386.4,785.4 1386.8,793.6 1387.2,798.8 1387.6,788.8 1388.0,793.0 1388.3,799.2 1388.7,806.0 1389.1,799.2 1389.5,792.5 1389.9,809.4 1390.3,813.8 1390.7,796.2 1391.1,801.4 1391.4,811.3 1391.8,802.2 1392.2,802.5 1392.6,800.1 1393.0,804.9 1393.4,796.2 1393.8,801.4 1394.2,804.4 1394.5,794.4 1394.9,790.3 1395.3,794.1 1395.7,795.5 1396.1,800.9 1396.5,799.1 1396.9,796.8 1397.3,801.4 1397.6,812.1 1398.0,792.3 1398.4,820.7 1398.8,804.4 1399.2,786.2 1399.6,807.6 1400.0,799.4 1400.4,792.1 1400.7,800.9 1401.1,812.6 1401.5,796.9 1401.9,801.4 1402.3,813.4 1402.7,789.1 1403.1,798.4 1403.5,795.1 1403.8,798.8 1404.2,797.9 1404.6,808.8 1405.0,813.3 1405.4,795.5 1405.8,800.8 1406.2,788.1 1406.6,790.6 1406.9,799.8 1407.3,801.5 1407.7,812.3 1408.1,811.0 1408.5,799.3 1408.9,787.2 1409.3,811.1 1409.7,800.7 1410.0,802.8 1410.4,805.9 1410.8,802.5 1411.2,794.8 1411.6,800.2 1412.0,812.2 1412.4,796.4 1412.8,800.6 1413.1,795.3 1413.5,807.1 1413.9,778.2 1414.3,818.8 1414.7,786.1 1415.1,814.8 1415.5,801.0 1415.9,802.9 1416.2,806.5 1416.6,812.8 1417.0,814.2 1417.4,808.4 1417.8,791.8 1418.2,797.0 1418.6,810.1 1419.0,814.1 1419.3,794.2 1419.7,816.5 1420.1,813.6 1420.5,797.0 1420.9,813.4 1421.3,807.3 1421.7,808.3 1422.1,817.9 1422.4,795.9 1422.8,772.6 1423.2,803.5 1423.6,798.2 1424.0,803.7 1424.4,802.1 1424.8,799.3 1425.2,796.4 1425.5,805.7 1425.9,801.2 1426.3,803.3 1426.7,796.9 1427.1,793.7 1427.5,792.4 1427.9,780.0 1428.3,805.3 1428.6,795.6 1429.0,801.6 1429.4,803.0 1429.8,809.0 1430.2,798.1 1430.6,790.3 1431.0,811.2 1431.4,791.9 1431.7,807.0 1432.1,795.5 1432.5,822.1 1432.9,802.1 1433.3,806.2 1433.7,786.5 1434.1,808.9 1434.5,791.7 1434.8,807.7 1435.2,810.2 1435.6,798.5 1436.0,792.3 1436.4,801.5 1436.8,796.1 1437.2,799.1 1437.6,801.5 1437.9,789.6 1438.3,801.0 1438.7,793.8 1439.1,810.5 1439.5,802.5 1439.9,793.2 1440.3,804.7 1440.7,818.5 1441.0,794.8 1441.4,796.2 1441.8,803.3 1442.2,800.0 1442.6,803.7 1443.0,797.8 1443.4,791.9 1443.8,798.4 1444.1,801.6 1444.5,804.9 1444.9,802.2 1445.3,805.0 1445.7,793.0 1446.1,809.5 1446.5,805.7 1446.9,798.0 1447.2,798.2 1447.6,798.8 1448.0,804.3 1448.4,799.3 1448.8,799.8 1449.2,813.3 1449.6,806.1 1450.0,797.8 1450.3,789.8 1450.7,804.4 1451.1,805.4 1451.5,820.6 1451.9,786.1 1452.3,799.1 1452.7,800.0 1453.1,806.6 1453.4,820.2 1453.8,790.2 1454.2,799.3 1454.6,807.4 1455.0,805.7 1455.4,801.0 1455.8,786.4 1456.2,809.4 1456.5,802.1 1456.9,798.7 1457.3,815.1 1457.7,796.0 1458.1,796.0 1458.5,802.0 1458.9,797.4 1459.3,799.5 1459.6,807.8 1460.0,795.2 1460.4,807.1 1460.8,803.5 1461.2,807.1 1461.6,796.0 1462.0,805.0 1462.4,805.0 1462.7,818.5 1463.1,825.3 1463.5,793.2 1463.9,818.1 1464.3,798.4 1464.7,801.7 1465.1,815.4 1465.5,822.7 1465.8,793.8 1466.2,794.0 1466.6,798.7 1467.0,792.6 1467.4,804.1 1467.8,794.6 1468.2,811.5 1468.6,777.9 1468.9,789.9 1469.3,810.5 1469.7,794.1 1470.1,813.6 1470.5,803.4 1470.9,808.7 1471.3,786.3 1471.7,812.4 1472.0,811.8 1472.4,806.4 1472.8,799.0 1473.2,806.3 1473.6,804.1 1474.0,799.3 1474.4,801.5 1474.8,816.7 1475.1,811.7 1475.5,788.7 1475.9,801.4 1476.3,802.2 1476.7,790.2 1477.1,793.0 1477.5,808.5 1477.9,789.6 1478.2,805.4 1478.6,784.0 1479.0,797.1 1479.4,797.0 1479.8,804.8 1480.2,806.3 1480.6,803.7 1481.0,805.8 1481.3,808.6 1481.7,810.3 1482.1,800.1 1482.5,792.2 1482.9,786.2 1483.3,795.6 1483.7,802.5 1484.1,808.8 1484.4,788.2 1484.8,800.6 1485.2,793.7 1485.6,798.6 1486.0,800.6 1486.4,806.2 1486.8,796.1 1487.2,808.3 1487.5,809.7 1487.9,799.1 1488.3,794.1 1488.7,794.5 1489.1,795.2 1489.5,810.6 1489.9,803.0 1490.3,793.1 1490.6,785.7 1491.0,784.4 1491.4,792.5 1491.8,820.8 1492.2,793.5 1492.6,808.0 1493.0,807.2 1493.4,811.7 1493.7,804.6 1494.1,808.7 1494.5,803.9 1494.9,814.3 1495.3,793.1 1495.7,797.2 1496.1,811.8 1496.5,807.6 1496.8,805.8 1497.2,809.6 1497.6,802.2 1498.0,796.2 1498.4,791.0 1498.8,800.8 1499.2,793.7 1499.6,797.6 1499.9,797.6 1500.3,795.3 1500.7,813.7 1501.1,806.2 1501.5,791.4 1501.9,820.9 1502.3,809.8 1502.7,788.4 1503.0,811.3 1503.4,802.4 1503.8,801.3 1504.2,812.4 1504.6,821.5 1505.0,807.8 1505.4,809.0 1505.8,789.9 1506.1,810.1 1506.5,807.2 1506.9,804.9 1507.3,800.2 1507.7,812.6 1508.1,802.1 1508.5,821.3 1508.9,808.1 1509.2,810.1 1509.6,809.9 1510.0,805.1 1510.4,825.3 1510.8,810.4 1511.2,804.5 1511.6,816.5 1512.0,804.6 1512.3,797.6 1512.7,810.3 1513.1,807.4 1513.5,805.2 1513.9,798.8 1514.3,802.3 1514.7,794.1 1515.1,813.0 1515.4,803.4 1515.8,827.6 1516.2,802.1 1516.6,811.2 1517.0,792.7 1517.4,791.6 1517.8,795.1 1518.2,810.5 1518.5,820.9 1518.9,805.5 1519.3,809.5 1519.7,800.4 1520.1,796.6 1520.5,812.8 1520.9,800.7 1521.3,799.1 1521.6,797.7 1522.0,821.3 1522.4,804.8 1522.8,811.3 1523.2,807.8 1523.6,807.2 1524.0,808.6 1524.4,799.4 1524.7,793.0 1525.1,800.9 1525.5,815.7 1525.9,796.7 1526.3,799.8 1526.7,809.2 1527.1,797.7 1527.5,810.9 1527.8,800.9 1528.2,808.5 1528.6,815.3 1529.0,804.9 1529.4,810.7 1529.8,793.1 1530.2,792.6 1530.6,794.6 1530.9,803.0 1531.3,806.9 1531.7,804.3 1532.1,802.9 1532.5,808.4 1532.9,811.0 1533.3,805.8 1533.7,800.1 1534.0,795.0 1534.4,811.2 1534.8,806.8 1535.2,810.6 1535.6,809.4 1536.0,794.6 1536.4,801.8 1536.8,805.3 1537.1,809.5 1537.5,820.7 1537.9,802.0 1538.3,802.4 1538.7,798.8 1539.1,805.8 1539.5,812.3 1539.9,820.5 1540.2,814.4 1540.6,825.2 1541.0,805.2 1541.4,803.9 1541.8,797.0 1542.2,821.5 1542.6,818.4 1543.0,803.0 1543.3,805.2 1543.7,823.1 1544.1,813.2 1544.5,807.5 1544.9,810.8 1545.3,805.1 1545.7,807.7 1546.1,813.6 1546.4,805.1 1546.8,808.2 1547.2,799.2 1547.6,819.2 1548.0,810.0 1548.4,813.4 1548.8,810.1 1549.2,814.0 1549.5,803.4 1549.9,824.7 1550.3,799.5 1550.7,804.3 1551.1,804.4 1551.5,807.9 1551.9,801.3 1552.3,805.4 1552.6,822.3 1553.0,813.7 1553.4,810.6 1553.8,811.4 1554.2,812.1 1554.6,804.1 1555.0,817.3 1555.4,814.5 1555.7,816.4 1556.1,803.9 1556.5,805.5 1556.9,815.8 1557.3,806.0 1557.7,813.2 1558.1,798.3 1558.5,826.1 1558.8,809.2 1559.2,800.4 1559.6,811.9 1560.0,817.6 1560.4,815.8 1560.8,805.0 1561.2,813.4 1561.6,801.2 1561.9,808.9 1562.3,813.5 1562.7,812.7 1563.1,805.7 1563.5,802.0 1563.9,815.5 1564.3,818.4 1564.7,801.6 1565.0,805.8 1565.4,795.6 1565.8,813.4 1566.2,804.3 1566.6,812.5 1567.0,802.4 1567.4,820.8 1567.8,805.0 1568.1,819.5 1568.5,813.4 1568.9,807.1 1569.3,813.0 1569.7,810.2 1570.1,805.7 1570.5,808.2 1570.9,798.4 1571.2,804.0 1571.6,816.3 1572.0,810.3 1572.4,814.0 1572.8,812.9 1573.2,796.3 1573.6,815.8 1574.0,808.0 1574.3,798.5 1574.7,789.2 1575.1,824.5 1575.5,808.0 1575.9,807.7 1576.3,812.8 1576.7,796.5 1577.1,795.2 1577.4,827.5 1577.8,810.9 1578.2,811.3 1578.6,818.0 1579.0,815.4 1579.4,810.0 1579.8,810.3 1580.2,811.7 1580.5,811.4 1580.9,796.6 1581.3,828.0 1581.7,813.8 1582.1,819.1 1582.5,823.8 1582.9,813.9 1583.3,806.8 1583.6,810.4 1584.0,793.0 1584.4,820.6 1584.8,814.3 1585.2,803.9 1585.6,813.5 1586.0,809.5 1586.4,822.3 1586.7,796.3 1587.1,811.7 1587.5,806.5 1587.9,817.8 1588.3,815.0 1588.7,817.4 1589.1,798.3 1589.5,824.2 1589.8,807.7 1590.2,809.0 1590.6,801.3 1591.0,808.9 1591.4,810.5 1591.8,806.8 1592.2,824.2 1592.6,803.1 1592.9,788.7 1593.3,812.4 1593.7,809.2 1594.1,806.8 1594.5,823.9 1594.9,814.7 1595.3,816.6 1595.7,799.7 1596.0,810.0 1596.4,796.7 1596.8,803.6 1597.2,804.7 1597.6,811.8 1598.0,816.2 1598.4,805.0 1598.8,813.2 1599.1,817.0 1599.5,813.1 1599.9,813.6 1600.3,813.2 1600.7,811.8 1601.1,803.3 1601.5,812.2 1601.9,817.4 1602.2,805.8 1602.6,814.4 1603.0,805.0 1603.4,820.8 1603.8,798.3 1604.2,812.5 1604.6,799.4 1605.0,810.2 1605.3,819.8 1605.7,806.7 1606.1,813.7 1606.5,794.4 1606.9,815.8 1607.3,819.6 1607.7,804.1 1608.1,821.1 1608.4,806.1 1608.8,820.0 1609.2,792.0 1609.6,806.4 1610.0,826.7 1610.4,824.8 1610.8,809.3 1611.2,816.8 1611.5,814.0 1611.9,818.4 1612.3,805.7 1612.7,811.7 1613.1,815.8 1613.5,810.1 1613.9,811.3 1614.3,816.2 1614.6,812.3 1615.0,820.8 1615.4,819.0 1615.8,829.0 1616.2,811.8 1616.6,807.8 1617.0,807.7 1617.4,801.6 1617.7,818.0 1618.1,811.9 1618.5,803.4 1618.9,810.4 1619.3,818.3 1619.7,809.5 1620.1,815.3 1620.5,803.8 1620.8,818.0 1621.2,813.9 1621.6,808.3 1622.0,799.1 1622.4,803.7 1622.8,805.7 1623.2,813.7 1623.6,816.7 1623.9,818.0 1624.3,804.5 1624.7,820.5 1625.1,809.3 1625.5,800.2 1625.9,785.6 1626.3,817.4 1626.7,823.9 1627.0,813.4 1627.4,808.5 1627.8,819.9 1628.2,820.7 1628.6,815.5 1629.0,814.0 1629.4,815.4 1629.8,807.2 1630.1,807.3 1630.5,821.0 1630.9,823.4 1631.3,811.7 1631.7,796.2 1632.1,816.4 1632.5,813.2 1632.9,820.3 1633.2,817.2 1633.6,823.8 1634.0,810.5 1634.4,817.8 1634.8,808.9 1635.2,805.6 1635.6,823.7 1636.0,805.6 1636.3,814.1 1636.7,819.6 1637.1,812.9 1637.5,814.8 1637.9,810.3 1638.3,822.8 1638.7,798.5 1639.1,804.8 1639.4,804.3 1639.8,821.9 1640.2,787.6 1640.6,803.8 1641.0,813.5 1641.4,812.6 1641.8,801.9 1642.2,804.8 1642.5,827.2 1642.9,819.3 1643.3,823.3 1643.7,804.1 1644.1,823.2 1644.5,814.8 1644.9,802.6 1645.3,815.1 1645.6,810.6 1646.0,812.6 1646.4,824.0 1646.8,821.5 1647.2,821.7 1647.6,813.2 1648.0,800.3 1648.4,794.9 1648.7,814.5 1649.1,802.4 1649.5,821.5 1649.9,808.1 1650.3,823.6 1650.7,825.2 1651.1,811.8 1651.5,813.8 1651.8,813.7 1652.2,816.3 1652.6,802.0 1653.0,814.3 1653.4,805.5 1653.8,830.5 1654.2,810.1 1654.6,807.2 1654.9,815.6 1655.3,834.9 1655.7,817.3 1656.1,812.9 1656.5,816.8 1656.9,797.9 1657.3,816.9 1657.7,807.1 1658.0,806.9 1658.4,811.6 1658.8,821.1 1659.2,809.1 1659.6,805.9 1660.0,811.7 1660.4,812.9 1660.8,811.2 1661.1,821.3 1661.5,814.5 1661.9,811.6 1662.3,807.4 1662.7,815.1 1663.1,813.3 1663.5,820.9 1663.9,808.4 1664.2,807.7 1664.6,814.0 1665.0,805.8 1665.4,815.4 1665.8,808.6 1666.2,815.4 1666.6,804.4 1667.0,825.4 1667.3,813.6 1667.7,815.9 1668.1,812.4 1668.5,824.4 1668.9,820.7 1669.3,815.5 1669.7,815.2 1670.1,816.5 1670.4,812.8 1670.8,806.0 1671.2,824.8 1671.6,802.6 1672.0,815.6 1672.4,806.9 1672.8,819.5 1673.2,811.1 1673.5,826.5 1673.9,799.8 1674.3,817.8 1674.7,818.0 1675.1,804.6 1675.5,807.8 1675.9,810.5 1676.3,803.8 1676.6,809.9 1677.0,813.3 1677.4,827.4 1677.8,830.4 1678.2,808.2 1678.6,820.0 1679.0,819.9 1679.4,809.1 1679.7,814.7 1680.1,812.9 1680.5,805.8 1680.9,825.0 1681.3,810.5 1681.7,809.2 1682.1,814.6 1682.5,811.9 1682.8,821.8 1683.2,812.0 1683.6,813.6 1684.0,807.3 1684.4,818.4 1684.8,815.8 1685.2,810.9 1685.6,808.2 1685.9,813.5 1686.3,808.5 1686.7,811.8 1687.1,794.9 1687.5,813.8 1687.9,804.7 1688.3,813.5 1688.7,824.6 1689.0,809.8 1689.4,804.1 1689.8,807.7 1690.2,807.5 1690.6,819.5 1691.0,811.1 1691.4,822.8 1691.8,800.0 1692.1,801.7 1692.5,821.3 1692.9,816.4 1693.3,822.8 1693.7,819.1 1694.1,815.0 1694.5,822.4 1694.9,817.0 1695.2,808.7 1695.6,815.7 1696.0,808.1 1696.4,816.6 1696.8,812.8 1697.2,823.2 1697.6,806.6 1698.0,822.2 1698.3,816.4 1698.7,823.4 1699.1,809.9 1699.5,821.6 1699.9,820.8 1700.3,799.1 1700.7,810.8 1701.1,830.7 1701.4,806.2 1701.8,812.4 1702.2,809.1 1702.6,810.6 1703.0,804.9 1703.4,806.0 1703.8,806.3 1704.2,813.8 1704.5,814.8 1704.9,807.9 1705.3,827.8 1705.7,812.5 1706.1,827.3 1706.5,805.2 1706.9,815.9 1707.3,807.0 1707.6,836.2 1708.0,807.7 1708.4,814.2 1708.8,801.0 1709.2,802.9 1709.6,805.4 1710.0,821.1 1710.4,794.2 1710.7,810.1 1711.1,813.4 1711.5,828.5 1711.9,815.0 1712.3,813.3 1712.7,812.2 1713.1,811.2 1713.5,824.7 1713.8,819.5 1714.2,817.7 1714.6,821.8 1715.0,819.8 1715.4,820.3 1715.8,819.3 1716.2,807.3 1716.6,814.9 1716.9,818.1 1717.3,802.4 1717.7,816.4 1718.1,810.0 1718.5,813.9 1718.9,791.1 1719.3,809.2 1719.7,807.5 1720.0,816.8 1720.4,807.7 1720.8,805.5 1721.2,822.9 1721.6,810.8 1722.0,801.6 1722.4,800.3 1722.8,812.2 1723.1,813.3 1723.5,819.2 1723.9,806.1 1724.3,810.0 1724.7,822.0 1725.1,806.4 1725.5,823.7 1725.9,819.0 1726.2,814.7 1726.6,823.1 1727.0,805.2 1727.4,817.5 1727.8,823.4 1728.2,812.1 1728.6,814.1 1729.0,822.3 1729.3,818.2 1729.7,807.3 1730.1,807.8 1730.5,826.1 1730.9,806.7 1731.3,806.7 1731.7,805.4 1732.1,817.7 1732.4,819.9 1732.8,814.8 1733.2,819.0 1733.6,816.0 1734.0,818.6 1734.4,816.2 1734.8,817.8 1735.2,813.8 1735.5,812.9 1735.9,816.1 1736.3,818.3 1736.7,817.5 1737.1,807.1 1737.5,810.4 1737.9,820.8 1738.3,809.4 1738.6,815.4 1739.0,809.7 1739.4,788.4 1739.8,809.4 1740.2,814.1 1740.6,821.9 1741.0,809.9 1741.4,836.9 1741.7,804.1 1742.1,834.1 1742.5,821.4 1742.9,820.5 1743.3,826.8 1743.7,813.5 1744.1,809.5 1744.5,806.3 1744.8,819.5 1745.2,814.4 1745.6,800.8 1746.0,812.7 1746.4,835.9 1746.8,817.1 1747.2,820.5 1747.6,812.2 1747.9,818.0 1748.3,817.3 1748.7,815.7 1749.1,820.7 1749.5,825.4 1749.9,816.9 1750.3,810.1 1750.7,815.9 1751.0,815.1 1751.4,819.6 1751.8,825.2 1752.2,811.5 1752.6,823.3 1753.0,805.9 1753.4,817.2 1753.8,804.6 1754.1,816.3 1754.5,822.2 1754.9,813.9 1755.3,820.2 1755.7,805.2 1756.1,830.8 1756.5,818.6 1756.9,812.3 1757.2,821.1 1757.6,814.5 1758.0,817.6 1758.4,804.5 1758.8,805.8 1759.2,831.1 1759.6,827.1 1760.0,821.5 1760.3,815.9 1760.7,816.6 1761.1,819.3 1761.5,810.8 1761.9,808.8 1762.3,814.7 1762.7,817.7 1763.1,815.1 1763.4,821.7 1763.8,809.2 1764.2,809.1 1764.6,804.0 1765.0,811.5 1765.4,815.8 1765.8,809.2 1766.2,815.5 1766.5,816.8 1766.9,810.0 1767.3,822.9 1767.7,789.0 1768.1,824.5 1768.5,811.7 1768.9,817.2 1769.3,817.9 1769.6,819.5 1770.0,810.6 1770.4,813.5 1770.8,817.2 1771.2,819.0 1771.6,802.0 1772.0,804.1 1772.4,824.1 1772.7,806.4 1773.1,811.5 1773.5,813.2 1773.9,812.3 1774.3,819.0 1774.7,796.8 1775.1,800.0 1775.5,815.2 1775.8,815.5 1776.2,814.4 1776.6,820.6 1777.0,811.5 1777.4,815.9 1777.8,823.8 1778.2,819.4 1778.6,820.6 1778.9,820.3 1779.3,818.3 1779.7,811.0 1780.1,819.0 1780.5,828.1 1780.9,804.9 1781.3,820.3 1781.7,804.9 1782.0,814.0 1782.4,811.7 1782.8,822.3 1783.2,815.2 1783.6,823.1 1784.0,816.4 1784.4,812.4 1784.8,818.9 1785.1,809.7 1785.5,826.7 1785.9,824.1 1786.3,812.7 1786.7,812.0 1787.1,807.9 1787.5,803.7 1787.9,812.6 1788.2,820.1 1788.6,814.0 1789.0,814.8 1789.4,816.6 1789.8,815.0 1790.2,820.1 1790.6,817.1 1791.0,825.3 1791.3,812.1 1791.7,807.2 1792.1,819.5 1792.5,818.6 1792.9,816.3 1793.3,822.4 1793.7,816.1 1794.1,816.5 1794.4,818.3 1794.8,809.5 1795.2,815.4 1795.6,819.4 1796.0,824.0 1796.4,807.1 1796.8,816.8 1797.2,822.9 1797.5,816.0 1797.9,816.3 1798.3,819.4 1798.7,807.0 1799.1,823.3 1799.5,814.2 1799.9,810.4 1800.3,838.1 1800.6,826.1 1801.0,810.5 1801.4,832.1 1801.8,808.2 1802.2,816.6 1802.6,829.4 1803.0,816.0 1803.4,817.7 1803.7,804.9 1804.1,815.2 1804.5,822.5 1804.9,808.4 1805.3,803.3 1805.7,807.2 1806.1,825.9 1806.5,812.2 1806.8,825.8 1807.2,821.4 1807.6,806.7 1808.0,827.7 1808.4,798.0 1808.8,828.7 1809.2,826.8 1809.6,811.3 1809.9,818.6 1810.3,815.1 1810.7,824.1 1811.1,811.5 1811.5,815.4 1811.9,817.7 1812.3,829.5 1812.7,828.5 1813.0,819.4 1813.4,833.7 1813.8,822.1 1814.2,812.4 1814.6,811.9 1815.0,820.3 1815.4,836.8 1815.8,813.0 1816.1,817.1 1816.5,814.7 1816.9,807.4 1817.3,809.3 1817.7,829.9 1818.1,818.9 1818.5,820.9 1818.9,805.2 1819.2,809.0 1819.6,816.3 1820.0,812.9 1820.4,810.5 1820.8,822.6 1821.2,816.6 1821.6,817.9 1822.0,820.4 1822.3,819.7 1822.7,815.5 1823.1,827.1 1823.5,826.0 1823.9,811.3 1824.3,805.7 1824.7,803.0 1825.1,830.7 1825.4,814.5 1825.8,823.7 1826.2,821.5 1826.6,819.1 1827.0,816.3 1827.4,813.1 1827.8,807.7 1828.2,822.0 1828.5,809.2 1828.9,816.5 1829.3,829.8 1829.7,825.0 1830.1,823.6 1830.5,809.8 1830.9,804.1 1831.3,825.9 1831.6,813.7 1832.0,819.8 1832.4,813.2 1832.8,819.4 1833.2,826.2 1833.6,832.1 1834.0,821.7 1834.4,806.6 1834.7,823.4 1835.1,813.5 1835.5,824.1 1835.9,822.8 1836.3,816.0 1836.7,822.1 1837.1,802.8 1837.5,807.8 1837.8,826.4 1838.2,813.9 1838.6,806.3 1839.0,827.0 1839.4,820.9 1839.8,806.6 1840.2,814.9 1840.6,813.0 1840.9,818.5 1841.3,816.5 1841.7,825.8 1842.1,818.4 1842.5,821.2 1842.9,825.8 1843.3,813.6 1843.7,809.6 1844.0,818.1 1844.4,812.7 1844.8,830.2 1845.2,825.6 1845.6,819.4 1846.0,824.1 1846.4,830.6 1846.8,833.9 1847.1,821.6 1847.5,808.5 1847.9,819.0 1848.3,820.9 1848.7,814.7 1849.1,817.5 1849.5,820.3 1849.9,813.7 1850.2,808.5 1850.6,821.6 1851.0,808.3 1851.4,819.6 1851.8,811.6 1852.2,818.5 1852.6,821.1 1853.0,815.9 1853.3,826.7 1853.7,830.4 1854.1,824.3 1854.5,820.1 1854.9,802.1 1855.3,816.5 1855.7,815.1 1856.1,823.7 1856.4,814.3 1856.8,814.1 1857.2,821.2 1857.6,820.1 1858.0,832.4 1858.4,816.6 1858.8,804.0 1859.2,809.6 1859.5,810.4 1859.9,822.7 1860.3,826.5 1860.7,811.6 1861.1,816.1 1861.5,819.8 1861.9,820.7 1862.3,811.2 1862.6,813.6 1863.0,821.9 1863.4,819.2 1863.8,831.0 1864.2,827.3 1864.6,814.1 1865.0,821.9 1865.4,825.0 1865.7,816.5 1866.1,808.8 1866.5,824.8 1866.9,805.7 1867.3,801.9 1867.7,799.9 1868.1,810.7 1868.5,816.4 1868.8,829.3 1869.2,812.7 1869.6,814.1 1870.0,820.0 1870.4,824.2 1870.8,839.5 1871.2,831.0 1871.6,821.5 1871.9,822.0 1872.3,816.4 1872.7,821.0 1873.1,830.5 1873.5,810.0 1873.9,824.0 1874.3,827.5 1874.7,812.8 1875.0,814.4 1875.4,822.4 1875.8,828.6 1876.2,830.0 1876.6,814.4 1877.0,813.8 1877.4,811.7 1877.8,812.2 1878.1,828.5 1878.5,817.8 1878.9,832.9 1879.3,818.7 1879.7,815.7 1880.1,811.6 1880.5,818.5 1880.9,818.8 1881.2,822.9 1881.6,800.7 1882.0,820.3 1882.4,802.4 1882.8,809.1 1883.2,820.5 1883.6,829.9 1884.0,811.6 1884.3,823.2 1884.7,818.8 1885.1,816.2 1885.5,822.5 1885.9,815.3 1886.3,809.5 1886.7,812.5 1887.1,816.7 1887.4,820.1 1887.8,813.3 1888.2,822.8 1888.6,823.6 1889.0,809.2 1889.4,821.5 1889.8,829.0 1890.2,812.0 1890.5,791.4 1890.9,807.5 1891.3,819.5 1891.7,823.1 1892.1,834.4 1892.5,826.3 1892.9,820.1 1893.3,816.8 1893.6,826.9 1894.0,820.1 1894.4,805.1 1894.8,821.9 1895.2,818.1 1895.6,818.9 1896.0,824.8 1896.4,816.2 1896.7,814.4 1897.1,833.7 1897.5,823.8 1897.9,812.5 1898.3,815.3 1898.7,832.8 1899.1,816.9 1899.5,808.1 1899.8,812.0 1900.2,812.8 1900.6,812.6 1901.0,818.0 1901.4,824.5 1901.8,818.4 1902.2,801.3 1902.6,818.7 1902.9,825.4 1903.3,814.6 1903.7,833.8 1904.1,801.5 1904.5,813.8 1904.9,829.8 1905.3,821.2 1905.7,825.3 1906.0,817.6 1906.4,818.2 1906.8,830.1 1907.2,811.0 1907.6,821.1 1908.0,826.6 1908.4,811.4 1908.8,812.8 1909.1,797.9 1909.5,823.3 1909.9,810.2 1910.3,821.4 1910.7,816.9 1911.1,822.6 1911.5,827.5 1911.9,829.7 1912.2,816.0 1912.6,826.7 1913.0,818.2 1913.4,811.0 1913.8,821.6 1914.2,805.7 1914.6,816.7 1915.0,833.2 1915.3,818.6 1915.7,813.0 1916.1,810.1 1916.5,823.7 1916.9,819.1 1917.3,801.6 1917.7,817.2 1918.1,825.2 1918.4,829.7 1918.8,821.6 1919.2,815.5 1919.6,826.6 1920.0,808.1 1920.4,823.9 1920.8,832.6 1921.2,813.4 1921.5,816.3 1921.9,820.0 1922.3,808.7 1922.7,822.8 1923.1,817.9 1923.5,822.3 1923.9,806.0 1924.3,818.2 1924.6,818.1 1925.0,813.8 1925.4,818.9 1925.8,814.9 1926.2,840.4 1926.6,813.6 1927.0,817.3 1927.4,822.3 1927.7,814.0 1928.1,814.7 1928.5,826.2 1928.9,820.5 1929.3,830.8 1929.7,817.5 1930.1,812.0 1930.5,800.2 1930.8,816.1 1931.2,810.5 1931.6,807.3 1932.0,812.8 1932.4,832.2 1932.8,821.8 1933.2,815.8 1933.6,816.1 1933.9,817.4 1934.3,825.0 1934.7,831.4 1935.1,815.5 1935.5,809.7 1935.9,821.9 1936.3,814.2 1936.7,822.3 1937.0,819.4 1937.4,822.7 1937.8,812.2 1938.2,825.2 1938.6,835.3 1939.0,819.5 1939.4,818.5 1939.8,827.5 1940.1,815.5 1940.5,819.8 1940.9,821.9 1941.3,819.8 1941.7,820.6 1942.1,813.9 1942.5,822.0 1942.9,817.7 1943.2,814.0 1943.6,832.6 1944.0,811.2 1944.4,818.4 1944.8,825.9 1945.2,817.5 1945.6,810.8 1946.0,823.6 1946.3,822.6 1946.7,808.4 1947.1,806.9 1947.5,803.8 1947.9,818.2 1948.3,825.6 1948.7,825.7 1949.1,821.0 1949.4,826.0 1949.8,815.3 1950.2,809.2 1950.6,826.5 1951.0,807.6 1951.4,825.3 1951.8,823.8 1952.2,828.8 1952.5,813.2 1952.9,819.2 1953.3,818.4 1953.7,840.1 1954.1,823.1 1954.5,816.4 1954.9,839.1 1955.3,819.1 1955.6,816.3 1956.0,810.5 1956.4,820.9 1956.8,817.4 1957.2,809.1 1957.6,799.5 1958.0,826.3 1958.4,803.0 1958.7,819.5 1959.1,817.3 1959.5,821.3 1959.9,817.5 1960.3,832.8 1960.7,820.5 1961.1,827.3 1961.5,819.8 1961.8,816.4 1962.2,817.9 1962.6,822.4 1963.0,807.9 1963.4,815.8 1963.8,813.8 1964.2,808.3 1964.6,818.7 1964.9,817.5 1965.3,820.8 1965.7,820.3 1966.1,808.9 1966.5,823.0 1966.9,819.9 1967.3,819.3 1967.7,820.7 1968.0,811.1 1968.4,828.0 1968.8,836.1 1969.2,809.8 1969.6,821.6 1970.0,812.9 1970.4,826.4 1970.8,822.8 1971.1,813.1 1971.5,807.7 1971.9,819.5 1972.3,821.9 1972.7,839.9" fill="none" stroke="#000000" stroke-width="3.6" stroke-linejoin="bevel"/>
</g>
<rect x="325.8" y="42.7" width="1646.9" height="1614.1" fill="none" stroke="#000" stroke-width="9.5" stroke-linejoin="round"/>
<line x1="422.7" y1="1656.8" x2="422.7" y2="1639.8" stroke="#000" stroke-width="8.5"/>
<line x1="616.4" y1="1656.8" x2="616.4" y2="1621.8" stroke="#000" stroke-width="8.5"/>
<line x1="810.2" y1="1656.8" x2="810.2" y2="1639.8" stroke="#000" stroke-width="8.5"/>
<line x1="1003.9" y1="1656.8" x2="1003.9" y2="1621.8" stroke="#000" stroke-width="8.5"/>
<line x1="1197.7" y1="1656.8" x2="1197.7" y2="1639.8" stroke="#000" stroke-width="8.5"/>
<line x1="1391.4" y1="1656.8" x2="1391.4" y2="1621.8" stroke="#000" stroke-width="8.5"/>
<line x1="1585.2" y1="1656.8" x2="1585.2" y2="1639.8" stroke="#000" stroke-width="8.5"/>
<line x1="1778.9" y1="1656.8" x2="1778.9" y2="1621.8" stroke="#000" stroke-width="8.5"/>
<line x1="1972.7" y1="1656.8" x2="1972.7" y2="1639.8" stroke="#000" stroke-width="8.5"/>
<text x="558.84" y="1771.80" font-family="Liberation Sans, Arial, sans-serif" font-size="103.00" font-weight="normal" textLength="109.18" lengthAdjust="spacingAndGlyphs">20</text>
<text x="946.34" y="1771.80" font-family="Liberation Sans, Arial, sans-serif" font-size="103.00" font-weight="normal" textLength="109.18" lengthAdjust="spacingAndGlyphs">40</text>
<text x="1333.85" y="1771.80" font-family="Liberation Sans, Arial, sans-serif" font-size="103.00" font-weight="normal" textLength="109.18" lengthAdjust="spacingAndGlyphs">60</text>
<text x="1721.36" y="1771.80" font-family="Liberation Sans, Arial, sans-serif" font-size="103.00" font-weight="normal" textLength="109.18" lengthAdjust="spacingAndGlyphs">80</text>
<polyline points="686.8,307.5 686.8,424.5 581.3,424.5 581.3,536" fill="none" stroke="#222" stroke-width="3.2"/>
<polyline points="557.5,498 581.3,537.5 604.4,498" fill="none" stroke="#222" stroke-width="3.2" stroke-linejoin="miter"/>
<text x="51.93" y="169.50" font-family="Liberation Serif, 'Times New Roman', serif" font-size="156.00" font-weight="normal" textLength="178.65" lengthAdjust="spacingAndGlyphs" fill="#000" >(a)</text>
<text x="590.09" y="274.70" font-family="Liberation Serif, 'Times New Roman', serif" font-size="92.60" font-weight="normal" textLength="223.05" lengthAdjust="spacingAndGlyphs" fill="#000" >PDPA</text>
<text x="352.32" y="438.40" font-family="Liberation Serif, 'Times New Roman', serif" font-size="90.50" font-weight="normal" textLength="196.26" lengthAdjust="spacingAndGlyphs" fill="#000" >(001)</text>
<text x="680.62" y="601.80" font-family="Liberation Serif, 'Times New Roman', serif" font-size="90.50" font-weight="normal" textLength="196.37" lengthAdjust="spacingAndGlyphs" fill="#000" >(002)</text>
<text x="967.32" y="636.10" font-family="Liberation Serif, 'Times New Roman', serif" font-size="90.50" font-weight="normal" textLength="196.26" lengthAdjust="spacingAndGlyphs" fill="#000" >(101)</text>
<text x="370.60" y="781.00" font-family="Liberation Serif, 'Times New Roman', serif" font-size="90.00" font-weight="normal" textLength="197.20" lengthAdjust="spacingAndGlyphs" fill="#000" >(001)</text>
<text x="654.70" y="1209.80" font-family="Liberation Serif, 'Times New Roman', serif" font-size="90.00" font-weight="normal" textLength="197.31" lengthAdjust="spacingAndGlyphs" fill="#000" >(002)</text>
<text x="954.80" y="1308.10" font-family="Liberation Serif, 'Times New Roman', serif" font-size="90.00" font-weight="normal" textLength="197.20" lengthAdjust="spacingAndGlyphs" fill="#000" >(101)</text>
<text x="1600.75" y="757.00" font-family="Liberation Serif, 'Times New Roman', serif" font-size="90.00" font-weight="normal" textLength="338.63" lengthAdjust="spacingAndGlyphs" fill="#000" >GO/PDPA</text>
<text x="1834.76" y="1380.80" font-family="Liberation Serif, 'Times New Roman', serif" font-size="85.00" font-weight="normal" textLength="117.58" lengthAdjust="spacingAndGlyphs" fill="#000" >GO</text>
<text transform="translate(172.70,1338.40) rotate(-90)" x="0" y="0" font-family="Liberation Serif, 'Times New Roman', serif" font-size="134.70" font-weight="bold" textLength="815.83" lengthAdjust="spacingAndGlyphs" fill="#000" >Intensity (a.u.)</text>
<text x="676.73" y="1968.20" font-family="Liberation Serif, 'Times New Roman', serif" font-size="129.70" font-weight="bold" textLength="329.35" lengthAdjust="spacingAndGlyphs" xml:space="preserve">Angle </text>
<text x="1006.08" y="1968.20" font-family="Liberation Serif, 'Times New Roman', serif" font-size="129.70" font-weight="normal" textLength="39.88" lengthAdjust="spacingAndGlyphs" xml:space="preserve">(</text>
<text x="1045.96" y="1968.20" font-family="Liberation Serif, 'Times New Roman', serif" font-size="129.70" font-weight="bold" textLength="475.55" lengthAdjust="spacingAndGlyphs" xml:space="preserve">degrees 2</text>
<text x="1521.51" y="1968.20" font-family="Liberation Serif, 'Times New Roman', serif" font-size="129.70" font-weight="normal" textLength="97.25" lengthAdjust="spacingAndGlyphs" xml:space="preserve">θ)</text>
<rect x="328.4" y="2206.0" width="1650.2" height="1506.8" fill="none" stroke="#000" stroke-width="9.5" stroke-linejoin="round"/>
<line x1="556.2" y1="3712.8" x2="556.2" y2="3695.8" stroke="#000" stroke-width="8.5"/>
<line x1="783.9" y1="3712.8" x2="783.9" y2="3679.8" stroke="#000" stroke-width="8.5"/>
<line x1="1011.7" y1="3712.8" x2="1011.7" y2="3695.8" stroke="#000" stroke-width="8.5"/>
<line x1="1239.5" y1="3712.8" x2="1239.5" y2="3679.8" stroke="#000" stroke-width="8.5"/>
<line x1="1467.2" y1="3712.8" x2="1467.2" y2="3695.8" stroke="#000" stroke-width="8.5"/>
<line x1="1695.0" y1="3712.8" x2="1695.0" y2="3679.8" stroke="#000" stroke-width="8.5"/>
<line x1="1922.8" y1="3712.8" x2="1922.8" y2="3695.8" stroke="#000" stroke-width="8.5"/>
<text x="222.01" y="3821.40" font-family="Liberation Sans, Arial, sans-serif" font-size="94.80" font-weight="normal" textLength="208.78" lengthAdjust="spacingAndGlyphs">4000</text>
<text x="677.54" y="3821.40" font-family="Liberation Sans, Arial, sans-serif" font-size="94.80" font-weight="normal" textLength="208.78" lengthAdjust="spacingAndGlyphs">3000</text>
<text x="1133.07" y="3821.40" font-family="Liberation Sans, Arial, sans-serif" font-size="94.80" font-weight="normal" textLength="208.78" lengthAdjust="spacingAndGlyphs">2000</text>
<text x="1588.60" y="3821.40" font-family="Liberation Sans, Arial, sans-serif" font-size="94.80" font-weight="normal" textLength="208.78" lengthAdjust="spacingAndGlyphs">1000</text>
<text x="42.99" y="2262.00" font-family="Liberation Serif, 'Times New Roman', serif" font-size="157.00" font-weight="normal" textLength="186.02" lengthAdjust="spacingAndGlyphs" fill="#000" >(b)</text>
<text x="355.83" y="2352.00" font-family="Liberation Serif, 'Times New Roman', serif" font-size="85.40" font-weight="normal" textLength="330.74" lengthAdjust="spacingAndGlyphs" fill="#000" >GO/PDPA</text>
<text x="351.93" y="2860.30" font-family="Liberation Serif, 'Times New Roman', serif" font-size="81.70" font-weight="normal" textLength="115.03" lengthAdjust="spacingAndGlyphs" fill="#000" >GO</text>
<text x="350.57" y="3318.60" font-family="Liberation Serif, 'Times New Roman', serif" font-size="84.10" font-weight="normal" textLength="198.00" lengthAdjust="spacingAndGlyphs" fill="#000" >PDPA</text>
<text transform="translate(160.60,3353.91) rotate(-90)" x="0" y="0" font-family="Liberation Serif, 'Times New Roman', serif" font-size="126.10" font-weight="bold" textLength="769.09" lengthAdjust="spacingAndGlyphs" fill="#000" >Transmittance</text>
<text x="604.81" y="4027.40" font-family="Liberation Serif, 'Times New Roman', serif" font-size="126.90" font-weight="bold" textLength="1051.44" lengthAdjust="spacingAndGlyphs" fill="#000" >Wavenumber (1/cm)</text>
<g clip-path="url(#clipB)">
<polyline points="333.0,2387.5 333.5,2387.5 334.0,2387.5 334.5,2387.5 335.0,2387.5 335.5,2387.5 336.0,2387.5 336.5,2387.5 337.0,2387.5 337.5,2387.5 338.0,2387.5 338.5,2387.5 339.0,2387.5 339.5,2387.5 340.0,2387.5 340.5,2387.5 341.0,2387.5 341.5,2387.5 342.0,2387.5 342.5,2387.5 343.0,2387.5 343.5,2387.5 344.0,2387.5 344.5,2387.5 345.0,2387.5 345.5,2387.5 346.0,2387.5 346.5,2387.5 347.0,2387.5 347.5,2387.5 348.0,2387.5 348.5,2387.5 349.0,2387.5 349.5,2387.5 350.0,2387.5 350.5,2387.5 351.0,2387.5 351.5,2387.5 352.0,2387.5 352.5,2387.5 353.0,2387.5 353.5,2387.5 354.0,2387.5 354.5,2387.5 355.0,2387.5 355.5,2387.5 356.0,2387.5 356.5,2387.5 357.0,2387.5 357.5,2387.5 358.0,2387.5 358.5,2387.5 359.0,2387.5 359.5,2387.5 360.0,2387.5 360.5,2387.5 361.0,2387.5 361.5,2387.5 362.0,2387.5 362.5,2387.5 363.0,2387.5 363.5,2387.5 364.0,2387.5 364.5,2387.5 365.0,2387.6 365.5,2387.6 366.0,2387.7 366.5,2387.8 367.0,2388.0 367.5,2388.1 368.0,2388.3 368.5,2388.4 369.0,2388.5 369.5,2388.7 370.0,2388.8 370.5,2389.0 371.0,2389.1 371.5,2389.2 372.0,2389.2 372.5,2389.3 373.0,2389.3 373.5,2389.3 374.0,2389.2 374.5,2389.2 375.0,2389.1 375.5,2389.0 376.0,2388.8 376.5,2388.7 377.0,2388.5 377.5,2388.4 378.0,2388.3 378.5,2388.1 379.0,2388.0 379.5,2387.8 380.0,2387.7 380.5,2387.6 381.0,2387.6 381.5,2387.5 382.0,2387.5 382.5,2387.5 383.0,2387.5 383.5,2387.5 384.0,2387.5 384.5,2387.5 385.0,2387.5 385.5,2387.5 386.0,2387.5 386.5,2387.5 387.0,2387.5 387.5,2387.5 388.0,2387.5 388.5,2387.5 389.0,2387.5 389.5,2387.5 390.0,2387.6 390.5,2387.8 391.0,2388.0 391.5,2388.3 392.0,2388.5 392.5,2388.7 393.0,2389.0 393.5,2389.2 394.0,2389.4 394.5,2389.5 395.0,2389.5 395.5,2389.5 396.0,2389.4 396.5,2389.2 397.0,2389.0 397.5,2388.7 398.0,2388.5 398.5,2388.3 399.0,2388.0 399.5,2387.8 400.0,2387.6 400.5,2387.5 401.0,2387.5 401.5,2387.5 402.0,2387.5 402.5,2387.5 403.0,2387.5 403.5,2387.5 404.0,2387.5 404.5,2387.5 405.0,2387.5 405.5,2387.5 406.0,2387.5 406.5,2387.5 407.0,2387.5 407.5,2387.5 408.0,2387.5 408.5,2387.5 409.0,2387.5 409.5,2387.5 410.0,2387.5 410.5,2387.5 411.0,2387.5 411.5,2387.5 412.0,2387.5 412.5,2387.5 413.0,2387.5 413.5,2387.5 414.0,2387.5 414.5,2387.5 415.0,2387.5 415.5,2387.5 416.0,2387.5 416.5,2387.5 417.0,2387.5 417.5,2387.5 418.0,2387.5 418.5,2387.5 419.0,2387.5 419.5,2387.5 420.0,2387.5 420.5,2387.5 421.0,2387.5 421.5,2387.5 422.0,2387.5 422.5,2387.5 423.0,2387.5 423.5,2387.5 424.0,2387.5 424.5,2387.5 425.0,2387.5 425.5,2387.5 426.0,2387.5 426.5,2387.5 427.0,2387.5 427.5,2387.5 428.0,2387.5 428.5,2387.5 429.0,2387.5 429.5,2387.5 430.0,2387.5 430.5,2387.5 431.0,2387.5 431.5,2387.5 432.0,2387.5 432.5,2387.5 433.0,2387.5 433.5,2387.5 434.0,2387.5 434.5,2387.5 435.0,2387.5 435.5,2387.5 436.0,2387.5 436.5,2387.5 437.0,2387.6 437.5,2387.6 438.0,2387.7 438.5,2387.8 439.0,2388.0 439.5,2388.1 440.0,2388.3 440.5,2388.4 441.0,2388.5 441.5,2388.7 442.0,2388.8 442.5,2389.0 443.0,2389.1 443.5,2389.2 444.0,2389.2 444.5,2389.3 445.0,2389.3 445.5,2389.3 446.0,2389.2 446.5,2389.2 447.0,2389.1 447.5,2389.0 448.0,2388.8 448.5,2388.7 449.0,2388.5 449.5,2388.4 450.0,2388.3 450.5,2388.1 451.0,2388.0 451.5,2387.8 452.0,2387.7 452.5,2387.6 453.0,2387.6 453.5,2387.5 454.0,2387.5 454.5,2387.5 455.0,2387.5 455.5,2387.5 456.0,2387.5 456.5,2387.5 457.0,2387.5 457.5,2387.5 458.0,2387.5 458.5,2387.5 459.0,2387.5 459.5,2387.5 460.0,2387.5 460.5,2387.5 461.0,2387.5 461.5,2387.5 462.0,2387.5 462.5,2387.5 463.0,2387.5 463.5,2387.5 464.0,2387.5 464.5,2387.5 465.0,2387.5 465.5,2387.5 466.0,2387.5 466.5,2387.5 467.0,2387.5 467.5,2387.5 468.0,2387.5 468.5,2387.5 469.0,2387.5 469.5,2387.5 470.0,2387.5 470.5,2387.5 471.0,2387.5 471.5,2387.5 472.0,2387.5 472.5,2387.5 473.0,2387.5 473.5,2387.5 474.0,2387.5 474.5,2387.5 475.0,2387.5 475.5,2387.5 476.0,2387.5 476.5,2387.5 477.0,2387.5 477.5,2387.5 478.0,2387.5 478.5,2387.5 479.0,2387.5 479.5,2387.5 480.0,2387.5 480.5,2387.5 481.0,2387.5 481.5,2387.5 482.0,2387.5 482.5,2387.5 483.0,2387.5 483.5,2387.5 484.0,2387.5 484.5,2387.5 485.0,2387.6 485.5,2387.8 486.0,2388.0 486.5,2388.2 487.0,2388.5 487.5,2388.9 488.0,2389.4 488.5,2390.1 489.0,2390.9 489.5,2391.8 490.0,2392.9 490.5,2394.0 491.0,2395.2 491.5,2396.4 492.0,2397.6 492.5,2398.8 493.0,2400.0 493.5,2401.2 494.0,2402.5 494.5,2403.8 495.0,2405.2 495.5,2406.6 496.0,2408.1 496.5,2409.6 497.0,2411.2 497.5,2412.8 498.0,2414.5 498.5,2416.2 499.0,2417.9 499.5,2419.6 500.0,2421.4 500.5,2423.2 501.0,2425.0 501.5,2426.9 502.0,2428.7 502.5,2430.6 503.0,2432.5 503.5,2434.3 504.0,2436.2 504.5,2438.1 505.0,2440.0 505.5,2441.9 506.0,2443.9 506.5,2446.0 507.0,2448.1 507.5,2450.3 508.0,2452.5 508.5,2454.8 509.0,2457.1 509.5,2459.4 510.0,2461.8 510.5,2464.2 511.0,2466.6 511.5,2469.0 512.0,2471.4 512.5,2473.9 513.0,2476.3 513.5,2478.7 514.0,2481.1 514.5,2483.5 515.0,2485.8 515.5,2488.1 516.0,2490.4 516.5,2492.7 517.0,2494.9 517.5,2497.0 518.0,2499.1 518.5,2501.1 519.0,2503.1 519.5,2505.0 520.0,2506.8 520.5,2508.5 521.0,2510.1 521.5,2511.7 522.0,2513.3 522.5,2514.8 523.0,2516.2 523.5,2517.7 524.0,2519.1 524.5,2520.5 525.0,2521.8 525.5,2523.2 526.0,2524.5 526.5,2525.7 527.0,2527.0 527.5,2528.2 528.0,2529.5 528.5,2530.7 529.0,2531.9 529.5,2533.1 530.0,2534.3 530.5,2535.5 531.0,2536.7 531.5,2537.9 532.0,2539.1 532.5,2540.3 533.0,2541.6 533.5,2542.8 534.0,2544.1 534.5,2545.3 535.0,2546.6 535.5,2547.9 536.0,2549.3 536.5,2550.6 537.0,2552.0 537.5,2553.4 538.0,2554.8 538.5,2556.2 539.0,2557.6 539.5,2559.1 540.0,2560.5 540.5,2561.9 541.0,2563.4 541.5,2564.8 542.0,2566.3 542.5,2567.7 543.0,2569.2 543.5,2570.7 544.0,2572.1 544.5,2573.6 545.0,2575.1 545.5,2576.6 546.0,2578.1 546.5,2579.6 547.0,2581.1 547.5,2582.6 548.0,2584.1 548.5,2585.6 549.0,2587.1 549.5,2588.7 550.0,2590.2 550.5,2591.7 551.0,2593.2 551.5,2594.8 552.0,2596.3 552.5,2597.9 553.0,2599.4 553.5,2601.0 554.0,2602.5 554.5,2604.1 555.0,2605.7 555.5,2607.2 556.0,2608.8 556.5,2610.4 557.0,2612.0 557.5,2613.6 558.0,2615.2 558.5,2616.7 559.0,2618.3 559.5,2620.0 560.0,2621.7 560.5,2623.4 561.0,2625.1 561.5,2626.9 562.0,2628.7 562.5,2630.5 563.0,2632.3 563.5,2634.2 564.0,2636.0 564.5,2637.8 565.0,2639.7 565.5,2641.5 566.0,2643.3 566.5,2645.1 567.0,2646.8 567.5,2648.6 568.0,2650.3 568.5,2651.9 569.0,2653.5 569.5,2655.1 570.0,2656.6 570.5,2658.1 571.0,2659.4 571.5,2660.8 572.0,2662.0 572.5,2663.2 573.0,2664.5 573.5,2665.8 574.0,2667.1 574.5,2668.4 575.0,2669.7 575.5,2671.0 576.0,2672.2 576.5,2673.5 577.0,2674.7 577.5,2675.8 578.0,2676.9 578.5,2678.0 579.0,2678.9 579.5,2679.8 580.0,2680.6 580.5,2681.3 581.0,2681.9 581.5,2682.4 582.0,2682.7 582.5,2682.9 583.0,2683.0 583.5,2682.9 584.0,2682.8 584.5,2682.5 585.0,2682.2 585.5,2681.8 586.0,2681.3 586.5,2680.7 587.0,2680.1 587.5,2679.4 588.0,2678.7 588.5,2677.9 589.0,2677.1 589.5,2676.2 590.0,2675.3 590.5,2674.4 591.0,2673.5 591.5,2672.6 592.0,2671.6 592.5,2670.7 593.0,2669.8 593.5,2668.9 594.0,2668.0 594.5,2667.1 595.0,2666.2 595.5,2665.3 596.0,2664.4 596.5,2663.4 597.0,2662.5 597.5,2661.5 598.0,2660.5 598.5,2659.4 599.0,2658.3 599.5,2657.2 600.0,2656.1 600.5,2655.0 601.0,2653.8 601.5,2652.6 602.0,2651.3 602.5,2650.0 603.0,2648.7 603.5,2647.3 604.0,2646.0 604.5,2644.5 605.0,2643.0 605.5,2641.5 606.0,2640.0 606.5,2638.4 607.0,2636.7 607.5,2635.0 608.0,2633.3 608.5,2631.4 609.0,2629.3 609.5,2627.0 610.0,2624.6 610.5,2622.0 611.0,2619.3 611.5,2616.6 612.0,2613.7 612.5,2610.8 613.0,2607.8 613.5,2604.8 614.0,2601.8 614.5,2598.8 615.0,2595.8 615.5,2592.9 616.0,2590.0 616.5,2587.1 617.0,2584.2 617.5,2581.2 618.0,2578.2 618.5,2575.1 619.0,2572.0 619.5,2568.9 620.0,2565.8 620.5,2562.7 621.0,2559.5 621.5,2556.4 622.0,2553.3 622.5,2550.2 623.0,2547.1 623.5,2544.0 624.0,2541.0 624.5,2537.9 625.0,2534.8 625.5,2531.6 626.0,2528.4 626.5,2525.1 627.0,2521.8 627.5,2518.4 628.0,2515.1 628.5,2511.8 629.0,2508.5 629.5,2505.3 630.0,2502.1 630.5,2498.9 631.0,2495.9 631.5,2492.9 632.0,2490.1 632.5,2487.4 633.0,2484.8 633.5,2482.3 634.0,2480.0 634.5,2477.9 635.0,2476.0 635.5,2474.2 636.0,2472.4 636.5,2470.7 637.0,2469.0 637.5,2467.3 638.0,2465.6 638.5,2464.0 639.0,2462.5 639.5,2460.9 640.0,2459.4 640.5,2458.0 641.0,2456.5 641.5,2455.1 642.0,2453.8 642.5,2452.5 643.0,2451.2 643.5,2449.9 644.0,2448.7 644.5,2447.5 645.0,2446.3 645.5,2445.2 646.0,2444.1 646.5,2443.1 647.0,2442.0 647.5,2441.0 648.0,2440.1 648.5,2439.1 649.0,2438.3 649.5,2437.4 650.0,2436.6 650.5,2435.8 651.0,2435.0 651.5,2434.3 652.0,2433.6 652.5,2432.9 653.0,2432.2 653.5,2431.6 654.0,2430.9 654.5,2430.3 655.0,2429.8 655.5,2429.2 656.0,2428.6 656.5,2428.1 657.0,2427.6 657.5,2427.1 658.0,2426.6 658.5,2426.1 659.0,2425.6 659.5,2425.1 660.0,2424.7 660.5,2424.2 661.0,2423.7 661.5,2423.3 662.0,2422.8 662.5,2422.3 663.0,2421.9 663.5,2421.4 664.0,2421.0 664.5,2420.5 665.0,2420.0 665.5,2419.5 666.0,2419.0 666.5,2418.6 667.0,2418.1 667.5,2417.7 668.0,2417.2 668.5,2416.8 669.0,2416.3 669.5,2415.9 670.0,2415.5 670.5,2415.0 671.0,2414.6 671.5,2414.2 672.0,2413.8 672.5,2413.3 673.0,2412.9 673.5,2412.5 674.0,2412.1 674.5,2411.6 675.0,2411.2 675.5,2410.8 676.0,2410.3 676.5,2409.9 677.0,2409.4 677.5,2409.0 678.0,2408.6 678.5,2408.1 679.0,2407.6 679.5,2407.1 680.0,2406.6 680.5,2406.1 681.0,2405.6 681.5,2405.1 682.0,2404.6 682.5,2404.0 683.0,2403.5 683.5,2402.9 684.0,2402.4 684.5,2401.8 685.0,2401.3 685.5,2400.7 686.0,2400.2 686.5,2399.7 687.0,2399.2 687.5,2398.7 688.0,2398.2 688.5,2397.7 689.0,2397.3 689.5,2396.8 690.0,2396.4 690.5,2396.0 691.0,2395.7 691.5,2395.3 692.0,2395.0 692.5,2394.7 693.0,2394.4 693.5,2394.2 694.0,2393.9 694.5,2393.7 695.0,2393.4 695.5,2393.2 696.0,2393.0 696.5,2392.8 697.0,2392.6 697.5,2392.4 698.0,2392.2 698.5,2392.0 699.0,2391.8 699.5,2391.7 700.0,2391.5 700.5,2391.3 701.0,2391.1 701.5,2390.9 702.0,2390.7 702.5,2390.5 703.0,2390.3 703.5,2390.1 704.0,2389.9 704.5,2389.6 705.0,2389.4 705.5,2389.2 706.0,2388.9 706.5,2388.6 707.0,2388.2 707.5,2387.8 708.0,2387.4 708.5,2387.0 709.0,2386.7 709.5,2386.5 710.0,2386.4 710.5,2386.4 711.0,2386.3 711.5,2386.3 712.0,2386.3 712.5,2386.2 713.0,2386.2 713.5,2386.2 714.0,2386.2 714.5,2386.1 715.0,2386.1 715.5,2386.1 716.0,2386.0 716.5,2386.0 717.0,2386.0 717.5,2386.0 718.0,2386.0 718.5,2385.9 719.0,2385.9 719.5,2385.9 720.0,2385.9 720.5,2385.8 721.0,2385.8 721.5,2385.8 722.0,2385.8 722.5,2385.8 723.0,2385.8 723.5,2385.7 724.0,2385.7 724.5,2385.7 725.0,2385.7 725.5,2385.7 726.0,2385.7 726.5,2385.6 727.0,2385.6 727.5,2385.6 728.0,2385.6 728.5,2385.6 729.0,2385.6 729.5,2385.6 730.0,2385.6 730.5,2385.6 731.0,2385.5 731.5,2385.5 732.0,2385.5 732.5,2385.5 733.0,2385.5 733.5,2385.5 734.0,2385.5 734.5,2385.5 735.0,2385.5 735.5,2385.5 736.0,2385.5 736.5,2385.5 737.0,2385.5 737.5,2385.4 738.0,2385.4 738.5,2385.4 739.0,2385.4 739.5,2385.4 740.0,2385.4 740.5,2385.4 741.0,2385.4 741.5,2385.4 742.0,2385.4 742.5,2385.4 743.0,2385.4 743.5,2385.4 744.0,2385.4 744.5,2385.4 745.0,2385.4 745.5,2385.4 746.0,2385.4 746.5,2385.4 747.0,2385.4 747.5,2385.4 748.0,2385.4 748.5,2385.5 749.0,2385.8 749.5,2386.3 750.0,2387.0 750.5,2387.8 751.0,2388.7 751.5,2389.7 752.0,2390.8 752.5,2391.9 753.0,2393.0 753.5,2394.1 754.0,2395.2 754.5,2396.3 755.0,2397.3 755.5,2398.2 756.0,2399.0 756.5,2399.7 757.0,2400.2 757.5,2400.5 758.0,2400.6 758.5,2400.6 759.0,2400.6 759.5,2400.6 760.0,2400.6 760.5,2400.5 761.0,2400.5 761.5,2400.5 762.0,2400.4 762.5,2400.4 763.0,2400.4 763.5,2400.3 764.0,2400.3 764.5,2400.2 765.0,2400.1 765.5,2400.1 766.0,2400.0 766.5,2399.9 767.0,2399.8 767.5,2399.8 768.0,2399.7 768.5,2399.6 769.0,2399.5 769.5,2399.4 770.0,2399.3 770.5,2399.2 771.0,2399.1 771.5,2399.0 772.0,2398.9 772.5,2398.8 773.0,2398.7 773.5,2398.6 774.0,2398.5 774.5,2398.4 775.0,2398.2 775.5,2398.1 776.0,2398.0 776.5,2397.9 777.0,2397.7 777.5,2397.4 778.0,2397.1 778.5,2396.8 779.0,2396.4 779.5,2396.1 780.0,2395.6 780.5,2395.2 781.0,2394.7 781.5,2394.2 782.0,2393.7 782.5,2393.2 783.0,2392.6 783.5,2392.1 784.0,2391.5 784.5,2391.0 785.0,2390.4 785.5,2389.9 786.0,2389.4 786.5,2388.8 787.0,2388.3 787.5,2387.8 788.0,2387.4 788.5,2386.9 789.0,2386.5 789.5,2386.1 790.0,2385.7 790.5,2385.4 791.0,2385.1 791.5,2384.9 792.0,2384.7 792.5,2384.5 793.0,2384.4 793.5,2384.4 794.0,2384.4 794.5,2384.4 795.0,2384.5 795.5,2384.5 796.0,2384.6 796.5,2384.6 797.0,2384.7 797.5,2384.8 798.0,2384.9 798.5,2385.0 799.0,2385.1 799.5,2385.3 800.0,2385.4 800.5,2385.6 801.0,2385.8 801.5,2385.9 802.0,2386.1 802.5,2386.3 803.0,2386.5 803.5,2386.8 804.0,2387.0 804.5,2387.2 805.0,2387.5 805.5,2387.7 806.0,2388.0 806.5,2388.3 807.0,2388.8 807.5,2389.4 808.0,2390.1 808.5,2390.9 809.0,2391.7 809.5,2392.7 810.0,2393.6 810.5,2394.7 811.0,2395.8 811.5,2396.9 812.0,2398.0 812.5,2399.3 813.0,2401.0 813.5,2403.0 814.0,2405.3 814.5,2407.6 815.0,2410.0 815.5,2412.5 816.0,2414.8 816.5,2417.0 817.0,2419.0 817.5,2420.6 818.0,2421.9 818.5,2422.7 819.0,2423.0 819.5,2422.6 820.0,2421.6 820.5,2420.0 821.0,2418.0 821.5,2415.6 822.0,2413.1 822.5,2410.5 823.0,2407.9 823.5,2405.4 824.0,2403.2 824.5,2401.3 825.0,2400.0 825.5,2399.0 826.0,2398.0 826.5,2397.0 827.0,2396.1 827.5,2395.2 828.0,2394.4 828.5,2393.7 829.0,2393.0 829.5,2392.4 830.0,2391.8 830.5,2391.3 831.0,2390.9 831.5,2390.5 832.0,2390.2 832.5,2389.8 833.0,2389.5 833.5,2389.2 834.0,2388.9 834.5,2388.6 835.0,2388.4 835.5,2388.1 836.0,2387.9 836.5,2387.6 837.0,2387.4 837.5,2387.2 838.0,2387.0 838.5,2386.9 839.0,2386.7 839.5,2386.6 840.0,2386.5 840.5,2386.5 841.0,2386.4 841.5,2386.4 842.0,2386.5 842.5,2386.8 843.0,2387.3 843.5,2387.9 844.0,2388.7 844.5,2389.5 845.0,2390.4 845.5,2391.2 846.0,2392.0 846.5,2392.9 847.0,2393.9 847.5,2395.1 848.0,2396.4 848.5,2397.7 849.0,2399.0 849.5,2400.1 850.0,2401.2 850.5,2402.0 851.0,2402.7 851.5,2403.0 852.0,2402.9 852.5,2402.2 853.0,2401.1 853.5,2399.7 854.0,2398.1 854.5,2396.4 855.0,2394.7 855.5,2393.2 856.0,2392.0 856.5,2390.9 857.0,2389.8 857.5,2388.7 858.0,2387.7 858.5,2386.9 859.0,2386.5 859.5,2386.4 860.0,2386.4 860.5,2386.4 861.0,2386.4 861.5,2386.4 862.0,2386.4 862.5,2386.4 863.0,2386.4 863.5,2386.4 864.0,2386.4 864.5,2386.4 865.0,2386.4 865.5,2386.4 866.0,2386.4 866.5,2386.4 867.0,2386.4 867.5,2386.4 868.0,2386.4 868.5,2386.4 869.0,2386.4 869.5,2386.4 870.0,2386.4 870.5,2386.4 871.0,2386.4 871.5,2386.4 872.0,2386.4 872.5,2386.4 873.0,2386.4 873.5,2386.4 874.0,2386.4 874.5,2386.4 875.0,2386.4 875.5,2386.4 876.0,2386.4 876.5,2386.4 877.0,2386.4 877.5,2386.4 878.0,2386.4 878.5,2386.4 879.0,2386.4 879.5,2386.4 880.0,2386.4 880.5,2386.4 881.0,2386.4 881.5,2386.4 882.0,2386.4 882.5,2386.4 883.0,2386.4 883.5,2386.4 884.0,2386.4 884.5,2386.4 885.0,2386.4 885.5,2386.4 886.0,2386.4 886.5,2386.4 887.0,2386.4 887.5,2386.4 888.0,2386.4 888.5,2386.4 889.0,2386.4 889.5,2386.4 890.0,2386.4 890.5,2386.4 891.0,2386.4 891.5,2386.4 892.0,2386.4 892.5,2386.4 893.0,2386.4 893.5,2386.4 894.0,2386.4 894.5,2386.4 895.0,2386.4 895.5,2386.4 896.0,2386.4 896.5,2386.4 897.0,2386.4 897.5,2386.4 898.0,2386.4 898.5,2386.4 899.0,2386.4 899.5,2386.4 900.0,2386.4 900.5,2386.4 901.0,2386.4 901.5,2386.4 902.0,2386.4 902.5,2386.4 903.0,2386.4 903.5,2386.4 904.0,2386.4 904.5,2386.4 905.0,2386.4 905.5,2386.4 906.0,2386.4 906.5,2386.4 907.0,2386.4 907.5,2386.4 908.0,2386.4 908.5,2386.4 909.0,2386.4 909.5,2386.4 910.0,2386.4 910.5,2386.4 911.0,2386.4 911.5,2386.4 912.0,2386.4 912.5,2386.4 913.0,2386.4 913.5,2386.4 914.0,2386.4 914.5,2386.4 915.0,2386.4 915.5,2386.4 916.0,2386.4 916.5,2386.4 917.0,2386.4 917.5,2386.4 918.0,2386.4 918.5,2386.4 919.0,2386.4 919.5,2386.4 920.0,2386.4 920.5,2386.4 921.0,2386.4 921.5,2386.4 922.0,2386.4 922.5,2386.4 923.0,2386.4 923.5,2386.4 924.0,2386.4 924.5,2386.4 925.0,2386.4 925.5,2386.4 926.0,2386.4 926.5,2386.4 927.0,2386.4 927.5,2386.4 928.0,2386.4 928.5,2386.4 929.0,2386.4 929.5,2386.4 930.0,2386.4 930.5,2386.4 931.0,2386.4 931.5,2386.4 932.0,2386.4 932.5,2386.4 933.0,2386.4 933.5,2386.4 934.0,2386.4 934.5,2386.4 935.0,2386.4 935.5,2386.4 936.0,2386.4 936.5,2386.4 937.0,2386.4 937.5,2386.4 938.0,2386.4 938.5,2386.4 939.0,2386.4 939.5,2386.4 940.0,2386.4 940.5,2386.4 941.0,2386.4 941.5,2386.4 942.0,2386.4 942.5,2386.4 943.0,2386.4 943.5,2386.4 944.0,2386.4 944.5,2386.4 945.0,2386.4 945.5,2386.4 946.0,2386.4 946.5,2386.4 947.0,2386.4 947.5,2386.4 948.0,2386.4 948.5,2386.4 949.0,2386.4 949.5,2386.4 950.0,2386.4 950.5,2386.4 951.0,2386.4 951.5,2386.4 952.0,2386.4 952.5,2386.4 953.0,2386.4 953.5,2386.4 954.0,2386.4 954.5,2386.4 955.0,2386.4 955.5,2386.4 956.0,2386.4 956.5,2386.4 957.0,2386.4 957.5,2386.4 958.0,2386.4 958.5,2386.4 959.0,2386.4 959.5,2386.4 960.0,2386.4 960.5,2386.4 961.0,2386.4 961.5,2386.4 962.0,2386.4 962.5,2386.4 963.0,2386.4 963.5,2386.4 964.0,2386.4 964.5,2386.4 965.0,2386.4 965.5,2386.4 966.0,2386.4 966.5,2386.4 967.0,2386.4 967.5,2386.4 968.0,2386.4 968.5,2386.4 969.0,2386.4 969.5,2386.4 970.0,2386.4 970.5,2386.4 971.0,2386.4 971.5,2386.4 972.0,2386.4 972.5,2386.4 973.0,2386.4 973.5,2386.4 974.0,2386.4 974.5,2386.4 975.0,2386.4 975.5,2386.4 976.0,2386.4 976.5,2386.4 977.0,2386.4 977.5,2386.4 978.0,2386.4 978.5,2386.4 979.0,2386.4 979.5,2386.4 980.0,2386.4 980.5,2386.4 981.0,2386.4 981.5,2386.4 982.0,2386.4 982.5,2386.4 983.0,2386.4 983.5,2386.4 984.0,2386.4 984.5,2386.4 985.0,2386.4 985.5,2386.4 986.0,2386.4 986.5,2386.4 987.0,2386.4 987.5,2386.4 988.0,2386.4 988.5,2386.4 989.0,2386.4 989.5,2386.4 990.0,2386.4 990.5,2386.4 991.0,2386.4 991.5,2386.4 992.0,2386.4 992.5,2386.4 993.0,2386.4 993.5,2386.4 994.0,2386.4 994.5,2386.4 995.0,2386.4 995.5,2386.4 996.0,2386.4 996.5,2386.4 997.0,2386.4 997.5,2386.4 998.0,2386.4 998.5,2386.4 999.0,2386.4 999.5,2386.4 1000.0,2386.4 1000.5,2386.4 1001.0,2386.4 1001.5,2386.4 1002.0,2386.4 1002.5,2386.4 1003.0,2386.4 1003.5,2386.4 1004.0,2386.4 1004.5,2386.4 1005.0,2386.4 1005.5,2386.4 1006.0,2386.4 1006.5,2386.4 1007.0,2386.4 1007.5,2386.4 1008.0,2386.4 1008.5,2386.4 1009.0,2386.4 1009.5,2386.4 1010.0,2386.4 1010.5,2386.4 1011.0,2386.4 1011.5,2386.4 1012.0,2386.4 1012.5,2386.4 1013.0,2386.4 1013.5,2386.4 1014.0,2386.4 1014.5,2386.4 1015.0,2386.4 1015.5,2386.4 1016.0,2386.4 1016.5,2386.4 1017.0,2386.4 1017.5,2386.4 1018.0,2386.4 1018.5,2386.4 1019.0,2386.4 1019.5,2386.4 1020.0,2386.4 1020.5,2386.4 1021.0,2386.4 1021.5,2386.4 1022.0,2386.4 1022.5,2386.4 1023.0,2386.4 1023.5,2386.4 1024.0,2386.4 1024.5,2386.4 1025.0,2386.4 1025.5,2386.4 1026.0,2386.4 1026.5,2386.4 1027.0,2386.4 1027.5,2386.4 1028.0,2386.4 1028.5,2386.4 1029.0,2386.4 1029.5,2386.4 1030.0,2386.4 1030.5,2386.4 1031.0,2386.4 1031.5,2386.4 1032.0,2386.4 1032.5,2386.4 1033.0,2386.4 1033.5,2386.4 1034.0,2386.4 1034.5,2386.4 1035.0,2386.4 1035.5,2386.4 1036.0,2386.4 1036.5,2386.4 1037.0,2386.4 1037.5,2386.4 1038.0,2386.4 1038.5,2386.4 1039.0,2386.4 1039.5,2386.4 1040.0,2386.4 1040.5,2386.4 1041.0,2386.4 1041.5,2386.4 1042.0,2386.4 1042.5,2386.4 1043.0,2386.4 1043.5,2386.4 1044.0,2386.4 1044.5,2386.4 1045.0,2386.4 1045.5,2386.4 1046.0,2386.4 1046.5,2386.4 1047.0,2386.4 1047.5,2386.4 1048.0,2386.4 1048.5,2386.4 1049.0,2386.4 1049.5,2386.4 1050.0,2386.4 1050.5,2386.4 1051.0,2386.4 1051.5,2386.4 1052.0,2386.4 1052.5,2386.4 1053.0,2386.4 1053.5,2386.4 1054.0,2386.4 1054.5,2386.4 1055.0,2386.4 1055.5,2386.4 1056.0,2386.4 1056.5,2386.4 1057.0,2386.4 1057.5,2386.4 1058.0,2386.4 1058.5,2386.4 1059.0,2386.4 1059.5,2386.4 1060.0,2386.4 1060.5,2386.4 1061.0,2386.5 1061.5,2386.7 1062.0,2386.9 1062.5,2387.1 1063.0,2387.3 1063.5,2387.6 1064.0,2387.9 1064.5,2388.2 1065.0,2388.5 1065.5,2388.8 1066.0,2389.1 1066.5,2389.3 1067.0,2389.5 1067.5,2389.7 1068.0,2389.9 1068.5,2390.0 1069.0,2390.0 1069.5,2390.0 1070.0,2390.0 1070.5,2390.0 1071.0,2390.0 1071.5,2390.0 1072.0,2390.0 1072.5,2390.0 1073.0,2390.0 1073.5,2390.0 1074.0,2390.0 1074.5,2390.0 1075.0,2390.0 1075.5,2390.0 1076.0,2390.0 1076.5,2390.0 1077.0,2390.0 1077.5,2390.0 1078.0,2390.0 1078.5,2390.0 1079.0,2390.0 1079.5,2390.0 1080.0,2390.0 1080.5,2390.0 1081.0,2390.0 1081.5,2390.0 1082.0,2390.0 1082.5,2390.0 1083.0,2390.0 1083.5,2390.0 1084.0,2390.0 1084.5,2390.0 1085.0,2390.0 1085.5,2390.0 1086.0,2390.0 1086.5,2390.0 1087.0,2390.0 1087.5,2390.0 1088.0,2390.0 1088.5,2390.0 1089.0,2390.0 1089.5,2390.0 1090.0,2390.0 1090.5,2390.0 1091.0,2390.0 1091.5,2390.0 1092.0,2390.0 1092.5,2390.0 1093.0,2390.0 1093.5,2390.0 1094.0,2390.0 1094.5,2389.9 1095.0,2389.7 1095.5,2389.4 1096.0,2389.1 1096.5,2388.6 1097.0,2388.2 1097.5,2387.8 1098.0,2387.3 1098.5,2387.0 1099.0,2386.7 1099.5,2386.5 1100.0,2386.4 1100.5,2386.4 1101.0,2386.4 1101.5,2386.4 1102.0,2386.4 1102.5,2386.4 1103.0,2386.4 1103.5,2386.4 1104.0,2386.4 1104.5,2386.4 1105.0,2386.4 1105.5,2386.4 1106.0,2386.4 1106.5,2386.4 1107.0,2386.4 1107.5,2386.4 1108.0,2386.4 1108.5,2386.4 1109.0,2386.4 1109.5,2386.4 1110.0,2386.4 1110.5,2386.4 1111.0,2386.4 1111.5,2386.4 1112.0,2386.4 1112.5,2386.4 1113.0,2386.4 1113.5,2386.4 1114.0,2386.4 1114.5,2386.4 1115.0,2386.4 1115.5,2386.4 1116.0,2386.4 1116.5,2386.4 1117.0,2386.4 1117.5,2386.4 1118.0,2386.4 1118.5,2386.4 1119.0,2386.4 1119.5,2386.4 1120.0,2386.4 1120.5,2386.4 1121.0,2386.4 1121.5,2386.4 1122.0,2386.4 1122.5,2386.4 1123.0,2386.4 1123.5,2386.4 1124.0,2386.4 1124.5,2386.4 1125.0,2386.4 1125.5,2386.4 1126.0,2386.4 1126.5,2386.4 1127.0,2386.4 1127.5,2386.4 1128.0,2386.4 1128.5,2386.4 1129.0,2386.4 1129.5,2386.4 1130.0,2386.4 1130.5,2386.4 1131.0,2386.4 1131.5,2386.4 1132.0,2386.4 1132.5,2386.4 1133.0,2386.4 1133.5,2386.4 1134.0,2386.4 1134.5,2386.4 1135.0,2386.4 1135.5,2386.4 1136.0,2386.4 1136.5,2386.4 1137.0,2386.4 1137.5,2386.4 1138.0,2386.4 1138.5,2386.4 1139.0,2386.4 1139.5,2386.4 1140.0,2386.4 1140.5,2386.4 1141.0,2386.4 1141.5,2386.4 1142.0,2386.4 1142.5,2386.4 1143.0,2386.4 1143.5,2386.4 1144.0,2386.4 1144.5,2386.4 1145.0,2386.4 1145.5,2386.4 1146.0,2386.4 1146.5,2386.4 1147.0,2386.4 1147.5,2386.4 1148.0,2386.4 1148.5,2386.4 1149.0,2386.4 1149.5,2386.4 1150.0,2386.4 1150.5,2386.4 1151.0,2386.4 1151.5,2386.4 1152.0,2386.4 1152.5,2386.4 1153.0,2386.4 1153.5,2386.4 1154.0,2386.4 1154.5,2386.4 1155.0,2386.4 1155.5,2386.4 1156.0,2386.4 1156.5,2386.4 1157.0,2386.4 1157.5,2386.4 1158.0,2386.4 1158.5,2386.4 1159.0,2386.4 1159.5,2386.4 1160.0,2386.4 1160.5,2386.4 1161.0,2386.4 1161.5,2386.4 1162.0,2386.4 1162.5,2386.4 1163.0,2386.4 1163.5,2386.4 1164.0,2386.4 1164.5,2386.4 1165.0,2386.4 1165.5,2386.4 1166.0,2386.4 1166.5,2386.4 1167.0,2386.4 1167.5,2386.4 1168.0,2386.4 1168.5,2386.4 1169.0,2386.4 1169.5,2386.4 1170.0,2386.4 1170.5,2386.4 1171.0,2386.4 1171.5,2386.4 1172.0,2386.4 1172.5,2386.4 1173.0,2386.4 1173.5,2386.4 1174.0,2386.4 1174.5,2386.4 1175.0,2386.4 1175.5,2386.4 1176.0,2386.4 1176.5,2386.4 1177.0,2386.4 1177.5,2386.4 1178.0,2386.4 1178.5,2386.4 1179.0,2386.4 1179.5,2386.4 1180.0,2386.4 1180.5,2386.4 1181.0,2386.4 1181.5,2386.4 1182.0,2386.4 1182.5,2386.4 1183.0,2386.4 1183.5,2386.4 1184.0,2386.4 1184.5,2386.4 1185.0,2386.4 1185.5,2386.4 1186.0,2386.4 1186.5,2386.4 1187.0,2386.4 1187.5,2386.4 1188.0,2386.4 1188.5,2386.4 1189.0,2386.4 1189.5,2386.4 1190.0,2386.4 1190.5,2386.4 1191.0,2386.4 1191.5,2386.4 1192.0,2386.4 1192.5,2386.4 1193.0,2386.4 1193.5,2386.4 1194.0,2386.4 1194.5,2386.4 1195.0,2386.4 1195.5,2386.4 1196.0,2386.4 1196.5,2386.4 1197.0,2386.4 1197.5,2386.4 1198.0,2386.4 1198.5,2386.4 1199.0,2386.4 1199.5,2386.4 1200.0,2386.4 1200.5,2386.4 1201.0,2386.4 1201.5,2386.4 1202.0,2386.4 1202.5,2386.4 1203.0,2386.4 1203.5,2386.4 1204.0,2386.4 1204.5,2386.4 1205.0,2386.4 1205.5,2386.4 1206.0,2386.4 1206.5,2386.4 1207.0,2386.4 1207.5,2386.4 1208.0,2386.4 1208.5,2386.4 1209.0,2386.4 1209.5,2386.4 1210.0,2386.4 1210.5,2386.4 1211.0,2386.4 1211.5,2386.4 1212.0,2386.4 1212.5,2386.4 1213.0,2386.4 1213.5,2386.4 1214.0,2386.4 1214.5,2386.4 1215.0,2386.4 1215.5,2386.4 1216.0,2386.4 1216.5,2386.4 1217.0,2386.4 1217.5,2386.4 1218.0,2386.4 1218.5,2386.4 1219.0,2386.4 1219.5,2386.4 1220.0,2386.4 1220.5,2386.4 1221.0,2386.4 1221.5,2386.4 1222.0,2386.4 1222.5,2386.4 1223.0,2386.4 1223.5,2386.4 1224.0,2386.4 1224.5,2386.4 1225.0,2386.4 1225.5,2386.4 1226.0,2386.4 1226.5,2386.4 1227.0,2386.4 1227.5,2386.4 1228.0,2386.4 1228.5,2386.4 1229.0,2386.4 1229.5,2386.4 1230.0,2386.4 1230.5,2386.4 1231.0,2386.4 1231.5,2386.4 1232.0,2386.4 1232.5,2386.4 1233.0,2386.4 1233.5,2386.4 1234.0,2386.4 1234.5,2386.4 1235.0,2386.4 1235.5,2386.4 1236.0,2386.4 1236.5,2386.4 1237.0,2386.4 1237.5,2386.4 1238.0,2386.4 1238.5,2386.4 1239.0,2386.4 1239.5,2386.4 1240.0,2386.4 1240.5,2386.4 1241.0,2386.4 1241.5,2386.4 1242.0,2386.4 1242.5,2386.4 1243.0,2386.4 1243.5,2386.4 1244.0,2386.4 1244.5,2386.4 1245.0,2386.4 1245.5,2386.4 1246.0,2386.4 1246.5,2386.4 1247.0,2386.4 1247.5,2386.4 1248.0,2386.4 1248.5,2386.4 1249.0,2386.4 1249.5,2386.4 1250.0,2386.4 1250.5,2386.4 1251.0,2386.4 1251.5,2386.4 1252.0,2386.4 1252.5,2386.4 1253.0,2386.4 1253.5,2386.4 1254.0,2386.4 1254.5,2386.4 1255.0,2386.4 1255.5,2386.4 1256.0,2386.4 1256.5,2386.4 1257.0,2386.4 1257.5,2386.4 1258.0,2386.4 1258.5,2386.4 1259.0,2386.4 1259.5,2386.4 1260.0,2386.4 1260.5,2386.4 1261.0,2386.4 1261.5,2386.4 1262.0,2386.4 1262.5,2386.4 1263.0,2386.4 1263.5,2386.4 1264.0,2386.4 1264.5,2386.4 1265.0,2386.4 1265.5,2386.4 1266.0,2386.4 1266.5,2386.4 1267.0,2386.4 1267.5,2386.4 1268.0,2386.4 1268.5,2386.4 1269.0,2386.4 1269.5,2386.4 1270.0,2386.4 1270.5,2386.4 1271.0,2386.4 1271.5,2386.4 1272.0,2386.4 1272.5,2386.4 1273.0,2386.4 1273.5,2386.4 1274.0,2386.4 1274.5,2386.4 1275.0,2386.4 1275.5,2386.4 1276.0,2386.4 1276.5,2386.4 1277.0,2386.4 1277.5,2386.4 1278.0,2386.4 1278.5,2386.4 1279.0,2386.4 1279.5,2386.4 1280.0,2386.4 1280.5,2386.4 1281.0,2386.4 1281.5,2386.4 1282.0,2386.4 1282.5,2386.4 1283.0,2386.4 1283.5,2386.4 1284.0,2386.4 1284.5,2386.4 1285.0,2386.4 1285.5,2386.4 1286.0,2386.4 1286.5,2386.4 1287.0,2386.4 1287.5,2386.4 1288.0,2386.4 1288.5,2386.4 1289.0,2386.4 1289.5,2386.4 1290.0,2386.4 1290.5,2386.4 1291.0,2386.4 1291.5,2386.4 1292.0,2386.4 1292.5,2386.4 1293.0,2386.4 1293.5,2386.4 1294.0,2386.4 1294.5,2386.4 1295.0,2386.4 1295.5,2386.4 1296.0,2386.4 1296.5,2386.4 1297.0,2386.4 1297.5,2386.5 1298.0,2386.6 1298.5,2386.8 1299.0,2387.1 1299.5,2387.5 1300.0,2387.9 1300.5,2388.3 1301.0,2388.7 1301.5,2389.1 1302.0,2389.5 1302.5,2389.9 1303.0,2390.3 1303.5,2390.6 1304.0,2390.8 1304.5,2390.9 1305.0,2391.0 1305.5,2391.0 1306.0,2391.0 1306.5,2391.0 1307.0,2391.0 1307.5,2391.0 1308.0,2391.0 1308.5,2391.0 1309.0,2391.0 1309.5,2391.0 1310.0,2391.0 1310.5,2391.0 1311.0,2391.0 1311.5,2391.0 1312.0,2391.0 1312.5,2391.0 1313.0,2391.0 1313.5,2391.0 1314.0,2391.0 1314.5,2391.0 1315.0,2391.0 1315.5,2391.0 1316.0,2391.0 1316.5,2391.0 1317.0,2391.0 1317.5,2390.9 1318.0,2390.8 1318.5,2390.6 1319.0,2390.3 1319.5,2390.0 1320.0,2389.6 1320.5,2389.2 1321.0,2388.8 1321.5,2388.3 1322.0,2387.9 1322.5,2387.5 1323.0,2387.2 1323.5,2386.9 1324.0,2386.7 1324.5,2386.6 1325.0,2386.5 1325.5,2386.5 1326.0,2386.5 1326.5,2386.5 1327.0,2386.5 1327.5,2386.5 1328.0,2386.5 1328.5,2386.5 1329.0,2386.5 1329.5,2386.5 1330.0,2386.5 1330.5,2386.5 1331.0,2386.5 1331.5,2386.5 1332.0,2386.5 1332.5,2386.5 1333.0,2386.5 1333.5,2386.5 1334.0,2386.5 1334.5,2386.5 1335.0,2386.5 1335.5,2386.5 1336.0,2386.5 1336.5,2386.5 1337.0,2386.6 1337.5,2386.6 1338.0,2386.6 1338.5,2386.6 1339.0,2386.6 1339.5,2386.6 1340.0,2386.6 1340.5,2386.6 1341.0,2386.6 1341.5,2386.6 1342.0,2386.6 1342.5,2386.6 1343.0,2386.6 1343.5,2386.6 1344.0,2386.6 1344.5,2386.7 1345.0,2386.7 1345.5,2386.7 1346.0,2386.7 1346.5,2386.7 1347.0,2386.7 1347.5,2386.8 1348.0,2386.9 1348.5,2387.1 1349.0,2387.4 1349.5,2387.6 1350.0,2388.0 1350.5,2388.3 1351.0,2388.8 1351.5,2389.2 1352.0,2389.7 1352.5,2390.2 1353.0,2390.7 1353.5,2391.2 1354.0,2391.7 1354.5,2392.3 1355.0,2392.9 1355.5,2393.4 1356.0,2394.0 1356.5,2394.6 1357.0,2395.2 1357.5,2395.8 1358.0,2396.5 1358.5,2397.2 1359.0,2398.0 1359.5,2398.9 1360.0,2399.9 1360.5,2401.0 1361.0,2402.2 1361.5,2403.5 1362.0,2405.0 1362.5,2406.9 1363.0,2409.5 1363.5,2412.8 1364.0,2416.7 1364.5,2421.1 1365.0,2425.9 1365.5,2431.2 1366.0,2436.9 1366.5,2442.8 1367.0,2449.0 1367.5,2457.3 1368.0,2468.8 1368.5,2482.4 1369.0,2497.2 1369.5,2511.8 1370.0,2525.4 1370.5,2536.8 1371.0,2544.8 1371.5,2548.5 1372.0,2547.2 1372.5,2542.1 1373.0,2534.4 1373.5,2525.2 1374.0,2515.6 1374.5,2506.9 1375.0,2500.0 1375.5,2494.8 1376.0,2490.0 1376.5,2485.5 1377.0,2481.3 1377.5,2477.2 1378.0,2473.1 1378.5,2468.9 1379.0,2464.5 1379.5,2459.7 1380.0,2454.5 1380.5,2449.1 1381.0,2443.4 1381.5,2437.7 1382.0,2432.0 1382.5,2426.5 1383.0,2421.2 1383.5,2416.3 1384.0,2411.9 1384.5,2408.0 1385.0,2404.8 1385.5,2402.4 1386.0,2400.6 1386.5,2398.8 1387.0,2397.1 1387.5,2395.6 1388.0,2394.1 1388.5,2392.7 1389.0,2391.5 1389.5,2390.4 1390.0,2389.5 1390.5,2388.8 1391.0,2388.3 1391.5,2388.0 1392.0,2388.0 1392.5,2388.5 1393.0,2389.4 1393.5,2390.7 1394.0,2392.5 1394.5,2394.6 1395.0,2397.0 1395.5,2399.6 1396.0,2402.5 1396.5,2405.6 1397.0,2408.9 1397.5,2412.3 1398.0,2415.8 1398.5,2419.3 1399.0,2422.8 1399.5,2426.3 1400.0,2429.9 1400.5,2434.1 1401.0,2438.7 1401.5,2443.7 1402.0,2449.0 1402.5,2454.7 1403.0,2460.5 1403.5,2466.6 1404.0,2472.8 1404.5,2479.1 1405.0,2485.4 1405.5,2491.6 1406.0,2497.7 1406.5,2503.8 1407.0,2509.5 1407.5,2515.1 1408.0,2520.4 1408.5,2525.6 1409.0,2530.7 1409.5,2535.8 1410.0,2540.7 1410.5,2545.7 1411.0,2550.7 1411.5,2555.8 1412.0,2560.9 1412.5,2566.1 1413.0,2571.5 1413.5,2577.0 1414.0,2582.8 1414.5,2588.8 1415.0,2595.0 1415.5,2602.1 1416.0,2610.3 1416.5,2619.5 1417.0,2629.4 1417.5,2639.8 1418.0,2650.5 1418.5,2661.2 1419.0,2671.8 1419.5,2681.9 1420.0,2691.5 1420.5,2700.2 1421.0,2707.8 1421.5,2714.1 1422.0,2718.9 1422.5,2721.9 1423.0,2723.0 1423.5,2721.3 1424.0,2716.5 1424.5,2709.4 1425.0,2700.5 1425.5,2690.5 1426.0,2679.9 1426.5,2669.6 1427.0,2660.0 1427.5,2650.5 1428.0,2640.3 1428.5,2629.5 1429.0,2618.4 1429.5,2607.5 1430.0,2596.8 1430.5,2586.8 1431.0,2577.5 1431.5,2568.4 1432.0,2559.6 1432.5,2550.9 1433.0,2542.4 1433.5,2534.1 1434.0,2525.9 1434.5,2517.9 1435.0,2510.0 1435.5,2502.3 1436.0,2494.7 1436.5,2487.3 1437.0,2480.0 1437.5,2472.6 1438.0,2464.8 1438.5,2456.9 1439.0,2449.0 1439.5,2441.1 1440.0,2433.6 1440.5,2426.4 1441.0,2419.9 1441.5,2414.0 1442.0,2409.0 1442.5,2404.9 1443.0,2402.0 1443.5,2399.7 1444.0,2397.6 1444.5,2395.6 1445.0,2393.7 1445.5,2392.0 1446.0,2390.6 1446.5,2389.5 1447.0,2388.6 1447.5,2388.1 1448.0,2388.0 1448.5,2388.5 1449.0,2389.7 1449.5,2391.4 1450.0,2393.6 1450.5,2396.3 1451.0,2399.4 1451.5,2402.7 1452.0,2406.3 1452.5,2410.1 1453.0,2414.0 1453.5,2417.9 1454.0,2421.7 1454.5,2425.5 1455.0,2429.1 1455.5,2432.4 1456.0,2435.4 1456.5,2438.2 1457.0,2440.7 1457.5,2443.2 1458.0,2445.5 1458.5,2447.8 1459.0,2450.1 1459.5,2452.4 1460.0,2454.8 1460.5,2457.4 1461.0,2460.2 1461.5,2463.2 1462.0,2466.5 1462.5,2470.2 1463.0,2474.3 1463.5,2478.8 1464.0,2483.8 1464.5,2489.4 1465.0,2495.6 1465.5,2508.7 1466.0,2532.5 1466.5,2563.1 1467.0,2596.8 1467.5,2629.6 1468.0,2657.8 1468.5,2677.6 1469.0,2685.0 1469.5,2682.5 1470.0,2675.8 1470.5,2666.1 1471.0,2654.5 1471.5,2642.1 1472.0,2630.3 1472.5,2620.0 1473.0,2611.1 1473.5,2602.3 1474.0,2593.7 1474.5,2585.1 1475.0,2576.3 1475.5,2567.3 1476.0,2558.0 1476.5,2547.4 1477.0,2535.0 1477.5,2521.7 1478.0,2508.3 1478.5,2495.4 1479.0,2483.8 1479.5,2474.3 1480.0,2467.6 1480.5,2464.5 1481.0,2463.5 1481.5,2462.6 1482.0,2461.8 1482.5,2461.0 1483.0,2460.4 1483.5,2459.8 1484.0,2459.3 1484.5,2458.9 1485.0,2458.5 1485.5,2458.3 1486.0,2458.1 1486.5,2458.0 1487.0,2458.5 1487.5,2463.8 1488.0,2473.8 1488.5,2486.9 1489.0,2501.8 1489.5,2516.9 1490.0,2530.9 1490.5,2542.3 1491.0,2549.7 1491.5,2551.6 1492.0,2547.4 1492.5,2538.6 1493.0,2526.9 1493.5,2513.7 1494.0,2500.9 1494.5,2490.0 1495.0,2480.0 1495.5,2469.2 1496.0,2458.4 1496.5,2448.5 1497.0,2440.3 1497.5,2434.5 1498.0,2431.3 1498.5,2428.6 1499.0,2426.3 1499.5,2424.2 1500.0,2422.3 1500.5,2420.6 1501.0,2419.0 1501.5,2417.6 1502.0,2416.4 1502.5,2415.2 1503.0,2414.1 1503.5,2413.0 1504.0,2411.9 1504.5,2410.8 1505.0,2409.7 1505.5,2408.5 1506.0,2407.2 1506.5,2405.9 1507.0,2404.6 1507.5,2403.2 1508.0,2401.9 1508.5,2400.5 1509.0,2399.2 1509.5,2397.9 1510.0,2396.6 1510.5,2395.5 1511.0,2394.3 1511.5,2393.3 1512.0,2392.4 1512.5,2391.6 1513.0,2390.9 1513.5,2390.4 1514.0,2390.0 1514.5,2389.8 1515.0,2389.8 1515.5,2390.0 1516.0,2390.3 1516.5,2390.8 1517.0,2391.4 1517.5,2392.2 1518.0,2393.1 1518.5,2394.1 1519.0,2395.2 1519.5,2396.5 1520.0,2397.8 1520.5,2399.3 1521.0,2400.9 1521.5,2402.5 1522.0,2404.2 1522.5,2406.0 1523.0,2407.8 1523.5,2409.7 1524.0,2411.6 1524.5,2414.3 1525.0,2418.2 1525.5,2423.2 1526.0,2428.8 1526.5,2434.8 1527.0,2441.0 1527.5,2447.0 1528.0,2452.5 1528.5,2457.3 1529.0,2461.1 1529.5,2463.6 1530.0,2464.5 1530.5,2463.8 1531.0,2462.0 1531.5,2459.2 1532.0,2455.6 1532.5,2451.4 1533.0,2446.7 1533.5,2441.8 1534.0,2436.9 1534.5,2432.1 1535.0,2427.7 1535.5,2423.7 1536.0,2420.5 1536.5,2418.1 1537.0,2416.5 1537.5,2415.0 1538.0,2413.6 1538.5,2412.3 1539.0,2411.0 1539.5,2409.8 1540.0,2408.6 1540.5,2407.5 1541.0,2406.5 1541.5,2405.6 1542.0,2404.7 1542.5,2403.8 1543.0,2403.0 1543.5,2402.2 1544.0,2401.5 1544.5,2400.8 1545.0,2400.2 1545.5,2399.6 1546.0,2399.0 1546.5,2398.4 1547.0,2397.9 1547.5,2397.3 1548.0,2396.8 1548.5,2396.2 1549.0,2395.7 1549.5,2395.1 1550.0,2394.6 1550.5,2394.1 1551.0,2393.6 1551.5,2393.2 1552.0,2392.7 1552.5,2392.3 1553.0,2391.9 1553.5,2391.5 1554.0,2391.2 1554.5,2390.9 1555.0,2390.6 1555.5,2390.4 1556.0,2390.2 1556.5,2390.0 1557.0,2389.9 1557.5,2389.8 1558.0,2389.8 1558.5,2390.0 1559.0,2390.5 1559.5,2391.2 1560.0,2392.3 1560.5,2393.5 1561.0,2395.0 1561.5,2396.6 1562.0,2398.3 1562.5,2400.2 1563.0,2402.1 1563.5,2404.0 1564.0,2406.0 1564.5,2408.0 1565.0,2409.8 1565.5,2411.6 1566.0,2413.3 1566.5,2414.9 1567.0,2416.2 1567.5,2417.4 1568.0,2418.4 1568.5,2419.2 1569.0,2420.0 1569.5,2420.7 1570.0,2421.4 1570.5,2422.0 1571.0,2422.6 1571.5,2423.2 1572.0,2423.7 1572.5,2424.2 1573.0,2424.8 1573.5,2425.3 1574.0,2425.8 1574.5,2426.3 1575.0,2426.8 1575.5,2427.4 1576.0,2428.0 1576.5,2428.6 1577.0,2429.3 1577.5,2430.0 1578.0,2430.8 1578.5,2431.6 1579.0,2432.6 1579.5,2433.6 1580.0,2434.7 1580.5,2436.1 1581.0,2437.9 1581.5,2440.0 1582.0,2442.5 1582.5,2445.2 1583.0,2448.0 1583.5,2451.0 1584.0,2454.0 1584.5,2456.9 1585.0,2459.8 1585.5,2462.6 1586.0,2465.1 1586.5,2467.4 1587.0,2469.9 1587.5,2472.6 1588.0,2475.3 1588.5,2478.1 1589.0,2480.8 1589.5,2483.3 1590.0,2485.7 1590.5,2487.8 1591.0,2489.5 1591.5,2490.8 1592.0,2491.7 1592.5,2492.0 1593.0,2491.1 1593.5,2488.5 1594.0,2484.5 1594.5,2479.5 1595.0,2473.7 1595.5,2467.4 1596.0,2461.1 1596.5,2454.8 1597.0,2449.1 1597.5,2444.0 1598.0,2438.8 1598.5,2432.9 1599.0,2426.8 1599.5,2420.7 1600.0,2414.8 1600.5,2409.4 1601.0,2404.8 1601.5,2401.3 1602.0,2399.2 1602.5,2398.6 1603.0,2398.8 1603.5,2399.4 1604.0,2400.2 1604.5,2401.2 1605.0,2402.4 1605.5,2403.8 1606.0,2405.3 1606.5,2406.9 1607.0,2408.5 1607.5,2410.1 1608.0,2412.3 1608.5,2415.0 1609.0,2418.1 1609.5,2421.3 1610.0,2424.5 1610.5,2427.4 1611.0,2429.7 1611.5,2431.8 1612.0,2433.9 1612.5,2436.0 1613.0,2438.0 1613.5,2439.7 1614.0,2441.0 1614.5,2441.8 1615.0,2442.0 1615.5,2441.8 1616.0,2441.4 1616.5,2440.8 1617.0,2440.0 1617.5,2439.1 1618.0,2438.0 1618.5,2437.0 1619.0,2435.9 1619.5,2434.8 1620.0,2433.8 1620.5,2432.8 1621.0,2432.0 1621.5,2431.3 1622.0,2430.7 1622.5,2430.2 1623.0,2429.7 1623.5,2429.3 1624.0,2428.9 1624.5,2428.5 1625.0,2428.1 1625.5,2427.6 1626.0,2427.1 1626.5,2426.6 1627.0,2425.9 1627.5,2425.2 1628.0,2424.3 1628.5,2423.3 1629.0,2422.1 1629.5,2420.7 1630.0,2418.3 1630.5,2409.1 1631.0,2397.9 1631.5,2392.0 1632.0,2391.2 1632.5,2390.4 1633.0,2389.7 1633.5,2389.1 1634.0,2388.6 1634.5,2388.1 1635.0,2387.7 1635.5,2387.3 1636.0,2387.0 1636.5,2386.7 1637.0,2386.5 1637.5,2386.3 1638.0,2386.2 1638.5,2386.1 1639.0,2386.0 1639.5,2386.0 1640.0,2386.0 1640.5,2386.0 1641.0,2386.0 1641.5,2386.0 1642.0,2386.1 1642.5,2386.1 1643.0,2386.1 1643.5,2386.1 1644.0,2386.2 1644.5,2386.2 1645.0,2386.3 1645.5,2386.3 1646.0,2386.4 1646.5,2386.5 1647.0,2386.5 1647.5,2386.6 1648.0,2386.7 1648.5,2386.8 1649.0,2387.0 1649.5,2387.5 1650.0,2388.1 1650.5,2389.0 1651.0,2390.0 1651.5,2391.1 1652.0,2392.3 1652.5,2393.7 1653.0,2395.0 1653.5,2396.4 1654.0,2397.9 1654.5,2399.3 1655.0,2400.7 1655.5,2402.6 1656.0,2404.9 1656.5,2407.3 1657.0,2409.9 1657.5,2412.3 1658.0,2414.5 1658.5,2416.4 1659.0,2417.7 1659.5,2418.4 1660.0,2418.5 1660.5,2418.5 1661.0,2418.5 1661.5,2418.5 1662.0,2418.5 1662.5,2418.5 1663.0,2418.5 1663.5,2418.5 1664.0,2418.5 1664.5,2418.5 1665.0,2418.5 1665.5,2418.5 1666.0,2418.5 1666.5,2418.5 1667.0,2418.5 1667.5,2418.5 1668.0,2418.5 1668.5,2418.5 1669.0,2418.5 1669.5,2418.5 1670.0,2418.8 1670.5,2420.8 1671.0,2424.2 1671.5,2428.7 1672.0,2434.0 1672.5,2439.8 1673.0,2445.8 1673.5,2451.7 1674.0,2457.1 1674.5,2461.8 1675.0,2465.5 1675.5,2467.7 1676.0,2468.3 1676.5,2467.8 1677.0,2466.8 1677.5,2465.2 1678.0,2463.1 1678.5,2460.6 1679.0,2457.6 1679.5,2454.4 1680.0,2450.8 1680.5,2447.0 1681.0,2443.0 1681.5,2438.9 1682.0,2434.7 1682.5,2428.7 1683.0,2420.2 1683.5,2411.1 1684.0,2403.1 1684.5,2397.9 1685.0,2395.8 1685.5,2393.8 1686.0,2392.1 1686.5,2390.6 1687.0,2389.3 1687.5,2388.2 1688.0,2387.3 1688.5,2386.6 1689.0,2386.2 1689.5,2386.0 1690.0,2386.2 1690.5,2387.1 1691.0,2388.4 1691.5,2390.2 1692.0,2392.3 1692.5,2394.5 1693.0,2396.8 1693.5,2399.0 1694.0,2401.0 1694.5,2402.7 1695.0,2403.9 1695.5,2404.7 1696.0,2404.8 1696.5,2404.6 1697.0,2404.2 1697.5,2403.7 1698.0,2403.1 1698.5,2402.4 1699.0,2401.7 1699.5,2401.0 1700.0,2400.2 1700.5,2399.2 1701.0,2398.1 1701.5,2396.9 1702.0,2395.6 1702.5,2394.4 1703.0,2393.3 1703.5,2392.3 1704.0,2391.5 1704.5,2391.0 1705.0,2390.6 1705.5,2390.3 1706.0,2389.9 1706.5,2389.6 1707.0,2389.3 1707.5,2389.0 1708.0,2388.7 1708.5,2388.4 1709.0,2388.2 1709.5,2387.9 1710.0,2387.7 1710.5,2387.5 1711.0,2387.2 1711.5,2387.1 1712.0,2386.9 1712.5,2386.7 1713.0,2386.6 1713.5,2386.4 1714.0,2386.3 1714.5,2386.2 1715.0,2386.1 1715.5,2386.1 1716.0,2386.0 1716.5,2386.0 1717.0,2386.0 1717.5,2386.0 1718.0,2386.1 1718.5,2386.1 1719.0,2386.2 1719.5,2386.4 1720.0,2386.5 1720.5,2386.7 1721.0,2386.9 1721.5,2387.1 1722.0,2387.3 1722.5,2387.5 1723.0,2387.8 1723.5,2388.0 1724.0,2388.3 1724.5,2388.5 1725.0,2388.7 1725.5,2389.0 1726.0,2389.2 1726.5,2389.5 1727.0,2389.7 1727.5,2389.9 1728.0,2390.1 1728.5,2390.3 1729.0,2390.5 1729.5,2390.6 1730.0,2390.8 1730.5,2390.9 1731.0,2390.9 1731.5,2391.0 1732.0,2391.0 1732.5,2391.0 1733.0,2391.0 1733.5,2390.9 1734.0,2390.8 1734.5,2390.7 1735.0,2390.6 1735.5,2390.5 1736.0,2390.3 1736.5,2390.2 1737.0,2390.0 1737.5,2389.8 1738.0,2389.7 1738.5,2389.5 1739.0,2389.3 1739.5,2389.1 1740.0,2388.9 1740.5,2388.7 1741.0,2388.5 1741.5,2388.3 1742.0,2388.2 1742.5,2388.0 1743.0,2387.8 1743.5,2387.7 1744.0,2387.5 1744.5,2387.4 1745.0,2387.3 1745.5,2387.2 1746.0,2387.1 1746.5,2387.0 1747.0,2387.0 1747.5,2387.0 1748.0,2387.0 1748.5,2387.2 1749.0,2387.4 1749.5,2387.7 1750.0,2388.1 1750.5,2388.5 1751.0,2389.0 1751.5,2389.6 1752.0,2390.2 1752.5,2390.9 1753.0,2391.6 1753.5,2392.3 1754.0,2393.1 1754.5,2393.9 1755.0,2394.8 1755.5,2395.6 1756.0,2396.5 1756.5,2397.4 1757.0,2398.3 1757.5,2399.1 1758.0,2400.0 1758.5,2400.9 1759.0,2401.7 1759.5,2402.5 1760.0,2403.4 1760.5,2404.3 1761.0,2405.4 1761.5,2406.5 1762.0,2407.7 1762.5,2409.0 1763.0,2410.3 1763.5,2411.7 1764.0,2413.1 1764.5,2414.5 1765.0,2416.0 1765.5,2417.5 1766.0,2418.9 1766.5,2420.4 1767.0,2421.8 1767.5,2423.2 1768.0,2424.6 1768.5,2425.9 1769.0,2427.1 1769.5,2428.3 1770.0,2429.4 1770.5,2430.4 1771.0,2431.3 1771.5,2432.1 1772.0,2432.7 1772.5,2433.3 1773.0,2433.7 1773.5,2433.9 1774.0,2434.0 1774.5,2434.0 1775.0,2433.9 1775.5,2433.8 1776.0,2433.7 1776.5,2433.5 1777.0,2433.2 1777.5,2432.9 1778.0,2432.6 1778.5,2432.3 1779.0,2431.9 1779.5,2431.4 1780.0,2430.9 1780.5,2430.4 1781.0,2429.8 1781.5,2429.2 1782.0,2428.6 1782.5,2427.9 1783.0,2427.2 1783.5,2426.4 1784.0,2425.6 1784.5,2424.8 1785.0,2423.9 1785.5,2423.0 1786.0,2422.0 1786.5,2420.2 1787.0,2417.1 1787.5,2413.0 1788.0,2408.3 1788.5,2403.3 1789.0,2398.4 1789.5,2393.9 1790.0,2390.3 1790.5,2387.9 1791.0,2387.0 1791.5,2387.2 1792.0,2387.7 1792.5,2388.6 1793.0,2389.8 1793.5,2391.2 1794.0,2392.9 1794.5,2394.8 1795.0,2396.9 1795.5,2399.1 1796.0,2401.5 1796.5,2404.0 1797.0,2406.6 1797.5,2409.3 1798.0,2412.0 1798.5,2415.5 1799.0,2420.4 1799.5,2426.4 1800.0,2433.1 1800.5,2440.3 1801.0,2447.5 1801.5,2454.6 1802.0,2461.1 1802.5,2466.7 1803.0,2471.1 1803.5,2474.0 1804.0,2475.0 1804.5,2474.7 1805.0,2473.8 1805.5,2472.4 1806.0,2470.5 1806.5,2468.3 1807.0,2465.6 1807.5,2462.8 1808.0,2459.6 1808.5,2456.4 1809.0,2453.0 1809.5,2449.5 1810.0,2446.1 1810.5,2442.8 1811.0,2439.5 1811.5,2436.5 1812.0,2433.3 1812.5,2429.6 1813.0,2425.6 1813.5,2421.3 1814.0,2416.8 1814.5,2412.3 1815.0,2407.9 1815.5,2403.6 1816.0,2399.7 1816.5,2396.1 1817.0,2393.0 1817.5,2390.6 1818.0,2388.9 1818.5,2388.1 1819.0,2388.0 1819.5,2388.0 1820.0,2388.0 1820.5,2388.0 1821.0,2388.0 1821.5,2388.0 1822.0,2388.0 1822.5,2388.0 1823.0,2388.0 1823.5,2388.0 1824.0,2388.0 1824.5,2388.0 1825.0,2388.4 1825.5,2392.1 1826.0,2399.5 1826.5,2409.8 1827.0,2422.5 1827.5,2436.9 1828.0,2452.5 1828.5,2468.5 1829.0,2484.4 1829.5,2499.6 1830.0,2513.4 1830.5,2525.3 1831.0,2534.5 1831.5,2540.5 1832.0,2542.6 1832.5,2540.4 1833.0,2534.1 1833.5,2524.4 1834.0,2512.0 1834.5,2497.6 1835.0,2481.9 1835.5,2465.5 1836.0,2449.1 1836.5,2433.3 1837.0,2418.9 1837.5,2406.5 1838.0,2396.7 1838.5,2390.3 1839.0,2388.0 1839.5,2387.9 1840.0,2387.8 1840.5,2387.7 1841.0,2387.6 1841.5,2387.5 1842.0,2387.5 1842.5,2387.4 1843.0,2387.3 1843.5,2387.3 1844.0,2387.2 1844.5,2387.2 1845.0,2387.1 1845.5,2387.1 1846.0,2387.1 1846.5,2387.1 1847.0,2387.0 1847.5,2387.0 1848.0,2387.0 1848.5,2387.0 1849.0,2387.0 1849.5,2387.0 1850.0,2387.1 1850.5,2387.2 1851.0,2387.3 1851.5,2387.4 1852.0,2387.6 1852.5,2387.8 1853.0,2388.0 1853.5,2388.2 1854.0,2388.5 1854.5,2388.8 1855.0,2389.1 1855.5,2389.4 1856.0,2389.8 1856.5,2390.1 1857.0,2390.5 1857.5,2390.9 1858.0,2391.3 1858.5,2391.7 1859.0,2392.1 1859.5,2392.5 1860.0,2392.9 1860.5,2393.4 1861.0,2393.8 1861.5,2394.2 1862.0,2394.6 1862.5,2395.1 1863.0,2395.5 1863.5,2396.0 1864.0,2396.5 1864.5,2397.1 1865.0,2397.8 1865.5,2398.5 1866.0,2399.2 1866.5,2400.0 1867.0,2400.7 1867.5,2401.5 1868.0,2402.2 1868.5,2402.9 1869.0,2403.5 1869.5,2404.1 1870.0,2404.5 1870.5,2404.9 1871.0,2405.3 1871.5,2405.6 1872.0,2405.9 1872.5,2406.2 1873.0,2406.5 1873.5,2406.8 1874.0,2407.1 1874.5,2407.4 1875.0,2407.7 1875.5,2407.9 1876.0,2408.2 1876.5,2408.4 1877.0,2408.7 1877.5,2408.9 1878.0,2409.1 1878.5,2409.2 1879.0,2409.4 1879.5,2409.6 1880.0,2409.7 1880.5,2409.8 1881.0,2409.9 1881.5,2409.9 1882.0,2410.0 1882.5,2410.0 1883.0,2410.0 1883.5,2409.8 1884.0,2409.5 1884.5,2409.2 1885.0,2408.7 1885.5,2408.2 1886.0,2407.6 1886.5,2406.9 1887.0,2406.2 1887.5,2405.4 1888.0,2404.6 1888.5,2403.8 1889.0,2402.9 1889.5,2402.0 1890.0,2401.1 1890.5,2400.3 1891.0,2399.4 1891.5,2398.5 1892.0,2397.7 1892.5,2396.9 1893.0,2396.2 1893.5,2395.5 1894.0,2394.9 1894.5,2394.4 1895.0,2393.9 1895.5,2393.5 1896.0,2393.2 1896.5,2393.1 1897.0,2393.0 1897.5,2393.1 1898.0,2393.5 1898.5,2394.1 1899.0,2394.9 1899.5,2395.8 1900.0,2396.9 1900.5,2398.2 1901.0,2399.5 1901.5,2401.0 1902.0,2402.5 1902.5,2404.1 1903.0,2405.7 1903.5,2407.3 1904.0,2408.9 1904.5,2410.4 1905.0,2412.0 1905.5,2413.4 1906.0,2414.7 1906.5,2416.0 1907.0,2417.0 1907.5,2418.0 1908.0,2418.7 1908.5,2419.3 1909.0,2419.6 1909.5,2419.8 1910.0,2420.0 1910.5,2420.2 1911.0,2420.4 1911.5,2420.6 1912.0,2420.7 1912.5,2420.9 1913.0,2421.1 1913.5,2421.2 1914.0,2421.3 1914.5,2421.5 1915.0,2421.6 1915.5,2421.7 1916.0,2421.7 1916.5,2421.8 1917.0,2421.9 1917.5,2421.9 1918.0,2422.0 1918.5,2422.0 1919.0,2422.0 1919.5,2421.7 1920.0,2420.9 1920.5,2419.7 1921.0,2418.1 1921.5,2416.2 1922.0,2414.0 1922.5,2411.6 1923.0,2409.0 1923.5,2406.3 1924.0,2403.7 1924.5,2401.0 1925.0,2398.4 1925.5,2396.0 1926.0,2393.8 1926.5,2391.9 1927.0,2390.3 1927.5,2389.1 1928.0,2388.3 1928.5,2388.0 1929.0,2388.0 1929.5,2388.0 1930.0,2388.1 1930.5,2388.1 1931.0,2388.2 1931.5,2388.2 1932.0,2388.3 1932.5,2388.4 1933.0,2388.5 1933.5,2388.6 1934.0,2388.7 1934.5,2388.9 1935.0,2389.0 1935.5,2389.1 1936.0,2389.3 1936.5,2389.4 1937.0,2389.6 1937.5,2389.7 1938.0,2389.9 1938.5,2390.0 1939.0,2390.2 1939.5,2390.4 1940.0,2390.5 1940.5,2390.7 1941.0,2390.9 1941.5,2391.1 1942.0,2391.4 1942.5,2391.7 1943.0,2392.0 1943.5,2392.3 1944.0,2392.7 1944.5,2393.1 1945.0,2393.5 1945.5,2394.0 1946.0,2394.4 1946.5,2394.9 1947.0,2395.4 1947.5,2395.9 1948.0,2396.4 1948.5,2396.9 1949.0,2397.4 1949.5,2397.9 1950.0,2398.4 1950.5,2398.9 1951.0,2399.4 1951.5,2399.9 1952.0,2400.4 1952.5,2400.9 1953.0,2401.3 1953.5,2401.8 1954.0,2402.2 1954.5,2402.6 1955.0,2403.0 1955.5,2403.3 1956.0,2403.7 1956.5,2404.0 1957.0,2404.2 1957.5,2404.4 1958.0,2404.6 1958.5,2404.8 1959.0,2404.9 1959.5,2405.0 1960.0,2405.0 1960.5,2405.0 1961.0,2404.9 1961.5,2404.8 1962.0,2404.6 1962.5,2404.3 1963.0,2404.0 1963.5,2403.7 1964.0,2403.3 1964.5,2402.9 1965.0,2402.5 1965.5,2401.9 1966.0,2401.4 1966.5,2400.8 1967.0,2400.2 1967.5,2399.6 1968.0,2398.9 1968.5,2398.2 1969.0,2397.4 1969.5,2396.7 1970.0,2395.9 1970.5,2395.1 1971.0,2394.2 1971.5,2393.4 1972.0,2392.5 1972.5,2391.6 1973.0,2390.7" fill="none" stroke="#000" stroke-width="13" stroke-linejoin="round" stroke-linecap="round"/>
<path d="M330.8 2889.0 L330.8 2889.0 L331.8 2889.0 L332.8 2889.0 L333.8 2889.0 L334.8 2889.0 L335.8 2889.0 L336.8 2889.0 L337.8 2889.0 L338.8 2889.0 L339.8 2889.0 L340.8 2889.0 L341.8 2889.0 L342.8 2889.0 L343.8 2889.0 L344.8 2889.0 L345.8 2889.0 L346.8 2889.0 L346.8 2889.0 M375.0 2889.0 L375.0 2889.0 L376.0 2889.0 L377.0 2889.0 L378.0 2889.0 L379.0 2889.0 L380.0 2889.0 L381.0 2889.0 L382.0 2889.0 L383.0 2889.0 L384.0 2889.0 L385.0 2889.0 L386.0 2889.0 L387.0 2889.0 L388.0 2889.0 L389.0 2889.0 L390.0 2889.0 L391.0 2889.0 M419.2 2889.0 L419.2 2889.0 L420.2 2889.0 L421.2 2889.0 L422.2 2889.0 L423.2 2889.0 L424.2 2889.0 L425.2 2889.0 L426.2 2889.0 L427.2 2889.0 L428.2 2889.0 L429.2 2889.0 L430.2 2889.0 L431.2 2889.0 L432.2 2889.0 L433.2 2889.0 L434.2 2889.0 L435.2 2889.0 M463.4 2889.0 L463.5 2889.0 L464.5 2889.0 L465.5 2889.1 L466.5 2889.3 L467.5 2889.6 L468.5 2889.9 L469.5 2890.3 L470.5 2890.8 L471.5 2891.4 L472.5 2892.1 L473.5 2892.8 L474.5 2893.5 L475.5 2894.3 L476.5 2895.2 L477.5 2896.1 L478.5 2897.1 L479.4 2898.0 M488.9 2926.2 L489.0 2926.5 L490.0 2930.0 L491.0 2933.5 L492.0 2937.1 L493.0 2940.9 L493.3 2942.3 M500.4 2970.5 L500.5 2970.7 L501.5 2974.1 L502.5 2977.3 L503.5 2980.4 L504.5 2983.4 L505.5 2986.4 L505.5 2986.5 M516.4 3014.7 L516.5 3014.9 L517.5 3017.1 L518.5 3019.2 L519.5 3021.2 L520.5 3023.2 L521.5 3025.2 L522.5 3027.1 L523.5 3028.9 L524.5 3030.7 L524.5 3030.7 M542.3 3058.9 L542.5 3059.2 L543.5 3060.7 L544.5 3062.2 L545.5 3063.8 L546.5 3065.3 L547.5 3066.9 L548.5 3068.5 L549.5 3070.0 L550.5 3071.6 L551.5 3073.2 L552.5 3074.8 L552.6 3074.9 M571.9 3103.1 L572.0 3103.3 L573.0 3104.5 L574.0 3105.7 L575.0 3106.9 L576.0 3108.1 L577.0 3109.4 L578.0 3110.7 L579.0 3112.0 L580.0 3113.0 L581.0 3113.7 L582.0 3114.0 L583.0 3114.0 L584.0 3114.0 L585.0 3113.9 L586.0 3113.8 L586.2 3113.8 M612.9 3097.8 L613.0 3097.7 L614.0 3096.4 L615.0 3095.2 L616.0 3093.9 L617.0 3092.6 L618.0 3091.2 L619.0 3089.7 L620.0 3088.1 L621.0 3086.5 L622.0 3084.8 L623.0 3083.0 L623.7 3081.8 M639.5 3053.6 L639.8 3053.3 L640.8 3051.9 L641.8 3050.6 L642.8 3049.3 L643.8 3048.1 L644.8 3046.8 L645.8 3045.6 L646.8 3044.4 L647.8 3043.2 L648.8 3042.0 L649.8 3040.9 L650.8 3039.8 L651.8 3038.7 L652.7 3037.6 M680.6 3009.7 L680.8 3009.6 L681.8 3008.6 L682.8 3007.6 L683.8 3006.6 L684.8 3005.6 L685.8 3004.7 L686.8 3003.7 L687.8 3002.7 L688.8 3001.8 L689.8 3000.8 L690.8 2999.8 L691.8 2998.9 L692.8 2997.9 L693.8 2997.0 L694.8 2996.1 L695.8 2995.1 L696.6 2994.3 M724.8 2968.0 L725.0 2967.8 L726.0 2966.8 L727.0 2965.8 L728.0 2964.9 L729.0 2963.9 L730.0 2962.8 L731.0 2961.8 L732.0 2960.8 L733.0 2959.8 L734.0 2958.8 L735.0 2957.8 L736.0 2956.8 L737.0 2955.7 L738.0 2954.7 L739.0 2953.7 L740.0 2952.7 L740.7 2952.0 M768.9 2930.4 L769.0 2930.4 L770.0 2929.8 L771.0 2929.2 L772.0 2928.6 L773.0 2928.0 L774.0 2927.4 L775.0 2926.9 L776.0 2926.3 L777.0 2925.8 L778.0 2925.2 L779.0 2924.7 L780.0 2924.1 L781.0 2923.6 L782.0 2923.1 L783.0 2922.5 L784.0 2922.0 L784.9 2921.6 M813.1 2909.2 L813.2 2909.1 L814.2 2908.7 L815.2 2908.3 L816.2 2907.9 L817.2 2907.5 L818.2 2907.2 L819.2 2906.8 L820.2 2906.4 L821.2 2906.0 L822.2 2905.6 L823.2 2905.2 L824.2 2904.8 L825.2 2904.5 L826.2 2904.1 L827.2 2903.7 L828.2 2903.3 L829.2 2903.0 M857.3 2895.2 L857.5 2895.2 L858.5 2895.1 L859.5 2894.9 L860.5 2894.8 L861.5 2894.7 L862.5 2894.5 L863.5 2894.4 L864.5 2894.3 L865.5 2894.2 L866.5 2894.0 L867.5 2893.9 L868.5 2893.8 L869.5 2893.7 L870.5 2893.6 L871.5 2893.5 L872.5 2893.4 L873.4 2893.3 M901.6 2891.1 L901.8 2891.1 L902.8 2891.0 L903.8 2891.0 L904.8 2890.9 L905.8 2890.8 L906.8 2890.8 L907.8 2890.7 L908.8 2890.7 L909.8 2890.6 L910.8 2890.5 L911.8 2890.5 L912.8 2890.4 L913.8 2890.4 L914.8 2890.3 L915.8 2890.2 L916.8 2890.2 L917.6 2890.1 M945.8 2889.0 L946.0 2889.0 L947.0 2889.0 L948.0 2889.0 L949.0 2889.0 L950.0 2889.0 L951.0 2889.0 L952.0 2889.0 L953.0 2889.0 L954.0 2889.0 L955.0 2889.0 L956.0 2889.0 L957.0 2889.0 L958.0 2889.0 L959.0 2889.0 L960.0 2889.0 L961.0 2889.0 L961.8 2889.0 M990.0 2889.0 L990.2 2889.0 L991.2 2889.0 L992.2 2889.0 L993.2 2889.0 L994.2 2889.0 L995.2 2889.0 L996.2 2889.0 L997.2 2889.0 L998.2 2889.0 L999.2 2889.0 L1000.2 2889.0 L1001.2 2889.0 L1002.2 2889.0 L1003.2 2889.0 L1004.2 2889.0 L1005.2 2889.0 L1006.1 2889.0 M1034.3 2889.0 L1034.5 2889.0 L1035.5 2889.0 L1036.5 2889.0 L1037.5 2889.0 L1038.5 2889.0 L1039.5 2889.0 L1040.5 2889.0 L1041.5 2889.0 L1042.5 2889.0 L1043.5 2889.0 L1044.5 2889.0 L1045.5 2889.0 L1046.5 2889.0 L1047.5 2889.0 L1048.5 2889.0 L1049.5 2889.0 L1050.3 2889.0 M1078.5 2889.0 L1078.5 2889.0 L1079.5 2889.0 L1080.5 2889.0 L1081.5 2889.0 L1082.5 2889.0 L1083.5 2889.0 L1084.5 2889.0 L1085.5 2889.0 L1086.5 2889.0 L1087.5 2889.0 L1088.5 2889.0 L1089.5 2889.0 L1090.5 2889.0 L1091.5 2889.0 L1092.5 2889.0 L1093.5 2889.0 L1094.5 2889.0 L1094.5 2889.0 M1122.7 2889.0 L1122.8 2889.0 L1123.8 2889.0 L1124.8 2889.0 L1125.8 2889.0 L1126.8 2889.0 L1127.8 2889.0 L1128.8 2889.0 L1129.8 2889.0 L1130.8 2889.0 L1131.8 2889.0 L1132.8 2889.0 L1133.8 2889.0 L1134.8 2889.0 L1135.8 2889.0 L1136.8 2889.0 L1137.8 2889.0 L1138.7 2889.0 M1166.9 2889.0 L1167.0 2889.0 L1168.0 2889.0 L1169.0 2889.0 L1170.0 2889.0 L1171.0 2889.0 L1172.0 2889.0 L1173.0 2889.0 L1174.0 2889.0 L1175.0 2889.0 L1176.0 2889.0 L1177.0 2889.0 L1178.0 2889.0 L1179.0 2889.0 L1180.0 2889.0 L1181.0 2889.0 L1182.0 2889.0 L1183.0 2889.0 M1211.1 2889.0 L1211.2 2889.0 L1212.2 2889.0 L1213.2 2889.0 L1214.2 2889.0 L1215.2 2889.0 L1216.2 2889.0 L1217.2 2889.0 L1218.2 2889.0 L1219.2 2889.0 L1220.2 2889.0 L1221.2 2889.0 L1222.2 2889.0 L1223.2 2889.0 L1224.2 2889.0 L1225.2 2889.0 L1226.2 2889.0 L1227.2 2889.0 M1255.4 2889.0 L1255.5 2889.0 L1256.5 2889.0 L1257.5 2889.0 L1258.5 2889.0 L1259.5 2889.0 L1260.5 2889.0 L1261.5 2889.0 L1262.5 2889.0 L1263.5 2889.0 L1264.5 2889.0 L1265.5 2889.0 L1266.5 2889.0 L1267.5 2889.0 L1268.5 2889.0 L1269.5 2889.0 L1270.5 2889.0 L1271.4 2889.0 M1299.6 2889.0 L1299.8 2889.0 L1300.8 2889.0 L1301.8 2889.0 L1302.8 2889.0 L1303.8 2889.0 L1304.8 2889.0 L1305.8 2889.0 L1306.8 2889.0 L1307.8 2889.0 L1308.8 2889.0 L1309.8 2889.0 L1310.8 2889.0 L1311.8 2889.0 L1312.8 2889.0 L1313.8 2889.0 L1314.8 2889.0 L1315.2 2889.0 M1341.7 2895.5 L1341.8 2895.5 L1342.8 2896.1 L1343.8 2896.8 L1344.8 2897.4 L1345.8 2898.1 L1346.8 2898.9 L1347.8 2899.7 L1348.8 2900.6 L1349.8 2901.5 L1350.8 2902.4 L1351.8 2903.5 L1352.8 2904.6 L1353.8 2905.7 L1354.8 2906.9 L1355.8 2908.2 L1355.9 2908.5 M1365.4 2935.0 L1365.5 2935.6 L1366.5 2939.0 L1367.5 2941.3 L1368.5 2942.0 L1369.5 2942.0 L1370.5 2942.0 L1371.5 2942.0 L1372.5 2942.0 L1373.5 2942.0 L1374.5 2942.0 L1375.5 2942.0 L1376.3 2942.0 M1397.4 2946.2 L1397.5 2946.6 L1398.5 2950.1 L1399.5 2953.5 L1400.5 2956.5 L1401.5 2958.8 L1402.5 2960.8 L1402.7 2961.3 M1416.0 2964.4 L1416.2 2963.2 L1417.2 2957.4 L1418.2 2951.6 L1418.7 2949.3 M1430.1 2922.7 L1430.2 2922.6 L1431.2 2921.2 L1432.2 2919.8 L1433.2 2918.4 L1434.2 2917.0 L1435.2 2915.5 L1436.2 2913.9 L1437.2 2912.2 L1438.2 2910.4 L1439.2 2908.3 L1439.6 2907.6 M1455.9 2887.2 L1456.0 2887.2 L1457.0 2887.3 L1458.0 2887.5 L1459.0 2887.6 L1460.0 2887.7 L1461.0 2887.9 L1462.0 2888.1 L1463.0 2888.3 L1464.0 2888.5 L1465.0 2888.8 L1466.0 2889.0 L1467.0 2889.3 L1468.0 2889.6 L1469.0 2889.9 L1470.0 2890.2 L1471.0 2890.6 L1471.1 2890.6 M1488.0 2914.1 L1488.2 2914.6 L1489.2 2916.2 L1490.2 2917.6 L1491.2 2918.9 L1492.2 2920.3 L1493.2 2921.6 L1494.2 2922.9 L1495.2 2924.1 L1496.2 2925.4 L1497.2 2926.6 L1498.2 2927.8 L1499.2 2928.9 L1499.7 2929.4 M1526.5 2941.7 L1526.5 2941.7 L1527.5 2941.8 L1528.5 2941.9 L1529.5 2941.9 L1530.5 2942.0 L1531.5 2942.0 L1532.5 2941.9 L1533.5 2941.6 L1534.5 2941.1 L1535.5 2940.5 L1536.5 2939.8 L1537.5 2938.9 L1538.5 2937.9 L1539.5 2936.9 L1540.5 2935.7 L1541.3 2934.7 M1565.4 2917.7 L1565.5 2917.7 L1566.5 2917.8 L1567.5 2918.0 L1568.5 2918.2 L1569.5 2918.3 L1570.5 2918.5 L1571.5 2918.8 L1572.5 2919.0 L1573.5 2919.3 L1574.5 2919.6 L1575.5 2919.8 L1576.5 2920.2 L1577.5 2920.5 L1578.5 2920.8 L1579.5 2921.2 L1580.5 2921.6 L1580.7 2921.7 M1601.5 2922.9 L1601.5 2922.9 L1602.5 2921.6 L1603.5 2920.4 L1604.5 2919.2 L1605.5 2918.1 L1606.5 2917.1 L1607.5 2916.3 L1608.5 2915.6 L1609.5 2915.0 L1610.5 2914.7 L1611.5 2914.6 L1612.5 2914.6 L1613.5 2914.6 L1614.5 2914.7 L1615.5 2914.7 L1616.0 2914.7 M1642.8 2924.2 L1643.0 2924.4 L1644.0 2925.4 L1645.0 2926.3 L1646.0 2927.3 L1647.0 2928.2 L1648.0 2928.9 L1649.0 2929.6 L1650.0 2930.2 L1651.0 2930.6 L1652.0 2930.9 L1653.0 2931.0 L1654.0 2931.0 L1655.0 2930.9 L1656.0 2930.8 L1657.0 2930.6 L1658.0 2930.5 L1658.1 2930.5 M1674.9 2945.0 L1675.0 2944.8 L1676.0 2942.9 L1677.0 2940.7 L1678.0 2938.3 L1679.0 2935.9 L1680.0 2933.5 L1681.0 2931.3 L1681.9 2929.7 M1707.8 2906.6 L1708.0 2906.3 L1709.0 2905.1 L1710.0 2903.9 L1711.0 2902.7 L1712.0 2901.5 L1713.0 2900.2 L1714.0 2899.0 L1715.0 2897.9 L1716.0 2896.8 L1717.0 2895.8 L1718.0 2894.8 L1719.0 2894.0 L1720.0 2893.4 L1721.0 2892.9 L1721.5 2892.7 M1748.4 2888.6 L1748.5 2888.6 L1749.5 2888.6 L1750.5 2888.6 L1751.5 2888.7 L1752.5 2888.8 L1753.5 2888.9 L1754.5 2889.0 L1755.5 2889.2 L1756.5 2889.4 L1757.5 2889.6 L1758.5 2889.8 L1759.5 2890.0 L1760.5 2890.3 L1761.5 2890.5 L1762.5 2890.7 L1763.5 2890.9 L1764.0 2890.9 M1792.1 2890.8 L1792.2 2890.8 L1793.2 2890.8 L1794.2 2890.8 L1795.2 2890.8 L1796.2 2890.9 L1797.2 2891.0 L1798.2 2891.2 L1799.2 2891.3 L1800.2 2891.5 L1801.2 2891.7 L1802.2 2892.0 L1803.2 2892.2 L1804.2 2892.5 L1805.2 2892.8 L1806.2 2893.1 L1807.2 2893.4 L1808.1 2893.6 M1836.2 2902.9 L1836.2 2902.9 L1837.2 2903.3 L1838.2 2903.6 L1839.2 2903.9 L1840.2 2904.2 L1841.2 2904.4 L1842.2 2904.7 L1843.2 2905.0 L1844.2 2905.2 L1845.2 2905.5 L1846.2 2905.7 L1847.2 2906.0 L1848.2 2906.2 L1849.2 2906.5 L1850.2 2906.8 L1851.2 2907.1 L1852.2 2907.3 M1880.3 2922.9 L1880.5 2922.9 L1881.5 2922.7 L1882.5 2922.5 L1883.5 2922.2 L1884.5 2921.9 L1885.5 2921.5 L1886.5 2921.0 L1887.5 2920.5 L1888.5 2920.0 L1889.5 2919.5 L1890.5 2918.9 L1891.5 2918.4 L1892.5 2917.8 L1893.5 2917.2 L1894.5 2916.7 L1895.5 2916.2 L1896.3 2915.7 M1924.4 2904.9 L1924.5 2904.9 L1925.5 2904.6 L1926.5 2904.2 L1927.5 2903.9 L1928.5 2903.6 L1929.5 2903.3 L1930.5 2903.0 L1931.5 2902.7 L1932.5 2902.5 L1933.5 2902.2 L1934.5 2901.9 L1935.5 2901.6 L1936.5 2901.3 L1937.5 2901.1 L1938.5 2900.8 L1939.5 2900.6 L1940.4 2900.3" fill="none" stroke="#ff0000" stroke-width="13" stroke-linecap="round" stroke-linejoin="round"/>
<path d="M332.5 3356.5h0.01 M352.8 3356.3h0.01 M373.1 3356.1h0.01 M393.4 3356.0h0.01 M413.7 3356.0h0.01 M434.0 3356.1h0.01 M454.3 3356.2h0.01 M474.6 3356.3h0.01 M494.9 3356.5h0.01 M515.2 3356.7h0.01 M535.6 3357.2h0.01 M555.9 3358.0h0.01 M576.2 3359.0h0.01 M596.5 3361.6h0.01 M604.9 3381.5h0.01 M605.8 3401.8h0.01 M607.0 3422.1h0.01 M609.1 3438.7h0.01 M610.8 3418.4h0.01 M613.2 3398.1h0.01 M622.1 3377.8h0.01 M642.3 3366.9h0.01 M662.6 3362.6h0.01 M682.9 3359.0h0.01 M703.2 3358.0h0.01 M723.5 3358.0h0.01 M743.8 3360.7h0.01 M764.1 3369.3h0.01 M784.4 3366.1h0.01 M804.7 3359.1h0.01 M825.1 3357.4h0.01 M845.4 3356.5h0.01 M865.7 3355.9h0.01 M886.0 3355.4h0.01 M906.3 3355.1h0.01 M926.6 3355.0h0.01 M946.9 3355.0h0.01 M967.2 3355.2h0.01 M987.5 3355.5h0.01 M1007.8 3355.8h0.01 M1028.3 3356.2h0.01 M1048.8 3356.5h0.01 M1069.2 3356.8h0.01 M1089.7 3357.0h0.01 M1110.2 3357.0h0.01 M1130.7 3357.0h0.01 M1151.2 3357.0h0.01 M1171.6 3357.0h0.01 M1192.1 3357.0h0.01 M1212.6 3357.0h0.01 M1233.1 3357.0h0.01 M1253.5 3357.0h0.01 M1274.0 3357.0h0.01 M1294.5 3357.0h0.01 M1315.0 3357.0h0.01 M1335.5 3357.1h0.01 M1355.9 3357.4h0.01 M1376.4 3357.9h0.01 M1396.9 3358.8h0.01 M1409.5 3377.2h0.01 M1412.5 3397.2h0.01 M1414.8 3417.2h0.01 M1417.1 3437.2h0.01 M1419.5 3457.2h0.01 M1420.4 3477.2h0.01 M1421.8 3497.2h0.01 M1422.7 3517.2h0.01 M1423.4 3537.2h0.01 M1424.1 3557.2h0.01 M1424.7 3577.2h0.01 M1426.1 3563.8h0.01 M1426.8 3543.8h0.01 M1427.3 3523.8h0.01 M1427.9 3503.7h0.01 M1428.5 3483.7h0.01 M1429.0 3463.7h0.01 M1429.6 3443.7h0.01 M1433.9 3423.7h0.01 M1436.9 3403.7h0.01 M1441.4 3383.7h0.01 M1453.6 3393.7h0.01 M1455.6 3413.7h0.01 M1456.1 3433.7h0.01 M1457.2 3453.7h0.01 M1458.7 3473.7h0.01 M1459.5 3493.7h0.01 M1460.2 3513.7h0.01 M1461.1 3533.7h0.01 M1462.5 3553.7h0.01 M1463.8 3573.7h0.01 M1465.6 3593.6h0.01 M1467.9 3573.3h0.01 M1469.8 3552.8h0.01 M1472.2 3532.3h0.01 M1474.2 3511.9h0.01 M1475.4 3491.4h0.01 M1476.8 3470.9h0.01 M1479.4 3450.5h0.01 M1482.4 3430.0h0.01 M1486.8 3409.5h0.01 M1500.0 3391.6h0.01 M1513.0 3375.5h0.01 M1532.7 3382.4h0.01 M1537.3 3402.9h0.01 M1543.9 3423.4h0.01 M1545.3 3443.8h0.01 M1546.4 3464.3h0.01 M1547.7 3484.7h0.01 M1549.2 3505.2h0.01 M1552.7 3507.8h0.01 M1554.4 3487.3h0.01 M1555.9 3466.8h0.01 M1557.9 3446.4h0.01 M1561.6 3425.9h0.01 M1572.8 3407.0h0.01 M1593.3 3395.6h0.01 M1611.9 3399.7h0.01 M1614.3 3420.2h0.01 M1618.5 3433.5h0.01 M1621.6 3413.1h0.01 M1625.8 3392.6h0.01 M1639.9 3372.6h0.01 M1660.4 3362.6h0.01 M1678.6 3372.6h0.01 M1699.0 3361.5h0.01 M1719.5 3357.9h0.01 M1740.0 3360.5h0.01 M1760.4 3362.6h0.01 M1771.3 3382.9h0.01 M1780.4 3387.4h0.01 M1789.6 3367.0h0.01 M1804.7 3377.8h0.01 M1806.4 3398.3h0.01 M1807.6 3418.8h0.01 M1808.1 3439.2h0.01 M1808.6 3459.7h0.01 M1809.4 3480.2h0.01 M1810.7 3460.0h0.01 M1811.4 3439.4h0.01 M1812.1 3418.7h0.01 M1813.0 3398.0h0.01 M1817.4 3377.3h0.01 M1830.0 3376.5h0.01 M1833.4 3397.2h0.01 M1834.2 3417.9h0.01 M1835.9 3423.4h0.01 M1837.0 3402.7h0.01 M1838.0 3382.0h0.01 M1848.4 3364.1h0.01 M1869.1 3361.7h0.01 M1889.8 3358.7h0.01 M1910.5 3358.7h0.01 M1923.0 3375.0h0.01 M1943.3 3366.3h0.01 M1963.6 3362.4h0.01" fill="none" stroke="#0000ff" stroke-width="13.5" stroke-linecap="round" stroke-linejoin="round"/>
</g></svg>
</body></html>
